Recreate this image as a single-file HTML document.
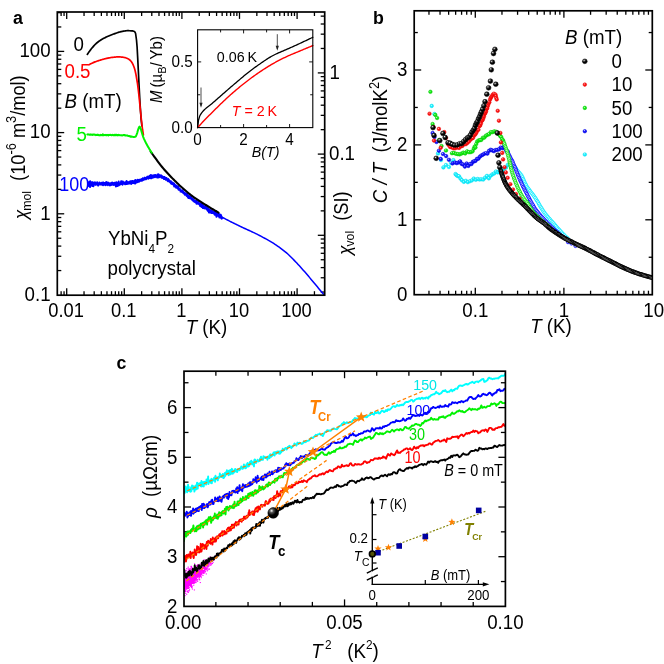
<!DOCTYPE html>
<html><head><meta charset="utf-8"><title>YbNi4P2 figure</title>
<style>html,body{margin:0;padding:0;background:#fff;}svg{display:block;font-family:"Liberation Sans",sans-serif;will-change:transform;}text{font-family:"Liberation Sans",sans-serif;}</style></head><body>
<svg width="664" height="664" viewBox="0 0 664 664">
<defs><radialGradient id="gk" cx="0.35" cy="0.3" r="0.7"><stop offset="0" stop-color="#fff"/><stop offset="0.25" stop-color="#555"/><stop offset="0.6" stop-color="#000"/></radialGradient><radialGradient id="gr" cx="0.38" cy="0.32" r="0.75"><stop offset="0" stop-color="#ffe0e0"/><stop offset="0.3" stop-color="#ff2020"/><stop offset="1" stop-color="#f00000"/></radialGradient><radialGradient id="gg" cx="0.38" cy="0.32" r="0.75"><stop offset="0" stop-color="#e0ffe0"/><stop offset="0.3" stop-color="#20f020"/><stop offset="1" stop-color="#00d800"/></radialGradient><radialGradient id="gb" cx="0.38" cy="0.32" r="0.75"><stop offset="0" stop-color="#d8d8ff"/><stop offset="0.3" stop-color="#2020ff"/><stop offset="1" stop-color="#0000e8"/></radialGradient><radialGradient id="gc" cx="0.38" cy="0.32" r="0.75"><stop offset="0" stop-color="#f0ffff"/><stop offset="0.3" stop-color="#30f4ff"/><stop offset="1" stop-color="#00e4f8"/></radialGradient><radialGradient id="gw" cx="0.5" cy="0.5" r="0.5"><stop offset="0" stop-color="#fff"/><stop offset="0.35" stop-color="#ddd"/><stop offset="0.75" stop-color="#111"/><stop offset="1" stop-color="#000"/></radialGradient></defs>
<rect x="0" y="0" width="664" height="664" fill="#fff"/>
<g id="panelA">
<line x1="61.12" y1="295.2" x2="61.12" y2="291.2" stroke="#000" stroke-width="1.3" />
<line x1="61.12" y1="12" x2="61.12" y2="16" stroke="#000" stroke-width="1.3" />
<line x1="64.06" y1="295.2" x2="64.06" y2="291.2" stroke="#000" stroke-width="1.3" />
<line x1="64.06" y1="12" x2="64.06" y2="16" stroke="#000" stroke-width="1.3" />
<line x1="66.7" y1="295.2" x2="66.7" y2="288.3" stroke="#000" stroke-width="1.3" />
<line x1="66.7" y1="12" x2="66.7" y2="18.9" stroke="#000" stroke-width="1.3" />
<line x1="84.04" y1="295.2" x2="84.04" y2="291.2" stroke="#000" stroke-width="1.3" />
<line x1="84.04" y1="12" x2="84.04" y2="16" stroke="#000" stroke-width="1.3" />
<line x1="94.18" y1="295.2" x2="94.18" y2="291.2" stroke="#000" stroke-width="1.3" />
<line x1="94.18" y1="12" x2="94.18" y2="16" stroke="#000" stroke-width="1.3" />
<line x1="101.38" y1="295.2" x2="101.38" y2="291.2" stroke="#000" stroke-width="1.3" />
<line x1="101.38" y1="12" x2="101.38" y2="16" stroke="#000" stroke-width="1.3" />
<line x1="106.96" y1="295.2" x2="106.96" y2="291.2" stroke="#000" stroke-width="1.3" />
<line x1="106.96" y1="12" x2="106.96" y2="16" stroke="#000" stroke-width="1.3" />
<line x1="111.52" y1="295.2" x2="111.52" y2="291.2" stroke="#000" stroke-width="1.3" />
<line x1="111.52" y1="12" x2="111.52" y2="16" stroke="#000" stroke-width="1.3" />
<line x1="115.38" y1="295.2" x2="115.38" y2="291.2" stroke="#000" stroke-width="1.3" />
<line x1="115.38" y1="12" x2="115.38" y2="16" stroke="#000" stroke-width="1.3" />
<line x1="118.72" y1="295.2" x2="118.72" y2="291.2" stroke="#000" stroke-width="1.3" />
<line x1="118.72" y1="12" x2="118.72" y2="16" stroke="#000" stroke-width="1.3" />
<line x1="121.66" y1="295.2" x2="121.66" y2="291.2" stroke="#000" stroke-width="1.3" />
<line x1="121.66" y1="12" x2="121.66" y2="16" stroke="#000" stroke-width="1.3" />
<line x1="124.3" y1="295.2" x2="124.3" y2="288.3" stroke="#000" stroke-width="1.3" />
<line x1="124.3" y1="12" x2="124.3" y2="18.9" stroke="#000" stroke-width="1.3" />
<line x1="141.64" y1="295.2" x2="141.64" y2="291.2" stroke="#000" stroke-width="1.3" />
<line x1="141.64" y1="12" x2="141.64" y2="16" stroke="#000" stroke-width="1.3" />
<line x1="151.78" y1="295.2" x2="151.78" y2="291.2" stroke="#000" stroke-width="1.3" />
<line x1="151.78" y1="12" x2="151.78" y2="16" stroke="#000" stroke-width="1.3" />
<line x1="158.98" y1="295.2" x2="158.98" y2="291.2" stroke="#000" stroke-width="1.3" />
<line x1="158.98" y1="12" x2="158.98" y2="16" stroke="#000" stroke-width="1.3" />
<line x1="164.56" y1="295.2" x2="164.56" y2="291.2" stroke="#000" stroke-width="1.3" />
<line x1="164.56" y1="12" x2="164.56" y2="16" stroke="#000" stroke-width="1.3" />
<line x1="169.12" y1="295.2" x2="169.12" y2="291.2" stroke="#000" stroke-width="1.3" />
<line x1="169.12" y1="12" x2="169.12" y2="16" stroke="#000" stroke-width="1.3" />
<line x1="172.98" y1="295.2" x2="172.98" y2="291.2" stroke="#000" stroke-width="1.3" />
<line x1="172.98" y1="12" x2="172.98" y2="16" stroke="#000" stroke-width="1.3" />
<line x1="176.32" y1="295.2" x2="176.32" y2="291.2" stroke="#000" stroke-width="1.3" />
<line x1="176.32" y1="12" x2="176.32" y2="16" stroke="#000" stroke-width="1.3" />
<line x1="179.26" y1="295.2" x2="179.26" y2="291.2" stroke="#000" stroke-width="1.3" />
<line x1="179.26" y1="12" x2="179.26" y2="16" stroke="#000" stroke-width="1.3" />
<line x1="181.9" y1="295.2" x2="181.9" y2="288.3" stroke="#000" stroke-width="1.3" />
<line x1="181.9" y1="12" x2="181.9" y2="18.9" stroke="#000" stroke-width="1.3" />
<line x1="199.24" y1="295.2" x2="199.24" y2="291.2" stroke="#000" stroke-width="1.3" />
<line x1="199.24" y1="12" x2="199.24" y2="16" stroke="#000" stroke-width="1.3" />
<line x1="209.38" y1="295.2" x2="209.38" y2="291.2" stroke="#000" stroke-width="1.3" />
<line x1="209.38" y1="12" x2="209.38" y2="16" stroke="#000" stroke-width="1.3" />
<line x1="216.58" y1="295.2" x2="216.58" y2="291.2" stroke="#000" stroke-width="1.3" />
<line x1="216.58" y1="12" x2="216.58" y2="16" stroke="#000" stroke-width="1.3" />
<line x1="222.16" y1="295.2" x2="222.16" y2="291.2" stroke="#000" stroke-width="1.3" />
<line x1="222.16" y1="12" x2="222.16" y2="16" stroke="#000" stroke-width="1.3" />
<line x1="226.72" y1="295.2" x2="226.72" y2="291.2" stroke="#000" stroke-width="1.3" />
<line x1="226.72" y1="12" x2="226.72" y2="16" stroke="#000" stroke-width="1.3" />
<line x1="230.58" y1="295.2" x2="230.58" y2="291.2" stroke="#000" stroke-width="1.3" />
<line x1="230.58" y1="12" x2="230.58" y2="16" stroke="#000" stroke-width="1.3" />
<line x1="233.92" y1="295.2" x2="233.92" y2="291.2" stroke="#000" stroke-width="1.3" />
<line x1="233.92" y1="12" x2="233.92" y2="16" stroke="#000" stroke-width="1.3" />
<line x1="236.86" y1="295.2" x2="236.86" y2="291.2" stroke="#000" stroke-width="1.3" />
<line x1="236.86" y1="12" x2="236.86" y2="16" stroke="#000" stroke-width="1.3" />
<line x1="239.5" y1="295.2" x2="239.5" y2="288.3" stroke="#000" stroke-width="1.3" />
<line x1="239.5" y1="12" x2="239.5" y2="18.9" stroke="#000" stroke-width="1.3" />
<line x1="256.84" y1="295.2" x2="256.84" y2="291.2" stroke="#000" stroke-width="1.3" />
<line x1="256.84" y1="12" x2="256.84" y2="16" stroke="#000" stroke-width="1.3" />
<line x1="266.98" y1="295.2" x2="266.98" y2="291.2" stroke="#000" stroke-width="1.3" />
<line x1="266.98" y1="12" x2="266.98" y2="16" stroke="#000" stroke-width="1.3" />
<line x1="274.18" y1="295.2" x2="274.18" y2="291.2" stroke="#000" stroke-width="1.3" />
<line x1="274.18" y1="12" x2="274.18" y2="16" stroke="#000" stroke-width="1.3" />
<line x1="279.76" y1="295.2" x2="279.76" y2="291.2" stroke="#000" stroke-width="1.3" />
<line x1="279.76" y1="12" x2="279.76" y2="16" stroke="#000" stroke-width="1.3" />
<line x1="284.32" y1="295.2" x2="284.32" y2="291.2" stroke="#000" stroke-width="1.3" />
<line x1="284.32" y1="12" x2="284.32" y2="16" stroke="#000" stroke-width="1.3" />
<line x1="288.18" y1="295.2" x2="288.18" y2="291.2" stroke="#000" stroke-width="1.3" />
<line x1="288.18" y1="12" x2="288.18" y2="16" stroke="#000" stroke-width="1.3" />
<line x1="291.52" y1="295.2" x2="291.52" y2="291.2" stroke="#000" stroke-width="1.3" />
<line x1="291.52" y1="12" x2="291.52" y2="16" stroke="#000" stroke-width="1.3" />
<line x1="294.46" y1="295.2" x2="294.46" y2="291.2" stroke="#000" stroke-width="1.3" />
<line x1="294.46" y1="12" x2="294.46" y2="16" stroke="#000" stroke-width="1.3" />
<line x1="297.1" y1="295.2" x2="297.1" y2="288.3" stroke="#000" stroke-width="1.3" />
<line x1="297.1" y1="12" x2="297.1" y2="18.9" stroke="#000" stroke-width="1.3" />
<line x1="314.44" y1="295.2" x2="314.44" y2="291.2" stroke="#000" stroke-width="1.3" />
<line x1="314.44" y1="12" x2="314.44" y2="16" stroke="#000" stroke-width="1.3" />
<line x1="57.3" y1="270.56" x2="61.3" y2="270.56" stroke="#000" stroke-width="1.3" />
<line x1="57.3" y1="256.26" x2="61.3" y2="256.26" stroke="#000" stroke-width="1.3" />
<line x1="57.3" y1="246.11" x2="61.3" y2="246.11" stroke="#000" stroke-width="1.3" />
<line x1="57.3" y1="238.24" x2="61.3" y2="238.24" stroke="#000" stroke-width="1.3" />
<line x1="57.3" y1="231.81" x2="61.3" y2="231.81" stroke="#000" stroke-width="1.3" />
<line x1="57.3" y1="226.38" x2="61.3" y2="226.38" stroke="#000" stroke-width="1.3" />
<line x1="57.3" y1="221.67" x2="61.3" y2="221.67" stroke="#000" stroke-width="1.3" />
<line x1="57.3" y1="217.52" x2="61.3" y2="217.52" stroke="#000" stroke-width="1.3" />
<line x1="57.3" y1="213.8" x2="64.2" y2="213.8" stroke="#000" stroke-width="1.3" />
<line x1="57.3" y1="189.36" x2="61.3" y2="189.36" stroke="#000" stroke-width="1.3" />
<line x1="57.3" y1="175.06" x2="61.3" y2="175.06" stroke="#000" stroke-width="1.3" />
<line x1="57.3" y1="164.91" x2="61.3" y2="164.91" stroke="#000" stroke-width="1.3" />
<line x1="57.3" y1="157.04" x2="61.3" y2="157.04" stroke="#000" stroke-width="1.3" />
<line x1="57.3" y1="150.61" x2="61.3" y2="150.61" stroke="#000" stroke-width="1.3" />
<line x1="57.3" y1="145.18" x2="61.3" y2="145.18" stroke="#000" stroke-width="1.3" />
<line x1="57.3" y1="140.47" x2="61.3" y2="140.47" stroke="#000" stroke-width="1.3" />
<line x1="57.3" y1="136.32" x2="61.3" y2="136.32" stroke="#000" stroke-width="1.3" />
<line x1="57.3" y1="132.6" x2="64.2" y2="132.6" stroke="#000" stroke-width="1.3" />
<line x1="57.3" y1="108.16" x2="61.3" y2="108.16" stroke="#000" stroke-width="1.3" />
<line x1="57.3" y1="93.86" x2="61.3" y2="93.86" stroke="#000" stroke-width="1.3" />
<line x1="57.3" y1="83.71" x2="61.3" y2="83.71" stroke="#000" stroke-width="1.3" />
<line x1="57.3" y1="75.84" x2="61.3" y2="75.84" stroke="#000" stroke-width="1.3" />
<line x1="57.3" y1="69.41" x2="61.3" y2="69.41" stroke="#000" stroke-width="1.3" />
<line x1="57.3" y1="63.98" x2="61.3" y2="63.98" stroke="#000" stroke-width="1.3" />
<line x1="57.3" y1="59.27" x2="61.3" y2="59.27" stroke="#000" stroke-width="1.3" />
<line x1="57.3" y1="55.12" x2="61.3" y2="55.12" stroke="#000" stroke-width="1.3" />
<line x1="57.3" y1="51.4" x2="64.2" y2="51.4" stroke="#000" stroke-width="1.3" />
<line x1="57.3" y1="26.96" x2="61.3" y2="26.96" stroke="#000" stroke-width="1.3" />
<line x1="57.3" y1="12.66" x2="61.3" y2="12.66" stroke="#000" stroke-width="1.3" />
<line x1="324.7" y1="292.06" x2="320.7" y2="292.06" stroke="#000" stroke-width="1.3" />
<line x1="324.7" y1="277.76" x2="320.7" y2="277.76" stroke="#000" stroke-width="1.3" />
<line x1="324.7" y1="267.61" x2="320.7" y2="267.61" stroke="#000" stroke-width="1.3" />
<line x1="324.7" y1="259.74" x2="320.7" y2="259.74" stroke="#000" stroke-width="1.3" />
<line x1="324.7" y1="253.31" x2="320.7" y2="253.31" stroke="#000" stroke-width="1.3" />
<line x1="324.7" y1="247.88" x2="320.7" y2="247.88" stroke="#000" stroke-width="1.3" />
<line x1="324.7" y1="243.17" x2="320.7" y2="243.17" stroke="#000" stroke-width="1.3" />
<line x1="324.7" y1="239.02" x2="320.7" y2="239.02" stroke="#000" stroke-width="1.3" />
<line x1="324.7" y1="235.3" x2="317.8" y2="235.3" stroke="#000" stroke-width="1.3" />
<line x1="324.7" y1="210.86" x2="320.7" y2="210.86" stroke="#000" stroke-width="1.3" />
<line x1="324.7" y1="196.56" x2="320.7" y2="196.56" stroke="#000" stroke-width="1.3" />
<line x1="324.7" y1="186.41" x2="320.7" y2="186.41" stroke="#000" stroke-width="1.3" />
<line x1="324.7" y1="178.54" x2="320.7" y2="178.54" stroke="#000" stroke-width="1.3" />
<line x1="324.7" y1="172.11" x2="320.7" y2="172.11" stroke="#000" stroke-width="1.3" />
<line x1="324.7" y1="166.68" x2="320.7" y2="166.68" stroke="#000" stroke-width="1.3" />
<line x1="324.7" y1="161.97" x2="320.7" y2="161.97" stroke="#000" stroke-width="1.3" />
<line x1="324.7" y1="157.82" x2="320.7" y2="157.82" stroke="#000" stroke-width="1.3" />
<line x1="324.7" y1="154.1" x2="317.8" y2="154.1" stroke="#000" stroke-width="1.3" />
<line x1="324.7" y1="129.66" x2="320.7" y2="129.66" stroke="#000" stroke-width="1.3" />
<line x1="324.7" y1="115.36" x2="320.7" y2="115.36" stroke="#000" stroke-width="1.3" />
<line x1="324.7" y1="105.21" x2="320.7" y2="105.21" stroke="#000" stroke-width="1.3" />
<line x1="324.7" y1="97.34" x2="320.7" y2="97.34" stroke="#000" stroke-width="1.3" />
<line x1="324.7" y1="90.91" x2="320.7" y2="90.91" stroke="#000" stroke-width="1.3" />
<line x1="324.7" y1="85.48" x2="320.7" y2="85.48" stroke="#000" stroke-width="1.3" />
<line x1="324.7" y1="80.77" x2="320.7" y2="80.77" stroke="#000" stroke-width="1.3" />
<line x1="324.7" y1="76.62" x2="320.7" y2="76.62" stroke="#000" stroke-width="1.3" />
<line x1="324.7" y1="72.9" x2="317.8" y2="72.9" stroke="#000" stroke-width="1.3" />
<line x1="324.7" y1="48.46" x2="320.7" y2="48.46" stroke="#000" stroke-width="1.3" />
<line x1="324.7" y1="34.16" x2="320.7" y2="34.16" stroke="#000" stroke-width="1.3" />
<line x1="324.7" y1="24.01" x2="320.7" y2="24.01" stroke="#000" stroke-width="1.3" />
<line x1="324.7" y1="16.14" x2="320.7" y2="16.14" stroke="#000" stroke-width="1.3" />
<path d="M87.3 54.4 L87.91 53.5 L88.52 52.62 L89.13 51.76 L89.75 50.92 L90.36 50.11 L90.97 49.34 L91.58 48.58 L92.19 47.83 L92.8 47.1 L93.41 46.38 L94.03 45.68 L94.64 45.01 L95.25 44.38 L95.86 43.79 L96.47 43.24 L97.08 42.72 L97.69 42.23 L98.31 41.76 L98.92 41.3 L99.53 40.87 L100.14 40.45 L100.75 40.05 L101.36 39.67 L101.97 39.3 L102.58 38.95 L103.2 38.61 L103.81 38.29 L104.42 37.97 L105.03 37.67 L105.64 37.38 L106.25 37.1 L106.86 36.82 L107.48 36.55 L108.09 36.28 L108.7 36.02 L109.31 35.76 L109.92 35.51 L110.53 35.25 L111.14 35 L111.76 34.76 L112.37 34.52 L112.98 34.28 L113.59 34.05 L114.2 33.83 L114.81 33.61 L115.42 33.4 L116.04 33.19 L116.65 32.98 L117.26 32.77 L117.87 32.56 L118.48 32.36 L119.09 32.16 L119.7 31.98 L120.32 31.82 L120.93 31.68 L121.54 31.55 L122.15 31.44 L122.76 31.32 L123.37 31.2 L123.98 31.09 L124.59 30.99 L125.21 30.9 L125.82 30.83 L126.43 30.77 L127.04 30.72 L127.65 30.7 L128.26 30.7 L128.87 30.71 L129.49 30.73 L130.1 30.76 L130.71 30.8 L131.32 30.84 L131.93 30.89 L132.54 30.96 L133.15 31.07 L133.77 31.24 L134.38 31.49 L134.99 32.1 L135.6 33.5 L136.5 40 L137.1 47 L137.7 58 L138.3 70 L138.8 80 L139.4 92 L140 103 L140.6 112 L141.2 120 L141.9 126" fill="none" stroke="#000" stroke-width="1.7" stroke-linejoin="round" stroke-linecap="round" />
<path d="M88.9 182.29 L89.02 186.11 L89.14 181.9 L89.26 184.92 L89.38 186.1 L89.51 181.42 L89.63 183.5 L89.75 181.93 L89.87 184.35 L89.99 186.28 L90.11 187.01 L90.23 181.32 L90.35 183.11 L90.47 184.97 L90.6 186.2 L90.72 184.54 L90.84 182.91 L90.96 184.35 L91.08 183.91 L91.2 183.66 L91.32 182.97 L91.44 184.43 L91.56 184.31 L91.69 183.8 L91.81 183.64 L91.93 182.36 L92.05 183.33 L92.17 185.31 L92.29 183.69 L92.41 182.29 L92.53 185.36 L92.65 184.46 L92.78 186.1 L92.9 183.95 L93.02 183.43 L93.14 182.48 L93.26 185.14 L93.38 186.25 L93.5 183.14 L93.62 183.31 L93.74 184.38 L93.87 183.18 L93.99 183.65 L94.11 183.58 L94.23 184.02 L94.35 184.73 L94.47 183.87 L94.59 184.59 L94.71 183.52 L94.83 184.11 L94.96 182.14 L95.08 182.69 L95.2 184.48 L95.32 183.37 L95.44 184.3 L95.56 184.27 L95.68 184.89 L95.8 184.48 L95.92 184.64 L96.05 183.74 L96.17 183.27 L96.29 183.24 L96.41 183.44 L96.53 182.93 L96.65 183.39 L96.77 183.75 L96.89 184.02 L97.01 183.55 L97.14 182.29 L97.26 183.76 L97.38 183.99 L97.5 184.67 L97.62 184.27 L97.74 183.3 L97.86 183.24 L97.98 185.4 L98.1 184.41 L98.23 185.26 L98.35 185.49 L98.47 183.16 L98.59 184.11 L98.71 184.17 L98.83 184.25 L98.95 184.23 L99.07 183.96 L99.19 183.94 L99.32 182.61 L99.44 183.67 L99.56 183.21 L99.68 183.9 L99.8 183.43 L99.92 184.29 L100.04 184.45 L100.16 184.04 L100.28 184.05 L100.41 183.87 L100.53 183.45 L100.65 183.67 L100.77 183.41 L100.89 184.11 L101.01 183.81 L101.13 184.26 L101.25 182.76 L101.37 184.5 L101.5 183.21 L101.62 183.23 L101.74 183.65 L101.86 183.36 L101.98 184.04 L102.1 183.36 L102.22 182.97 L102.34 183.15 L102.46 184.84 L102.59 183.85 L102.71 182.9 L102.83 183.82 L102.95 182.6 L103.07 185.22 L103.19 182.62 L103.31 184.19 L103.43 184.24 L103.55 182.69 L103.68 184.06 L103.8 184.6 L103.92 184.19 L104.04 184.03 L104.16 184.57 L104.28 183.95 L104.4 184.09 L104.52 183.73 L104.64 184.33 L104.77 183.1 L104.89 184.45 L105.01 183.44 L105.13 182.99 L105.25 184.12 L105.37 185.16 L105.49 184.59 L105.61 183.44 L105.73 184.39 L105.86 183.5 L105.98 183.75 L106.1 183.92 L106.22 182.05 L106.34 184 L106.46 183.06 L106.58 183.32 L106.7 182.72 L106.82 182.68 L106.95 183.13 L107.07 184.5 L107.19 185.16 L107.31 183.85 L107.43 184.71 L107.55 183.66 L107.67 182.39 L107.79 183.99 L107.91 184.22 L108.04 183.54 L108.16 184.11 L108.28 184.32 L108.4 183.21 L108.52 182.74 L108.64 183.71 L108.76 183.72 L108.88 183.61 L109 184.65 L109.13 185.22 L109.25 183.57 L109.37 184.43 L109.49 184.61 L109.61 184.44 L109.73 184.7 L109.85 183.59 L109.97 184.46 L110.09 185.45 L110.22 184.51 L110.34 183.42 L110.46 184.36 L110.58 184.87 L110.7 184.18 L110.82 183.46 L110.94 185.08 L111.06 182.94 L111.18 184.28 L111.31 183.89 L111.43 182.98 L111.55 184.83 L111.67 184.17 L111.79 183.01 L111.91 184.36 L112.03 183.57 L112.15 182.44 L112.27 183.37 L112.4 184.1 L112.52 184.38 L112.64 184.02 L112.76 183.93 L112.88 184.25 L113 183.73 L113.12 184.79 L113.24 184 L113.36 184.11 L113.49 184.29 L113.61 183.07 L113.73 183.33 L113.85 185.04 L113.97 184.12 L114.09 183.65 L114.21 184.12 L114.33 183.49 L114.45 184.06 L114.58 183.34 L114.7 184.05 L114.82 182.64 L114.94 184.84 L115.06 183.43 L115.18 182.62 L115.3 183.64 L115.42 183.52 L115.54 183.91 L115.67 182.92 L115.79 184.09 L115.91 186.52 L116.03 182.8 L116.15 184.02 L116.27 183.52 L116.39 183.89 L116.51 182.37 L116.63 182.86 L116.76 184.07 L116.88 183.69 L117 184.94 L117.12 183.17 L117.24 183.82 L117.36 185.88 L117.48 183.1 L117.6 182.98 L117.72 183.63 L117.85 183.61 L117.97 184.27 L118.09 183.73 L118.21 183.05 L118.33 183.77 L118.45 185.59 L118.57 184.55 L118.69 181.49 L118.81 183.46 L118.94 182.9 L119.06 184.02 L119.18 183.41 L119.3 184.98 L119.42 184.22 L119.54 184.18 L119.66 183.64 L119.78 183.46 L119.9 183.73 L120.03 184.44 L120.15 183.85 L120.27 183.18 L120.39 184.39 L120.51 183.56 L120.63 183.35 L120.75 182.81 L120.87 182.96 L120.99 182.9 L121.12 181.27 L121.24 184.11 L121.36 183.76 L121.48 183.17 L121.6 184.1 L121.72 183.63 L121.84 183.57 L121.96 181.44 L122.08 183.1 L122.21 183.66 L122.33 184.45 L122.45 184.61 L122.57 184.29 L122.69 182.35 L122.81 181.57 L122.93 183.62 L123.05 183.2 L123.17 183.89 L123.3 183.06 L123.42 183.31 L123.54 182.02 L123.66 183.46 L123.78 182.78 L123.9 183.36 L124.02 183.43 L124.14 182.99 L124.26 183.3 L124.39 183.05 L124.51 183.61 L124.63 183.41 L124.75 182.62 L124.87 182.58 L124.99 184.29 L125.11 182.91 L125.23 183.71 L125.35 183.26 L125.48 182.54 L125.6 182.39 L125.72 183.02 L125.84 183.11 L125.96 183.37 L126.08 181.97 L126.2 182.45 L126.32 182.81 L126.44 184.05 L126.57 181.11 L126.69 183.17 L126.81 182.44 L126.93 183.14 L127.05 182.45 L127.17 183.07 L127.29 183.94 L127.41 183.04 L127.53 183.09 L127.66 183.03 L127.78 182.19 L127.9 183.13 L128.02 182.57 L128.14 182.11 L128.26 182.67 L128.38 182.52 L128.5 183.22 L128.62 182.63 L128.75 182.26 L128.87 183.7 L128.99 183.35 L129.11 183.54 L129.23 183.04 L129.35 182.5 L129.47 182.26 L129.59 182.35 L129.71 183.24 L129.84 182.61 L129.96 181.43 L130.08 182.47 L130.2 181.45 L130.32 182.6 L130.44 181.58 L130.56 181.52 L130.68 182.52 L130.8 182.36 L130.93 181.19 L131.05 182.94 L131.17 183.96 L131.29 181.28 L131.41 183.68 L131.53 181.83 L131.65 181.95 L131.77 182.17 L131.89 181.23 L132.02 183.22 L132.14 182.61 L132.26 181.69 L132.38 182.02 L132.5 181.1 L132.62 181.93 L132.74 182.85 L132.86 180.9 L132.98 181.82 L133.11 182.23 L133.23 182.87 L133.35 183.07 L133.47 181.74 L133.59 181.51 L133.71 182.36 L133.83 181.75 L133.95 181.77 L134.07 182.76 L134.2 183.19 L134.32 182.13 L134.44 181.78 L134.56 182.32 L134.68 180.51 L134.8 181.85 L134.92 181.07 L135.04 183.55 L135.16 182.32 L135.29 181.88 L135.41 181.62 L135.53 179.92 L135.65 182.23 L135.77 182.88 L135.89 181.15 L136.01 182.15 L136.13 182.15 L136.25 180.49 L136.38 182.26 L136.5 182.54 L136.62 181.7 L136.74 181.47 L136.86 182.05 L136.98 180.34 L137.1 181.49 L137.22 182.16 L137.34 180.47 L137.47 182.05 L137.59 181 L137.71 179.77 L137.83 181.16 L137.95 180.5 L138.07 181.39 L138.19 180.28 L138.31 181.84 L138.43 180.52 L138.56 181.26 L138.68 180.54 L138.8 180.7 L138.92 181.74 L139.04 181 L139.16 180.52 L139.28 179.86 L139.4 181.55 L139.52 181.2 L139.65 180.39 L139.77 180.76 L139.89 179.8 L140.01 179.76 L140.13 179.85 L140.25 180.65 L140.37 180.57 L140.49 179.77 L140.61 180.79 L140.74 180.77 L140.86 180.29 L140.98 180.86 L141.1 179.86 L141.22 179.94 L141.34 180.31 L141.46 179.9 L141.58 180.44 L141.7 178.93 L141.83 180.8 L141.95 179.17 L142.07 179.57 L142.19 178.65 L142.31 180.01 L142.43 180.45 L142.55 180.25 L142.67 180.04 L142.79 178.29 L142.92 178.79 L143.04 178.97 L143.16 178.59 L143.28 180.01 L143.4 179.29 L143.52 179.1 L143.64 179.42 L143.76 178.35 L143.88 178.34 L144.01 178.31 L144.13 179.25 L144.25 179.1 L144.37 179.22 L144.49 179.53 L144.61 177.77 L144.73 178.29 L144.85 178.75 L144.97 177.65 L145.1 178.19 L145.22 179.25 L145.34 179.27 L145.46 179.21 L145.58 178.44 L145.7 178.22 L145.82 179.1 L145.94 178.03 L146.06 178.49 L146.19 179.15 L146.31 177.91 L146.43 177.7 L146.55 178.08 L146.67 178.47 L146.79 178.35 L146.91 178.08 L147.03 178.32 L147.15 176.76 L147.28 177.24 L147.4 177.93 L147.52 177.12 L147.64 176.79 L147.76 176.84 L147.88 177.01 L148 177.49 L148.12 176.86 L148.24 177.7 L148.37 178.69 L148.49 177.36 L148.61 178.32 L148.73 177.59 L148.85 176.57 L148.97 177.14 L149.09 176.59 L149.21 177.78 L149.33 176.4 L149.46 178.1 L149.58 177.55 L149.7 175.7 L149.82 177.63 L149.94 178.14 L150.06 176.46 L150.18 177.68 L150.3 175.7 L150.42 177.1 L150.55 175.74 L150.67 177.21 L150.79 175.6 L150.91 174.99 L151.03 177.07 L151.15 178.36 L151.27 176.33 L151.39 177.29 L151.51 176.77 L151.64 176.44 L151.76 177.07 L151.88 177.75 L152 175.73 L152.12 176.95 L152.24 176.77 L152.36 175.52 L152.48 177.6 L152.6 177.8 L152.73 175.77 L152.85 177.6 L152.97 176.42 L153.09 176.24 L153.21 177.36 L153.33 176.46 L153.45 176.5 L153.57 177.3 L153.69 177.12 L153.82 176.82 L153.94 175.23 L154.06 175.09 L154.18 176.91 L154.3 175.49 L154.42 176.21 L154.54 175.35 L154.66 175.94 L154.78 175.18 L154.91 177.14 L155.03 175.32 L155.15 175.92 L155.27 175.86 L155.39 176.79 L155.51 175 L155.63 175.93 L155.75 175.8 L155.87 176.29 L155.99 176.24 L156.12 175.6 L156.24 176.07 L156.36 175.65 L156.48 176.22 L156.6 175.83 L156.72 175.46 L156.84 175.88 L156.96 176.15 L157.08 177.43 L157.21 175.58 L157.33 176.12 L157.45 176.9 L157.57 174.54 L157.69 174.77 L157.81 175.15 L157.93 175.88 L158.05 177.59 L158.17 176.24 L158.3 176.79 L158.42 175.85 L158.54 174.37 L158.66 174.49 L158.78 176.72 L158.9 176.18 L159.02 175.21 L159.14 176.83 L159.26 175.09 L159.39 176.88 L159.51 177.11 L159.63 175.66 L159.75 175.45 L159.87 176.76 L159.99 175.5 L160.11 176.81 L160.23 175.48 L160.35 176.82 L160.48 176.37 L160.6 176.04 L160.72 175.76 L160.84 176.53 L160.96 175.15 L161.08 176.23 L161.2 176.18 L161.32 176.91 L161.44 175.68 L161.57 177.65 L161.69 176.36 L161.81 175.85 L161.93 177.54 L162.05 177.75 L162.17 176.59 L162.29 176.17 L162.41 176.8 L162.53 176.39 L162.66 176.68 L162.78 177.94 L162.9 177.23 L163.02 177.12 L163.14 177.3 L163.26 177.09 L163.38 177.73 L163.5 177.8 L163.62 177.05 L163.75 177.41 L163.87 178.95 L163.99 177.72 L164.11 177.38 L164.23 178.88 L164.35 177.63 L164.47 176.98 L164.59 178.18 L164.71 177.23 L164.84 177.56 L164.96 178.16 L165.08 177.94 L165.2 177.61 L165.32 177.82 L165.44 177.87 L165.56 179.07 L165.68 177.94 L165.8 178.12 L165.93 179.86 L166.05 178.29 L166.17 179.67 L166.29 179.64 L166.41 178.8 L166.53 178.08 L166.65 179.35 L166.77 179.57 L166.89 179.84 L167.02 179.36 L167.14 180.16 L167.26 180.36 L167.38 178.9 L167.5 180.56 L167.62 179.86 L167.74 179.48 L167.86 179.73 L167.98 181.2 L168.11 180.73 L168.23 179.09 L168.35 180.36 L168.47 180.31 L168.59 180.39 L168.71 180.27 L168.83 179.78 L168.95 181.32 L169.07 180.3 L169.2 180.75 L169.32 180.7 L169.44 180.72 L169.56 181.73 L169.68 181.61 L169.8 181.05 L169.92 180.97 L170.04 181.37 L170.16 182.35 L170.29 181.92 L170.41 182.08 L170.53 181.83 L170.65 181.97 L170.77 182.36 L170.89 181.18 L171.01 183.41 L171.13 182.02 L171.25 182.25 L171.38 183.52 L171.5 182.93 L171.62 182.91 L171.74 182.63 L171.86 182.12 L171.98 183.29 L172.1 184 L172.22 182.81 L172.34 184.29 L172.47 182.87 L172.59 183.2 L172.71 184.05 L172.83 183.84 L172.95 184.35 L173.07 183.58 L173.19 183.5 L173.31 183.09 L173.43 183.59 L173.56 183.76 L173.68 183.64 L173.8 184.79 L173.92 184.3 L174.04 183.59 L174.16 186.39 L174.28 184.48 L174.4 184.32 L174.52 185.92 L174.65 185.97 L174.77 184.68 L174.89 184.58 L175.01 184.96 L175.13 186.33 L175.25 185.56 L175.37 185.36 L175.49 185.93 L175.61 186.76 L175.74 185.3 L175.86 186 L175.98 185.5 L176.1 187.73 L176.22 187.62 L176.34 187.19 L176.46 186.63 L176.58 187.21 L176.7 185.64 L176.83 187.17 L176.95 186.29 L177.07 186.4 L177.19 186.87 L177.31 187.18 L177.43 187.83 L177.55 188.01 L177.67 187.84 L177.79 187.2 L177.92 188.28 L178.04 187.9 L178.16 188.78 L178.28 187.61 L178.4 186.58 L178.52 188.07 L178.64 189.76 L178.76 188.84 L178.88 188.53 L179.01 189.29 L179.13 189.15 L179.25 189.23 L179.37 188.73 L179.49 189.19 L179.61 189.36 L179.73 188.95 L179.85 188.76 L179.97 189.62 L180.1 190.22 L180.22 190.13 L180.34 190.13 L180.46 190.24 L180.58 191.61 L180.7 190.29 L180.82 190.86 L180.94 191.52 L181.06 190.45 L181.19 190.68 L181.31 191.26 L181.43 191.75 L181.55 191.01 L181.67 191.14 L181.79 191.07 L181.91 190.37 L182.03 191.9 L182.15 191.15 L182.28 190.35 L182.4 191.42 L182.52 190.54 L182.64 191.08 L182.76 191.81 L182.88 191.33 L183 192.66 L183.12 191.19 L183.24 192.36 L183.37 192.64 L183.49 193.29 L183.61 193.06 L183.73 192.73 L183.85 192.74 L183.97 192.75 L184.09 193.59 L184.21 192.57 L184.33 193.4 L184.46 193.11 L184.58 193.42 L184.7 193.2 L184.82 194.79 L184.94 193.15 L185.06 193.81 L185.18 193.92 L185.3 194.23 L185.42 194.22 L185.55 194.31 L185.67 194.75 L185.79 193.3 L185.91 194.34 L186.03 193.66 L186.15 194.67 L186.27 193.89 L186.39 194.12 L186.51 194.78 L186.64 195.78 L186.76 195.37 L186.88 195.29 L187 196.08 L187.12 194.71 L187.24 194.09 L187.36 195.23 L187.48 195.42 L187.6 196.46 L187.73 197.12 L187.85 195.05 L187.97 197.53 L188.09 197.05 L188.21 196.7 L188.33 196.5 L188.45 197.88 L188.57 196.51 L188.69 196.26 L188.82 196.74 L188.94 195.89 L189.06 197.14 L189.18 196.87 L189.3 197.24 L189.42 197.36 L189.54 196.56 L189.66 198.15 L189.78 196.77 L189.91 198.07 L190.03 196.6 L190.15 197.93 L190.27 197.27 L190.39 197.91 L190.51 197.56 L190.63 196.69 L190.75 197.46 L190.87 198.3 L191 198.74 L191.12 197.51 L191.24 197.19 L191.36 198.07 L191.48 198.58 L191.6 198.4 L191.72 198.38 L191.84 199.52 L191.96 199.69 L192.09 199.63 L192.21 198.66 L192.33 199.39 L192.45 199.31 L192.57 198.61 L192.69 200.16 L192.81 199.75 L192.93 199.47 L193.05 200.77 L193.18 200.44 L193.3 200.58 L193.42 200.89 L193.54 200.66 L193.66 199.49 L193.78 200.13 L193.9 201.1 L194.02 200.06 L194.14 200.65 L194.27 200.97 L194.39 201.72 L194.51 201.71 L194.63 201.54 L194.75 200.93 L194.87 201.71 L194.99 201.55 L195.11 201.19 L195.23 202.25 L195.36 201.77 L195.48 201.06 L195.6 202.43 L195.72 201.54 L195.84 202.16 L195.96 200.89 L196.08 201.93 L196.2 201.42 L196.32 201.48 L196.45 200.96 L196.57 203.64 L196.69 202.25 L196.81 202.58 L196.93 203.22 L197.05 202.51 L197.17 203 L197.29 201.87 L197.41 202.95 L197.54 202.64 L197.66 203.31 L197.78 203.18 L197.9 202.25 L198.02 202.02 L198.14 202.64 L198.26 203.85 L198.38 203.73 L198.5 203.8 L198.63 202.31 L198.75 201.95 L198.87 203.37 L198.99 203.63 L199.11 203.54 L199.23 204.24 L199.35 203.97 L199.47 203.39 L199.59 203.67 L199.72 204.41 L199.84 204.44 L199.96 204.43 L200.08 206.03 L200.2 204.46 L200.32 204.79 L200.44 204.13 L200.56 204.63 L200.68 205.29 L200.81 205.4 L200.93 205 L201.05 205.44 L201.17 205.29 L201.29 204.07 L201.41 203.2 L201.53 207.06 L201.65 206.13 L201.77 205.61 L201.9 204.53 L202.02 204.93 L202.14 206.81 L202.26 204.03 L202.38 205.81 L202.5 206.71 L202.62 206.29 L202.74 206.79 L202.86 206.25 L202.99 208.1 L203.11 205.77 L203.23 205.61 L203.35 206.84 L203.47 207.74 L203.59 206.76 L203.71 207.63 L203.83 206.57 L203.95 206.18 L204.08 208.12 L204.2 208.32 L204.32 208.37 L204.44 207.01 L204.56 206.56 L204.68 206.63 L204.8 207.4 L204.92 208.07 L205.04 208.09 L205.17 206.72 L205.29 208.01 L205.41 207.95 L205.53 208.08 L205.65 208.07 L205.77 208.01 L205.89 208.68 L206.01 208.41 L206.13 208.56 L206.26 207.93 L206.38 208.84 L206.5 208.52 L206.62 207.06 L206.74 209.13 L206.86 208.63 L206.98 209.62 L207.1 208.85 L207.22 208.98 L207.35 209.29 L207.47 209.19 L207.59 208.92 L207.71 207.93 L207.83 210.87 L207.95 208.24 L208.07 209.29 L208.19 210.16 L208.31 210.01 L208.44 210.24 L208.56 210.47 L208.68 210.94 L208.8 210.24 L208.92 212.42 L209.04 209.32 L209.16 210.4 L209.28 209.99 L209.4 209.91 L209.53 210.67 L209.65 211.7 L209.77 209.99 L209.89 210.06 L210.01 211.32 L210.13 211.24 L210.25 212.49 L210.37 211.79 L210.49 211.2 L210.62 210.8 L210.74 211.33 L210.86 211.07 L210.98 210.13 L211.1 211.36 L211.22 211.28 L211.34 211.3 L211.46 211.2 L211.58 213.09 L211.71 212.31 L211.83 212.58 L211.95 211.32 L212.07 211.03 L212.19 211.74 L212.31 212.27 L212.43 211.82 L212.55 212.03 L212.67 213.1 L212.8 212.59 L212.92 211.53 L213.04 212.09 L213.16 211.95 L213.28 212.76 L213.4 211.63 L213.52 212.58 L213.64 213.42 L213.76 212.9 L213.89 212.12 L214.01 212.45 L214.13 213.18 L214.25 213.58 L214.37 213.97 L214.49 213.13 L214.61 212.12 L214.73 214.72 L214.85 213.74 L214.98 213.91 L215.1 213.88 L215.22 212.67 L215.34 213.42 L215.46 214.03 L215.58 214.84 L215.7 213.97 L215.82 210.94 L215.94 213.8 L216.07 214.45 L216.19 215.44 L216.31 214.94 L216.43 216.78 L216.55 215.78 L216.67 215.78 L216.79 215.43 L216.91 213.14 L217.03 215.47 L217.16 215.28 L217.28 214.19 L217.4 215.4 L217.52 215.29 L217.64 214.43 L217.76 214.85 L217.88 214.76 L218 215.35 L218.12 214.71 L218.25 215.81 L218.37 213.23 L218.49 215.04 L218.61 213.58 L218.73 214.95 L218.85 216.1 L218.97 215.62 L219.09 215.54 L219.21 215.79 L219.34 217.46 L219.46 214.68 L219.58 216.83 L219.7 214.41 L219.82 215.56 L219.94 216.26 L220.06 215.31 L220.18 216.42 L220.3 216.99 L220.43 215.2 L220.55 216.33 L220.67 216.12 L220.79 214.74 L220.91 216.43 L221.03 215.94 L221.15 217.91 L221.27 216.02 L221.39 218.31 L221.52 216.46 L221.64 218.6 L221.76 217.49 L221.88 217.48 L222 217.82" fill="none" stroke="#0000ff" stroke-width="2.0" stroke-linejoin="round" stroke-linecap="round" />
<path d="M221.03 215.94 L221.15 217.91 L221.27 216.02 L221.39 218.31 L221.52 216.46 L221.64 218.6 L221.76 217.49 L221.88 217.48 L222 217.82 L222.3 217.33 L223.58 218.02 L224.87 218.71 L226.15 219.38 L227.44 220.04 L228.72 220.69 L230.01 221.34 L231.29 221.98 L232.58 222.61 L233.86 223.24 L235.15 223.87 L236.43 224.5 L237.72 225.12 L239 225.75 L240.29 226.36 L241.57 226.98 L242.86 227.59 L244.14 228.2 L245.43 228.8 L246.71 229.39 L248 229.97 L249.28 230.55 L250.57 231.13 L251.85 231.72 L253.14 232.31 L254.42 232.92 L255.71 233.55 L256.99 234.19 L258.27 234.84 L259.56 235.5 L260.84 236.17 L262.13 236.85 L263.41 237.54 L264.7 238.24 L265.98 238.93 L267.27 239.64 L268.55 240.35 L269.84 241.07 L271.12 241.82 L272.41 242.6 L273.69 243.42 L274.98 244.26 L276.26 245.13 L277.55 246.03 L278.83 246.95 L280.12 247.89 L281.4 248.84 L282.69 249.82 L283.97 250.83 L285.26 251.86 L286.54 252.93 L287.83 254.05 L289.11 255.21 L290.39 256.44 L291.68 257.72 L292.96 259.03 L294.25 260.37 L295.53 261.71 L296.82 263.06 L298.1 264.44 L299.39 265.84 L300.67 267.26 L301.96 268.69 L303.24 270.14 L304.53 271.6 L305.81 273.08 L307.1 274.58 L308.38 276.1 L309.67 277.62 L310.95 279.15 L312.24 280.68 L313.52 282.21 L314.81 283.76 L316.09 285.3 L317.38 286.85 L318.66 288.4 L319.95 289.94 L321.23 291.49 L322.52 293.05 L323.8 294.6" fill="none" stroke="#0000ff" stroke-width="1.5" stroke-linejoin="round" stroke-linecap="round" />
<path d="M150.6 151.5 L151.75 153.13 L152.9 154.75 L154.05 156.35 L155.2 157.92 L156.35 159.48 L157.51 161.03 L158.66 162.57 L159.81 164.09 L160.96 165.57 L162.11 167 L163.26 168.38 L164.41 169.72 L165.56 171.01 L166.71 172.28 L167.86 173.53 L169.01 174.75 L170.16 175.97 L171.32 177.18 L172.47 178.38 L173.62 179.56 L174.77 180.73 L175.92 181.87 L177.07 182.99 L178.22 184.1 L179.37 185.18 L180.52 186.24 L181.67 187.29 L182.82 188.31 L183.97 189.32 L185.13 190.31 L186.28 191.28 L187.43 192.24 L188.58 193.19 L189.73 194.11 L190.88 195.02 L192.03 195.9 L193.18 196.75 L194.33 197.58 L195.48 198.39 L196.63 199.18 L197.78 199.95 L198.94 200.71 L200.09 201.46 L201.24 202.19 L202.39 202.91 L203.54 203.61 L204.69 204.31 L205.84 205.01 L206.99 205.7 L208.14 206.41 L209.29 207.12 L210.44 207.84 L211.59 208.55 L212.75 209.25 L213.9 209.93 L215.05 210.61 L216.2 211.28 L217.35 211.95 L218.5 212.6" fill="none" stroke="#000" stroke-width="2.1" stroke-linejoin="round" stroke-linecap="round" />
<path d="M89 64.7 L89.6 64.38 L90.2 64.07 L90.8 63.77 L91.4 63.48 L92 63.19 L92.6 62.91 L93.2 62.64 L93.8 62.39 L94.4 62.14 L95 61.9 L95.6 61.67 L96.2 61.45 L96.8 61.24 L97.4 61.04 L98 60.84 L98.6 60.65 L99.2 60.46 L99.8 60.28 L100.4 60.1 L101 59.92 L101.6 59.74 L102.2 59.56 L102.8 59.39 L103.4 59.21 L104 59.04 L104.6 58.88 L105.2 58.72 L105.8 58.57 L106.4 58.43 L107 58.3 L107.6 58.18 L108.2 58.06 L108.8 57.94 L109.4 57.83 L110 57.73 L110.6 57.63 L111.2 57.53 L111.8 57.45 L112.4 57.37 L113 57.3 L113.6 57.23 L114.2 57.17 L114.8 57.1 L115.4 57.04 L116 56.99 L116.6 56.95 L117.2 56.92 L117.8 56.9 L118.4 56.9 L119 56.92 L119.6 56.94 L120.2 56.97 L120.8 57.01 L121.4 57.06 L122 57.11 L122.6 57.17 L123.2 57.24 L123.8 57.33 L124.4 57.46 L125 57.62 L125.6 57.8 L126.2 58 L126.8 58.21 L127.4 58.46 L128 58.76 L128.6 59.11 L129.2 59.51 L129.8 59.96 L130.4 60.52 L131 61.21 L131.6 62.01 L132.2 62.92 L132.8 64.07 L133.4 65.45 L134 67 L134.6 68.83 L135.2 71 L135.8 73.72 L136.4 77 L137.4 83 L138.3 90 L139.1 97 L139.8 104 L140.5 111 L141.2 118 L141.9 124.5 L142.6 130 L143.4 135" fill="none" stroke="#ff0000" stroke-width="1.7" stroke-linejoin="round" stroke-linecap="round" />
<path d="M87.3 134.54 L87.71 134.43 L88.11 134.33 L88.52 134.5 L88.92 134.48 L89.33 134.8 L89.73 134.79 L90.14 134.39 L90.55 134.77 L90.95 134.57 L91.36 134.77 L91.76 134.6 L92.17 134.41 L92.57 134.93 L92.98 134.83 L93.38 134.51 L93.79 134.39 L94.2 134.67 L94.6 134.55 L95.01 134.73 L95.41 134.94 L95.82 135.12 L96.22 134.76 L96.63 135.12 L97.04 135.09 L97.44 134.78 L97.85 134.55 L98.25 135.06 L98.66 135.02 L99.06 135.38 L99.47 135.21 L99.88 135.09 L100.28 135.28 L100.69 134.74 L101.09 135 L101.5 134.91 L101.9 135.32 L102.31 135.09 L102.72 134.37 L103.12 135.26 L103.53 134.81 L103.93 135.15 L104.34 134.9 L104.74 135.05 L105.15 135.13 L105.55 135.04 L105.96 134.81 L106.37 135.28 L106.77 135.08 L107.18 135 L107.58 135.14 L107.99 134.9 L108.39 135.38 L108.8 135.05 L109.21 135.08 L109.61 135.07 L110.02 134.82 L110.42 134.77 L110.83 135.05 L111.23 135.07 L111.64 135.27 L112.05 135.09 L112.45 134.79 L112.86 135.11 L113.26 135.17 L113.67 135.2 L114.07 135.07 L114.48 134.76 L114.88 135.24 L115.29 134.86 L115.7 135.12 L116.1 134.69 L116.51 135.17 L116.91 134.86 L117.32 135.24 L117.72 135.39 L118.13 135.28 L118.54 134.82 L118.94 134.88 L119.35 134.91 L119.75 135.23 L120.16 135.18 L120.56 135.16 L120.97 135.21 L121.38 135.28 L121.78 135.31 L122.19 135.54 L122.59 135.21 L123 135.29 L123.4 134.9 L123.81 135.03 L124.22 135.18 L124.62 135.11 L125.03 135.41 L125.43 135.61 L125.84 135.34 L126.24 135.38 L126.65 135.43 L127.05 135.62 L127.46 135.56 L127.87 135.84 L128.27 135.9 L128.68 135.99 L129.08 136.16 L129.49 136.1 L129.89 136.21 L130.3 136.62 L130.71 136.36 L131.11 136.65 L131.52 136.62 L131.92 136.63 L132.33 136.74 L132.73 136.75 L133.14 136.98 L133.55 136.94 L133.95 136.98 L134.36 136.93 L134.76 136.84 L135.17 136.72 L135.57 136.56 L135.98 136.05 L136.38 135.18 L136.79 134.14 L137.2 133.04 L137.6 131.6 L138.01 130.1 L138.41 128.89 L138.82 127.72 L139.22 126.82 L139.63 126.64 L140.04 127.17 L140.44 128.05 L140.85 129.05 L141.25 130.43 L141.66 131.92 L142.06 133.28 L142.47 134.66 L142.88 135.95 L143.28 137.08 L143.69 138.1 L144.09 139.05 L144.5 139.94 L144.9 140.8 L145.31 141.64 L145.72 142.44 L146.12 143.22 L146.53 143.97 L146.93 144.71 L147.34 145.45 L147.74 146.18 L148.15 146.9 L148.55 147.6 L148.96 148.3 L149.37 148.98 L149.77 149.65 L150.18 150.3 L150.58 150.94 L150.99 151.57 L151.39 152.19 L151.8 152.8" fill="none" stroke="#00f200" stroke-width="2.0" stroke-linejoin="round" stroke-linecap="round" />
<rect x="57.3" y="12.0" width="267.4" height="283.2" fill="none" stroke="#000" stroke-width="1.7"/>
<text transform="translate(13,24) scale(0.985,1.07)" font-size="18" text-anchor="start" fill="#000" font-weight="bold" font-style="normal" >a</text>
<text transform="translate(50.6,57.2) scale(0.985,1.07)" font-size="19" text-anchor="end" fill="#000" font-weight="normal" font-style="normal" >100</text>
<text transform="translate(50.6,138.4) scale(0.985,1.07)" font-size="19" text-anchor="end" fill="#000" font-weight="normal" font-style="normal" >10</text>
<text transform="translate(50.6,219.6) scale(0.985,1.07)" font-size="19" text-anchor="end" fill="#000" font-weight="normal" font-style="normal" >1</text>
<text transform="translate(50.6,300.8) scale(0.985,1.07)" font-size="19" text-anchor="end" fill="#000" font-weight="normal" font-style="normal" >0.1</text>
<text transform="translate(66.1,316.7) scale(0.985,1.07)" font-size="18.6" text-anchor="middle" fill="#000" font-weight="normal" font-style="normal" >0.01</text>
<text transform="translate(123.7,316.7) scale(0.985,1.07)" font-size="18.6" text-anchor="middle" fill="#000" font-weight="normal" font-style="normal" >0.1</text>
<text transform="translate(181.3,316.7) scale(0.985,1.07)" font-size="18.6" text-anchor="middle" fill="#000" font-weight="normal" font-style="normal" >1</text>
<text transform="translate(238.9,316.7) scale(0.985,1.07)" font-size="18.6" text-anchor="middle" fill="#000" font-weight="normal" font-style="normal" >10</text>
<text transform="translate(296.5,316.7) scale(0.985,1.07)" font-size="18.6" text-anchor="middle" fill="#000" font-weight="normal" font-style="normal" >100</text>
<text transform="translate(206.4,334) scale(0.985,1.07)" font-size="19" text-anchor="middle" fill="#000" font-weight="normal" font-style="normal" ><tspan font-style="italic">T</tspan> (K)</text>
<text transform="translate(24.6,147.3) rotate(-90) scale(0.985,1.07)" font-size="18.5" text-anchor="middle" fill="#000" ><tspan font-style="italic" font-size="17.5" dy="2.6" letter-spacing="-1">&#967;</tspan><tspan font-size="12.5" dy="3.4">mol</tspan><tspan dy="-6">&#160;&#160;(10</tspan><tspan font-size="13" dy="-8">-6</tspan><tspan dy="8"> m</tspan><tspan font-size="13" dy="-8">3</tspan><tspan dy="8">/mol)</tspan></text>
<text transform="translate(329.5,79.1) scale(0.985,1.07)" font-size="19" text-anchor="start" fill="#000" font-weight="normal" font-style="normal" >1</text>
<text transform="translate(329,160.3) scale(0.985,1.07)" font-size="19" text-anchor="start" fill="#000" font-weight="normal" font-style="normal" >0.1</text>
<text transform="translate(348,223.2) rotate(-90) scale(0.985,1.07)" font-size="18.5" text-anchor="middle" fill="#000" ><tspan font-style="italic" font-size="17.5" dy="2.6" letter-spacing="-1">&#967;</tspan><tspan font-size="12.5" dy="3.4">vol</tspan><tspan dy="-6">&#160;&#160;(SI)</tspan></text>
<text transform="translate(73.5,50.9) scale(0.985,1.07)" font-size="19" text-anchor="start" fill="#000" font-weight="normal" font-style="normal" >0</text>
<text transform="translate(64.5,78.4) scale(0.985,1.07)" font-size="19" text-anchor="start" fill="#ff0000" font-weight="normal" font-style="normal" >0.5</text>
<text transform="translate(64.5,107.9) scale(0.985,1.07)" font-size="19" text-anchor="start" fill="#000" font-weight="normal" font-style="normal" ><tspan font-style="italic">B</tspan> (mT)</text>
<text transform="translate(76.5,140.9) scale(0.985,1.07)" font-size="19" text-anchor="start" fill="#00f200" font-weight="normal" font-style="normal" >5</text>
<text transform="translate(59.3,191.4) scale(0.985,1.07)" font-size="18.2" text-anchor="start" fill="#0000ff" font-weight="normal" font-style="normal" >100</text>
<text transform="translate(108,245.1) scale(0.985,1.07)" font-size="19" text-anchor="start" fill="#000" font-weight="normal" font-style="normal" >YbNi<tspan font-size="12" dy="7.5">4</tspan><tspan dy="-7.5">P</tspan><tspan font-size="12" dy="7.5">2</tspan></text>
<text transform="translate(107.5,275.2) scale(0.985,1.07)" font-size="19" text-anchor="start" fill="#000" font-weight="normal" font-style="normal" >polycrystal</text>
<rect x="197.6" y="29.8" width="115.2" height="97.8" fill="#fff" stroke="none"/>
<line x1="220.6" y1="127.6" x2="220.6" y2="125" stroke="#000" stroke-width="0.9" />
<line x1="220.6" y1="29.8" x2="220.6" y2="32.4" stroke="#000" stroke-width="0.9" />
<line x1="243.6" y1="127.6" x2="243.6" y2="124" stroke="#000" stroke-width="0.9" />
<line x1="243.6" y1="29.8" x2="243.6" y2="33.4" stroke="#000" stroke-width="0.9" />
<line x1="266.6" y1="127.6" x2="266.6" y2="125" stroke="#000" stroke-width="0.9" />
<line x1="266.6" y1="29.8" x2="266.6" y2="32.4" stroke="#000" stroke-width="0.9" />
<line x1="289.6" y1="127.6" x2="289.6" y2="124" stroke="#000" stroke-width="0.9" />
<line x1="289.6" y1="29.8" x2="289.6" y2="33.4" stroke="#000" stroke-width="0.9" />
<line x1="197.6" y1="94.75" x2="200.2" y2="94.75" stroke="#000" stroke-width="0.9" />
<line x1="312.8" y1="94.75" x2="310.2" y2="94.75" stroke="#000" stroke-width="0.9" />
<line x1="197.6" y1="61.9" x2="201.2" y2="61.9" stroke="#000" stroke-width="0.9" />
<line x1="312.8" y1="61.9" x2="309.2" y2="61.9" stroke="#000" stroke-width="0.9" />
<path d="M197.6 127.6 L198.57 120.04 L199.54 116.57 L200.5 114.59 L201.47 113.11 L202.44 111.87 L203.41 110.78 L204.38 109.8 L205.34 108.88 L206.31 108.02 L207.28 107.24 L208.25 106.49 L209.22 105.76 L210.18 105.02 L211.15 104.24 L212.12 103.43 L213.09 102.6 L214.06 101.76 L215.03 100.92 L215.99 100.07 L216.96 99.22 L217.93 98.36 L218.9 97.5 L219.87 96.64 L220.83 95.78 L221.8 94.92 L222.77 94.07 L223.74 93.23 L224.71 92.39 L225.67 91.55 L226.64 90.71 L227.61 89.87 L228.58 89.03 L229.55 88.2 L230.51 87.36 L231.48 86.53 L232.45 85.7 L233.42 84.87 L234.39 84.05 L235.35 83.22 L236.32 82.4 L237.29 81.59 L238.26 80.77 L239.23 79.94 L240.19 79.12 L241.16 78.3 L242.13 77.48 L243.1 76.67 L244.07 75.86 L245.04 75.05 L246 74.26 L246.97 73.47 L247.94 72.7 L248.91 71.94 L249.88 71.19 L250.84 70.45 L251.81 69.72 L252.78 69 L253.75 68.29 L254.72 67.59 L255.68 66.89 L256.65 66.2 L257.62 65.51 L258.59 64.83 L259.56 64.16 L260.52 63.49 L261.49 62.82 L262.46 62.16 L263.43 61.49 L264.4 60.83 L265.36 60.17 L266.33 59.52 L267.3 58.88 L268.27 58.26 L269.24 57.66 L270.21 57.08 L271.17 56.52 L272.14 55.98 L273.11 55.46 L274.08 54.96 L275.05 54.48 L276.01 54.01 L276.98 53.56 L277.95 53.13 L278.92 52.71 L279.89 52.29 L280.85 51.86 L281.82 51.44 L282.79 51.03 L283.76 50.62 L284.73 50.2 L285.69 49.79 L286.66 49.38 L287.63 48.96 L288.6 48.54 L289.57 48.11 L290.53 47.68 L291.5 47.25 L292.47 46.81 L293.44 46.37 L294.41 45.94 L295.37 45.5 L296.34 45.05 L297.31 44.61 L298.28 44.17 L299.25 43.72 L300.22 43.27 L301.18 42.82 L302.15 42.37 L303.12 41.92 L304.09 41.46 L305.06 41.01 L306.02 40.55 L306.99 40.09 L307.96 39.63 L308.93 39.17 L309.9 38.7 L310.86 38.24 L311.83 37.77 L312.8 37.3" fill="none" stroke="#000" stroke-width="1.3" stroke-linejoin="round" stroke-linecap="round" />
<path d="M197.6 127.6 L198.57 126.56 L199.54 125.51 L200.5 124.45 L201.47 123.37 L202.44 122.29 L203.41 121.23 L204.38 120.21 L205.34 119.21 L206.31 118.23 L207.28 117.26 L208.25 116.31 L209.22 115.36 L210.18 114.4 L211.15 113.45 L212.12 112.48 L213.09 111.52 L214.06 110.55 L215.03 109.58 L215.99 108.61 L216.96 107.64 L217.93 106.68 L218.9 105.72 L219.87 104.77 L220.83 103.82 L221.8 102.89 L222.77 101.96 L223.74 101.05 L224.71 100.14 L225.67 99.24 L226.64 98.35 L227.61 97.47 L228.58 96.59 L229.55 95.71 L230.51 94.85 L231.48 93.99 L232.45 93.14 L233.42 92.29 L234.39 91.45 L235.35 90.62 L236.32 89.8 L237.29 88.99 L238.26 88.18 L239.23 87.38 L240.19 86.58 L241.16 85.79 L242.13 85.01 L243.1 84.23 L244.07 83.46 L245.04 82.7 L246 81.94 L246.97 81.19 L247.94 80.45 L248.91 79.72 L249.88 78.99 L250.84 78.28 L251.81 77.56 L252.78 76.86 L253.75 76.15 L254.72 75.46 L255.68 74.77 L256.65 74.09 L257.62 73.42 L258.59 72.75 L259.56 72.09 L260.52 71.44 L261.49 70.8 L262.46 70.16 L263.43 69.53 L264.4 68.91 L265.36 68.29 L266.33 67.67 L267.3 67.06 L268.27 66.46 L269.24 65.87 L270.21 65.28 L271.17 64.7 L272.14 64.13 L273.11 63.57 L274.08 63.02 L275.05 62.49 L276.01 61.96 L276.98 61.44 L277.95 60.92 L278.92 60.42 L279.89 59.92 L280.85 59.43 L281.82 58.94 L282.79 58.47 L283.76 57.99 L284.73 57.53 L285.69 57.07 L286.66 56.62 L287.63 56.17 L288.6 55.73 L289.57 55.3 L290.53 54.87 L291.5 54.45 L292.47 54.04 L293.44 53.64 L294.41 53.24 L295.37 52.84 L296.34 52.44 L297.31 52.04 L298.28 51.64 L299.25 51.25 L300.22 50.84 L301.18 50.44 L302.15 50.03 L303.12 49.63 L304.09 49.22 L305.06 48.82 L306.02 48.42 L306.99 48.01 L307.96 47.61 L308.93 47.21 L309.9 46.8 L310.86 46.4 L311.83 46 L312.8 45.6" fill="none" stroke="#ff0000" stroke-width="1.4" stroke-linejoin="round" stroke-linecap="round" />
<rect x="197.6" y="29.8" width="115.2" height="97.8" fill="none" stroke="#000" stroke-width="1.1"/>
<line x1="201" y1="87.5" x2="201" y2="105.7" stroke="#222" stroke-width="0.8" />
<path d="M199.4 102.7 L201 107.7 L202.6 102.7Z" fill="#222"/>
<line x1="277.3" y1="34.2" x2="277.3" y2="48.8" stroke="#222" stroke-width="0.8" />
<path d="M275.7 45.8 L277.3 50.8 L278.9 45.8Z" fill="#222"/>
<text transform="translate(216.8,61.5) scale(0.985,1.07)" font-size="14.5" text-anchor="start" fill="#000" font-weight="normal" font-style="normal" >0.06&#8201;K</text>
<text transform="translate(231.7,116) scale(0.985,1.07)" font-size="14.5" text-anchor="start" fill="#ff0000" font-weight="normal" font-style="normal" ><tspan font-style="italic">T</tspan> = 2&#8201;K</text>
<text transform="translate(192.8,67.3) scale(0.985,1.07)" font-size="15.5" text-anchor="end" fill="#000" font-weight="normal" font-style="normal" >0.5</text>
<text transform="translate(192.8,132.9) scale(0.985,1.07)" font-size="15.5" text-anchor="end" fill="#000" font-weight="normal" font-style="normal" >0.0</text>
<text transform="translate(197.6,145) scale(0.985,1.07)" font-size="15.5" text-anchor="middle" fill="#000" font-weight="normal" font-style="normal" >0</text>
<text transform="translate(243.6,145) scale(0.985,1.07)" font-size="15.5" text-anchor="middle" fill="#000" font-weight="normal" font-style="normal" >2</text>
<text transform="translate(289.6,145) scale(0.985,1.07)" font-size="15.5" text-anchor="middle" fill="#000" font-weight="normal" font-style="normal" >4</text>
<text transform="translate(265.5,157) scale(0.985,1.07)" font-size="14.5" text-anchor="middle" fill="#000" font-weight="normal" font-style="italic" >B(T)</text>
<text transform="translate(161.6,69.5) rotate(-90) scale(0.985,1.07)" font-size="15.2" text-anchor="middle" fill="#000" ><tspan font-style="italic">M</tspan>&#8201;(&#181;<tspan font-size="11" dy="4.5">B</tspan><tspan dy="-4.5">/&#8201;Yb)</tspan></text>
</g>
<g id="panelB">
<line x1="428.97" y1="294.7" x2="428.97" y2="290.7" stroke="#000" stroke-width="1.3" />
<line x1="428.97" y1="10.8" x2="428.97" y2="14.8" stroke="#000" stroke-width="1.3" />
<line x1="440.04" y1="294.7" x2="440.04" y2="290.7" stroke="#000" stroke-width="1.3" />
<line x1="440.04" y1="10.8" x2="440.04" y2="14.8" stroke="#000" stroke-width="1.3" />
<line x1="448.63" y1="294.7" x2="448.63" y2="290.7" stroke="#000" stroke-width="1.3" />
<line x1="448.63" y1="10.8" x2="448.63" y2="14.8" stroke="#000" stroke-width="1.3" />
<line x1="455.64" y1="294.7" x2="455.64" y2="290.7" stroke="#000" stroke-width="1.3" />
<line x1="455.64" y1="10.8" x2="455.64" y2="14.8" stroke="#000" stroke-width="1.3" />
<line x1="461.58" y1="294.7" x2="461.58" y2="290.7" stroke="#000" stroke-width="1.3" />
<line x1="461.58" y1="10.8" x2="461.58" y2="14.8" stroke="#000" stroke-width="1.3" />
<line x1="466.71" y1="294.7" x2="466.71" y2="290.7" stroke="#000" stroke-width="1.3" />
<line x1="466.71" y1="10.8" x2="466.71" y2="14.8" stroke="#000" stroke-width="1.3" />
<line x1="471.25" y1="294.7" x2="471.25" y2="290.7" stroke="#000" stroke-width="1.3" />
<line x1="471.25" y1="10.8" x2="471.25" y2="14.8" stroke="#000" stroke-width="1.3" />
<line x1="475.3" y1="294.7" x2="475.3" y2="287.8" stroke="#000" stroke-width="1.3" />
<line x1="475.3" y1="10.8" x2="475.3" y2="17.7" stroke="#000" stroke-width="1.3" />
<line x1="501.97" y1="294.7" x2="501.97" y2="290.7" stroke="#000" stroke-width="1.3" />
<line x1="501.97" y1="10.8" x2="501.97" y2="14.8" stroke="#000" stroke-width="1.3" />
<line x1="517.57" y1="294.7" x2="517.57" y2="290.7" stroke="#000" stroke-width="1.3" />
<line x1="517.57" y1="10.8" x2="517.57" y2="14.8" stroke="#000" stroke-width="1.3" />
<line x1="528.64" y1="294.7" x2="528.64" y2="290.7" stroke="#000" stroke-width="1.3" />
<line x1="528.64" y1="10.8" x2="528.64" y2="14.8" stroke="#000" stroke-width="1.3" />
<line x1="537.23" y1="294.7" x2="537.23" y2="290.7" stroke="#000" stroke-width="1.3" />
<line x1="537.23" y1="10.8" x2="537.23" y2="14.8" stroke="#000" stroke-width="1.3" />
<line x1="544.24" y1="294.7" x2="544.24" y2="290.7" stroke="#000" stroke-width="1.3" />
<line x1="544.24" y1="10.8" x2="544.24" y2="14.8" stroke="#000" stroke-width="1.3" />
<line x1="550.18" y1="294.7" x2="550.18" y2="290.7" stroke="#000" stroke-width="1.3" />
<line x1="550.18" y1="10.8" x2="550.18" y2="14.8" stroke="#000" stroke-width="1.3" />
<line x1="555.31" y1="294.7" x2="555.31" y2="290.7" stroke="#000" stroke-width="1.3" />
<line x1="555.31" y1="10.8" x2="555.31" y2="14.8" stroke="#000" stroke-width="1.3" />
<line x1="559.85" y1="294.7" x2="559.85" y2="290.7" stroke="#000" stroke-width="1.3" />
<line x1="559.85" y1="10.8" x2="559.85" y2="14.8" stroke="#000" stroke-width="1.3" />
<line x1="563.9" y1="294.7" x2="563.9" y2="287.8" stroke="#000" stroke-width="1.3" />
<line x1="563.9" y1="10.8" x2="563.9" y2="17.7" stroke="#000" stroke-width="1.3" />
<line x1="590.57" y1="294.7" x2="590.57" y2="290.7" stroke="#000" stroke-width="1.3" />
<line x1="590.57" y1="10.8" x2="590.57" y2="14.8" stroke="#000" stroke-width="1.3" />
<line x1="606.17" y1="294.7" x2="606.17" y2="290.7" stroke="#000" stroke-width="1.3" />
<line x1="606.17" y1="10.8" x2="606.17" y2="14.8" stroke="#000" stroke-width="1.3" />
<line x1="617.24" y1="294.7" x2="617.24" y2="290.7" stroke="#000" stroke-width="1.3" />
<line x1="617.24" y1="10.8" x2="617.24" y2="14.8" stroke="#000" stroke-width="1.3" />
<line x1="625.83" y1="294.7" x2="625.83" y2="290.7" stroke="#000" stroke-width="1.3" />
<line x1="625.83" y1="10.8" x2="625.83" y2="14.8" stroke="#000" stroke-width="1.3" />
<line x1="632.84" y1="294.7" x2="632.84" y2="290.7" stroke="#000" stroke-width="1.3" />
<line x1="632.84" y1="10.8" x2="632.84" y2="14.8" stroke="#000" stroke-width="1.3" />
<line x1="638.78" y1="294.7" x2="638.78" y2="290.7" stroke="#000" stroke-width="1.3" />
<line x1="638.78" y1="10.8" x2="638.78" y2="14.8" stroke="#000" stroke-width="1.3" />
<line x1="643.91" y1="294.7" x2="643.91" y2="290.7" stroke="#000" stroke-width="1.3" />
<line x1="643.91" y1="10.8" x2="643.91" y2="14.8" stroke="#000" stroke-width="1.3" />
<line x1="648.45" y1="294.7" x2="648.45" y2="290.7" stroke="#000" stroke-width="1.3" />
<line x1="648.45" y1="10.8" x2="648.45" y2="14.8" stroke="#000" stroke-width="1.3" />
<line x1="414.2" y1="257.25" x2="417.8" y2="257.25" stroke="#000" stroke-width="1.3" />
<line x1="652.3" y1="257.25" x2="648.7" y2="257.25" stroke="#000" stroke-width="1.3" />
<line x1="414.2" y1="219.8" x2="421.2" y2="219.8" stroke="#000" stroke-width="1.3" />
<line x1="652.3" y1="219.8" x2="645.3" y2="219.8" stroke="#000" stroke-width="1.3" />
<line x1="414.2" y1="182.35" x2="417.8" y2="182.35" stroke="#000" stroke-width="1.3" />
<line x1="652.3" y1="182.35" x2="648.7" y2="182.35" stroke="#000" stroke-width="1.3" />
<line x1="414.2" y1="144.9" x2="421.2" y2="144.9" stroke="#000" stroke-width="1.3" />
<line x1="652.3" y1="144.9" x2="645.3" y2="144.9" stroke="#000" stroke-width="1.3" />
<line x1="414.2" y1="107.45" x2="417.8" y2="107.45" stroke="#000" stroke-width="1.3" />
<line x1="652.3" y1="107.45" x2="648.7" y2="107.45" stroke="#000" stroke-width="1.3" />
<line x1="414.2" y1="70" x2="421.2" y2="70" stroke="#000" stroke-width="1.3" />
<line x1="652.3" y1="70" x2="645.3" y2="70" stroke="#000" stroke-width="1.3" />
<line x1="414.2" y1="32.55" x2="417.8" y2="32.55" stroke="#000" stroke-width="1.3" />
<line x1="652.3" y1="32.55" x2="648.7" y2="32.55" stroke="#000" stroke-width="1.3" />
<clipPath id="clipB"><rect x="414.2" y="10.8" width="238.1" height="283.9"/></clipPath>
<g clip-path="url(#clipB)">
<circle cx="431.7" cy="105.9" r="1.8" fill="url(#gc)" stroke="#00dcf0" stroke-width="0.5"/>
<circle cx="434.4" cy="114" r="1.8" fill="url(#gc)" stroke="#00dcf0" stroke-width="0.5"/>
<circle cx="438" cy="153.4" r="1.8" fill="url(#gc)" stroke="#00dcf0" stroke-width="0.5"/>
<circle cx="441" cy="160" r="1.8" fill="url(#gc)" stroke="#00dcf0" stroke-width="0.5"/>
<circle cx="443.4" cy="167.4" r="1.8" fill="url(#gc)" stroke="#00dcf0" stroke-width="0.5"/>
<circle cx="446" cy="165" r="1.8" fill="url(#gc)" stroke="#00dcf0" stroke-width="0.5"/>
<circle cx="448.9" cy="167" r="1.8" fill="url(#gc)" stroke="#00dcf0" stroke-width="0.5"/>
<circle cx="451" cy="163" r="1.8" fill="url(#gc)" stroke="#00dcf0" stroke-width="0.5"/>
<circle cx="453.4" cy="160.1" r="1.8" fill="url(#gc)" stroke="#00dcf0" stroke-width="0.5"/>
<circle cx="455.5" cy="174.05" r="1.8" fill="url(#gc)" stroke="#00dcf0" stroke-width="0.5"/>
<circle cx="456.51" cy="175.16" r="1.8" fill="url(#gc)" stroke="#00dcf0" stroke-width="0.5"/>
<circle cx="457.69" cy="176.04" r="1.8" fill="url(#gc)" stroke="#00dcf0" stroke-width="0.5"/>
<circle cx="459.05" cy="176.25" r="1.8" fill="url(#gc)" stroke="#00dcf0" stroke-width="0.5"/>
<circle cx="460.47" cy="178.54" r="1.8" fill="url(#gc)" stroke="#00dcf0" stroke-width="0.5"/>
<circle cx="462" cy="180.32" r="1.8" fill="url(#gc)" stroke="#00dcf0" stroke-width="0.5"/>
<circle cx="463.82" cy="181.87" r="1.8" fill="url(#gc)" stroke="#00dcf0" stroke-width="0.5"/>
<circle cx="465.8" cy="180.79" r="1.8" fill="url(#gc)" stroke="#00dcf0" stroke-width="0.5"/>
<circle cx="467.79" cy="182.12" r="1.8" fill="url(#gc)" stroke="#00dcf0" stroke-width="0.5"/>
<circle cx="469.78" cy="181.25" r="1.8" fill="url(#gc)" stroke="#00dcf0" stroke-width="0.5"/>
<circle cx="471.76" cy="180.45" r="1.8" fill="url(#gc)" stroke="#00dcf0" stroke-width="0.5"/>
<circle cx="473.75" cy="178.6" r="1.8" fill="url(#gc)" stroke="#00dcf0" stroke-width="0.5"/>
<circle cx="475.71" cy="179.78" r="1.8" fill="url(#gc)" stroke="#00dcf0" stroke-width="0.5"/>
<circle cx="477.62" cy="178.96" r="1.8" fill="url(#gc)" stroke="#00dcf0" stroke-width="0.5"/>
<circle cx="479.49" cy="179.5" r="1.8" fill="url(#gc)" stroke="#00dcf0" stroke-width="0.5"/>
<circle cx="481.36" cy="179.25" r="1.8" fill="url(#gc)" stroke="#00dcf0" stroke-width="0.5"/>
<circle cx="483.24" cy="179.57" r="1.8" fill="url(#gc)" stroke="#00dcf0" stroke-width="0.5"/>
<circle cx="485.12" cy="177.65" r="1.8" fill="url(#gc)" stroke="#00dcf0" stroke-width="0.5"/>
<circle cx="486.98" cy="175.92" r="1.8" fill="url(#gc)" stroke="#00dcf0" stroke-width="0.5"/>
<circle cx="488.82" cy="178.34" r="1.8" fill="url(#gc)" stroke="#00dcf0" stroke-width="0.5"/>
<circle cx="490.64" cy="175.71" r="1.8" fill="url(#gc)" stroke="#00dcf0" stroke-width="0.5"/>
<circle cx="492.43" cy="174.33" r="1.8" fill="url(#gc)" stroke="#00dcf0" stroke-width="0.5"/>
<circle cx="494.2" cy="173.43" r="1.8" fill="url(#gc)" stroke="#00dcf0" stroke-width="0.5"/>
<circle cx="495.95" cy="171.52" r="1.8" fill="url(#gc)" stroke="#00dcf0" stroke-width="0.5"/>
<circle cx="497.7" cy="172.36" r="1.8" fill="url(#gc)" stroke="#00dcf0" stroke-width="0.5"/>
<circle cx="499.43" cy="171.15" r="1.8" fill="url(#gc)" stroke="#00dcf0" stroke-width="0.5"/>
<circle cx="501.14" cy="171.23" r="1.8" fill="url(#gc)" stroke="#00dcf0" stroke-width="0.5"/>
<circle cx="502.81" cy="169.72" r="1.8" fill="url(#gc)" stroke="#00dcf0" stroke-width="0.5"/>
<circle cx="504.4" cy="168.33" r="1.8" fill="url(#gc)" stroke="#00dcf0" stroke-width="0.5"/>
<circle cx="506.04" cy="167.55" r="1.8" fill="url(#gc)" stroke="#00dcf0" stroke-width="0.5"/>
<circle cx="507.66" cy="165.01" r="1.8" fill="url(#gc)" stroke="#00dcf0" stroke-width="0.5"/>
<circle cx="509.48" cy="164.14" r="1.8" fill="url(#gc)" stroke="#00dcf0" stroke-width="0.5"/>
<circle cx="511.38" cy="165" r="1.8" fill="url(#gc)" stroke="#00dcf0" stroke-width="0.5"/>
<circle cx="513.11" cy="164.89" r="1.8" fill="url(#gc)" stroke="#00dcf0" stroke-width="0.5"/>
<circle cx="514.67" cy="167.12" r="1.8" fill="url(#gc)" stroke="#00dcf0" stroke-width="0.5"/>
<circle cx="515.96" cy="168.45" r="1.8" fill="url(#gc)" stroke="#00dcf0" stroke-width="0.5"/>
<circle cx="517" cy="171.04" r="1.8" fill="url(#gc)" stroke="#00dcf0" stroke-width="0.5"/>
<circle cx="517" cy="170.49" r="1.6" fill="#d8ffff" stroke="#00e8ff" stroke-width="0.8"/>
<circle cx="518.31" cy="171.46" r="1.6" fill="#d8ffff" stroke="#00e8ff" stroke-width="0.8"/>
<circle cx="519.54" cy="172.89" r="1.6" fill="#d8ffff" stroke="#00e8ff" stroke-width="0.8"/>
<circle cx="520.65" cy="174.37" r="1.6" fill="#d8ffff" stroke="#00e8ff" stroke-width="0.8"/>
<circle cx="521.6" cy="175.52" r="1.6" fill="#d8ffff" stroke="#00e8ff" stroke-width="0.8"/>
<circle cx="522.41" cy="177.17" r="1.6" fill="#d8ffff" stroke="#00e8ff" stroke-width="0.8"/>
<circle cx="523.14" cy="178.83" r="1.6" fill="#d8ffff" stroke="#00e8ff" stroke-width="0.8"/>
<circle cx="523.83" cy="180.3" r="1.6" fill="#d8ffff" stroke="#00e8ff" stroke-width="0.8"/>
<circle cx="524.52" cy="181.98" r="1.6" fill="#d8ffff" stroke="#00e8ff" stroke-width="0.8"/>
<circle cx="525.26" cy="183.63" r="1.6" fill="#d8ffff" stroke="#00e8ff" stroke-width="0.8"/>
<circle cx="526.08" cy="185.03" r="1.6" fill="#d8ffff" stroke="#00e8ff" stroke-width="0.8"/>
<circle cx="527" cy="186.67" r="1.6" fill="#d8ffff" stroke="#00e8ff" stroke-width="0.8"/>
<circle cx="527.98" cy="188.13" r="1.6" fill="#d8ffff" stroke="#00e8ff" stroke-width="0.8"/>
<circle cx="529" cy="189.38" r="1.6" fill="#d8ffff" stroke="#00e8ff" stroke-width="0.8"/>
<circle cx="530.05" cy="190.9" r="1.6" fill="#d8ffff" stroke="#00e8ff" stroke-width="0.8"/>
<circle cx="531.12" cy="192.39" r="1.6" fill="#d8ffff" stroke="#00e8ff" stroke-width="0.8"/>
<circle cx="532.19" cy="193.65" r="1.6" fill="#d8ffff" stroke="#00e8ff" stroke-width="0.8"/>
<circle cx="533.25" cy="195.1" r="1.6" fill="#d8ffff" stroke="#00e8ff" stroke-width="0.8"/>
<circle cx="534.28" cy="196.53" r="1.6" fill="#d8ffff" stroke="#00e8ff" stroke-width="0.8"/>
<circle cx="535.27" cy="197.88" r="1.6" fill="#d8ffff" stroke="#00e8ff" stroke-width="0.8"/>
<circle cx="536.22" cy="199.46" r="1.6" fill="#d8ffff" stroke="#00e8ff" stroke-width="0.8"/>
<circle cx="537.14" cy="200.89" r="1.6" fill="#d8ffff" stroke="#00e8ff" stroke-width="0.8"/>
<circle cx="538.03" cy="202.25" r="1.6" fill="#d8ffff" stroke="#00e8ff" stroke-width="0.8"/>
<circle cx="538.92" cy="203.91" r="1.6" fill="#d8ffff" stroke="#00e8ff" stroke-width="0.8"/>
<circle cx="539.8" cy="205.45" r="1.6" fill="#d8ffff" stroke="#00e8ff" stroke-width="0.8"/>
<circle cx="540.69" cy="206.95" r="1.6" fill="#d8ffff" stroke="#00e8ff" stroke-width="0.8"/>
<circle cx="541.59" cy="208.3" r="1.6" fill="#d8ffff" stroke="#00e8ff" stroke-width="0.8"/>
<circle cx="542.52" cy="209.88" r="1.6" fill="#d8ffff" stroke="#00e8ff" stroke-width="0.8"/>
<circle cx="543.49" cy="211.43" r="1.6" fill="#d8ffff" stroke="#00e8ff" stroke-width="0.8"/>
<circle cx="544.5" cy="212.74" r="1.6" fill="#d8ffff" stroke="#00e8ff" stroke-width="0.8"/>
<circle cx="545.56" cy="214.22" r="1.6" fill="#d8ffff" stroke="#00e8ff" stroke-width="0.8"/>
<circle cx="546.65" cy="215.59" r="1.6" fill="#d8ffff" stroke="#00e8ff" stroke-width="0.8"/>
<circle cx="547.77" cy="216.8" r="1.6" fill="#d8ffff" stroke="#00e8ff" stroke-width="0.8"/>
<circle cx="548.91" cy="218.19" r="1.6" fill="#d8ffff" stroke="#00e8ff" stroke-width="0.8"/>
<circle cx="550.07" cy="219.41" r="1.6" fill="#d8ffff" stroke="#00e8ff" stroke-width="0.8"/>
<circle cx="551.23" cy="220.85" r="1.6" fill="#d8ffff" stroke="#00e8ff" stroke-width="0.8"/>
<circle cx="552.38" cy="222.04" r="1.6" fill="#d8ffff" stroke="#00e8ff" stroke-width="0.8"/>
<circle cx="553.53" cy="223.31" r="1.6" fill="#d8ffff" stroke="#00e8ff" stroke-width="0.8"/>
<circle cx="554.68" cy="224.68" r="1.6" fill="#d8ffff" stroke="#00e8ff" stroke-width="0.8"/>
<circle cx="555.82" cy="225.99" r="1.6" fill="#d8ffff" stroke="#00e8ff" stroke-width="0.8"/>
<circle cx="556.98" cy="227.35" r="1.6" fill="#d8ffff" stroke="#00e8ff" stroke-width="0.8"/>
<circle cx="558.13" cy="228.67" r="1.6" fill="#d8ffff" stroke="#00e8ff" stroke-width="0.8"/>
<circle cx="559.3" cy="229.8" r="1.6" fill="#d8ffff" stroke="#00e8ff" stroke-width="0.8"/>
<circle cx="560.49" cy="231.14" r="1.6" fill="#d8ffff" stroke="#00e8ff" stroke-width="0.8"/>
<circle cx="561.69" cy="232.5" r="1.6" fill="#d8ffff" stroke="#00e8ff" stroke-width="0.8"/>
<circle cx="562.91" cy="233.76" r="1.6" fill="#d8ffff" stroke="#00e8ff" stroke-width="0.8"/>
<circle cx="564.16" cy="234.95" r="1.6" fill="#d8ffff" stroke="#00e8ff" stroke-width="0.8"/>
<circle cx="565.42" cy="236.41" r="1.6" fill="#d8ffff" stroke="#00e8ff" stroke-width="0.8"/>
<circle cx="566.7" cy="237.44" r="1.6" fill="#d8ffff" stroke="#00e8ff" stroke-width="0.8"/>
<circle cx="568" cy="238.49" r="1.6" fill="#d8ffff" stroke="#00e8ff" stroke-width="0.8"/>
<circle cx="432.6" cy="133" r="1.8" fill="url(#gb)" stroke="#0000e0" stroke-width="0.5"/>
<circle cx="434.5" cy="137" r="1.8" fill="url(#gb)" stroke="#0000e0" stroke-width="0.5"/>
<circle cx="436.5" cy="142" r="1.8" fill="url(#gb)" stroke="#0000e0" stroke-width="0.5"/>
<circle cx="438.9" cy="150.7" r="1.8" fill="url(#gb)" stroke="#0000e0" stroke-width="0.5"/>
<circle cx="440.7" cy="158.9" r="1.8" fill="url(#gb)" stroke="#0000e0" stroke-width="0.5"/>
<circle cx="443" cy="154" r="1.8" fill="url(#gb)" stroke="#0000e0" stroke-width="0.5"/>
<circle cx="446.1" cy="156.1" r="1.8" fill="url(#gb)" stroke="#0000e0" stroke-width="0.5"/>
<circle cx="448.9" cy="159.8" r="1.8" fill="url(#gb)" stroke="#0000e0" stroke-width="0.5"/>
<circle cx="452.5" cy="163.4" r="1.8" fill="url(#gb)" stroke="#0000e0" stroke-width="0.5"/>
<circle cx="455" cy="162.57" r="1.8" fill="url(#gb)" stroke="#0000e0" stroke-width="0.5"/>
<circle cx="456.75" cy="163.1" r="1.8" fill="url(#gb)" stroke="#0000e0" stroke-width="0.5"/>
<circle cx="458.5" cy="162.45" r="1.8" fill="url(#gb)" stroke="#0000e0" stroke-width="0.5"/>
<circle cx="460.11" cy="161.37" r="1.8" fill="url(#gb)" stroke="#0000e0" stroke-width="0.5"/>
<circle cx="461.54" cy="163.86" r="1.8" fill="url(#gb)" stroke="#0000e0" stroke-width="0.5"/>
<circle cx="463.17" cy="164.45" r="1.8" fill="url(#gb)" stroke="#0000e0" stroke-width="0.5"/>
<circle cx="464.86" cy="166.58" r="1.8" fill="url(#gb)" stroke="#0000e0" stroke-width="0.5"/>
<circle cx="466.61" cy="163.5" r="1.8" fill="url(#gb)" stroke="#0000e0" stroke-width="0.5"/>
<circle cx="468.33" cy="165.9" r="1.8" fill="url(#gb)" stroke="#0000e0" stroke-width="0.5"/>
<circle cx="470" cy="164.02" r="1.8" fill="url(#gb)" stroke="#0000e0" stroke-width="0.5"/>
<circle cx="471.48" cy="163.95" r="1.8" fill="url(#gb)" stroke="#0000e0" stroke-width="0.5"/>
<circle cx="472.84" cy="161.88" r="1.8" fill="url(#gb)" stroke="#0000e0" stroke-width="0.5"/>
<circle cx="474.23" cy="161.19" r="1.8" fill="url(#gb)" stroke="#0000e0" stroke-width="0.5"/>
<circle cx="475.58" cy="160.84" r="1.8" fill="url(#gb)" stroke="#0000e0" stroke-width="0.5"/>
<circle cx="476.96" cy="158.92" r="1.8" fill="url(#gb)" stroke="#0000e0" stroke-width="0.5"/>
<circle cx="478.38" cy="158.66" r="1.8" fill="url(#gb)" stroke="#0000e0" stroke-width="0.5"/>
<circle cx="479.8" cy="156.74" r="1.8" fill="url(#gb)" stroke="#0000e0" stroke-width="0.5"/>
<circle cx="481.26" cy="155.51" r="1.8" fill="url(#gb)" stroke="#0000e0" stroke-width="0.5"/>
<circle cx="482.77" cy="154.76" r="1.8" fill="url(#gb)" stroke="#0000e0" stroke-width="0.5"/>
<circle cx="484.3" cy="153.69" r="1.8" fill="url(#gb)" stroke="#0000e0" stroke-width="0.5"/>
<circle cx="485.86" cy="153.19" r="1.8" fill="url(#gb)" stroke="#0000e0" stroke-width="0.5"/>
<circle cx="487.44" cy="153.62" r="1.8" fill="url(#gb)" stroke="#0000e0" stroke-width="0.5"/>
<circle cx="489.03" cy="150.87" r="1.8" fill="url(#gb)" stroke="#0000e0" stroke-width="0.5"/>
<circle cx="490.64" cy="149.78" r="1.8" fill="url(#gb)" stroke="#0000e0" stroke-width="0.5"/>
<circle cx="492.25" cy="150.41" r="1.8" fill="url(#gb)" stroke="#0000e0" stroke-width="0.5"/>
<circle cx="493.88" cy="151.12" r="1.8" fill="url(#gb)" stroke="#0000e0" stroke-width="0.5"/>
<circle cx="495.54" cy="150.05" r="1.8" fill="url(#gb)" stroke="#0000e0" stroke-width="0.5"/>
<circle cx="497.23" cy="149.85" r="1.8" fill="url(#gb)" stroke="#0000e0" stroke-width="0.5"/>
<circle cx="498.95" cy="149.41" r="1.8" fill="url(#gb)" stroke="#0000e0" stroke-width="0.5"/>
<circle cx="500.67" cy="147.54" r="1.8" fill="url(#gb)" stroke="#0000e0" stroke-width="0.5"/>
<circle cx="502.42" cy="148.12" r="1.8" fill="url(#gb)" stroke="#0000e0" stroke-width="0.5"/>
<circle cx="504" cy="146.62" r="1.8" fill="url(#gb)" stroke="#0000e0" stroke-width="0.5"/>
<circle cx="505.38" cy="149.34" r="1.8" fill="url(#gb)" stroke="#0000e0" stroke-width="0.5"/>
<circle cx="506.6" cy="151.56" r="1.8" fill="url(#gb)" stroke="#0000e0" stroke-width="0.5"/>
<circle cx="507.6" cy="151.27" r="1.8" fill="url(#gb)" stroke="#0000e0" stroke-width="0.5"/>
<circle cx="507.6" cy="152.3" r="1.6" fill="#c8c8ff" stroke="#0000ff" stroke-width="0.8"/>
<circle cx="508.45" cy="153.77" r="1.6" fill="#c8c8ff" stroke="#0000ff" stroke-width="0.8"/>
<circle cx="509.27" cy="155.33" r="1.6" fill="#c8c8ff" stroke="#0000ff" stroke-width="0.8"/>
<circle cx="510.07" cy="156.86" r="1.6" fill="#c8c8ff" stroke="#0000ff" stroke-width="0.8"/>
<circle cx="510.84" cy="158.44" r="1.6" fill="#c8c8ff" stroke="#0000ff" stroke-width="0.8"/>
<circle cx="511.57" cy="159.79" r="1.6" fill="#c8c8ff" stroke="#0000ff" stroke-width="0.8"/>
<circle cx="512.26" cy="160.98" r="1.6" fill="#c8c8ff" stroke="#0000ff" stroke-width="0.8"/>
<circle cx="512.93" cy="162.39" r="1.6" fill="#c8c8ff" stroke="#0000ff" stroke-width="0.8"/>
<circle cx="513.58" cy="164.14" r="1.6" fill="#c8c8ff" stroke="#0000ff" stroke-width="0.8"/>
<circle cx="514.22" cy="165.73" r="1.6" fill="#c8c8ff" stroke="#0000ff" stroke-width="0.8"/>
<circle cx="514.86" cy="166.97" r="1.6" fill="#c8c8ff" stroke="#0000ff" stroke-width="0.8"/>
<circle cx="515.48" cy="168.6" r="1.6" fill="#c8c8ff" stroke="#0000ff" stroke-width="0.8"/>
<circle cx="516.08" cy="170.12" r="1.6" fill="#c8c8ff" stroke="#0000ff" stroke-width="0.8"/>
<circle cx="516.68" cy="171.7" r="1.6" fill="#c8c8ff" stroke="#0000ff" stroke-width="0.8"/>
<circle cx="517.27" cy="173.2" r="1.6" fill="#c8c8ff" stroke="#0000ff" stroke-width="0.8"/>
<circle cx="517.88" cy="174.79" r="1.6" fill="#c8c8ff" stroke="#0000ff" stroke-width="0.8"/>
<circle cx="518.5" cy="176.35" r="1.6" fill="#c8c8ff" stroke="#0000ff" stroke-width="0.8"/>
<circle cx="519.14" cy="177.76" r="1.6" fill="#c8c8ff" stroke="#0000ff" stroke-width="0.8"/>
<circle cx="519.78" cy="179.33" r="1.6" fill="#c8c8ff" stroke="#0000ff" stroke-width="0.8"/>
<circle cx="520.44" cy="180.96" r="1.6" fill="#c8c8ff" stroke="#0000ff" stroke-width="0.8"/>
<circle cx="521.1" cy="182.15" r="1.6" fill="#c8c8ff" stroke="#0000ff" stroke-width="0.8"/>
<circle cx="521.78" cy="183.63" r="1.6" fill="#c8c8ff" stroke="#0000ff" stroke-width="0.8"/>
<circle cx="522.48" cy="185.27" r="1.6" fill="#c8c8ff" stroke="#0000ff" stroke-width="0.8"/>
<circle cx="523.19" cy="186.88" r="1.6" fill="#c8c8ff" stroke="#0000ff" stroke-width="0.8"/>
<circle cx="523.92" cy="188.17" r="1.6" fill="#c8c8ff" stroke="#0000ff" stroke-width="0.8"/>
<circle cx="524.65" cy="189.72" r="1.6" fill="#c8c8ff" stroke="#0000ff" stroke-width="0.8"/>
<circle cx="525.4" cy="191.04" r="1.6" fill="#c8c8ff" stroke="#0000ff" stroke-width="0.8"/>
<circle cx="526.16" cy="192.61" r="1.6" fill="#c8c8ff" stroke="#0000ff" stroke-width="0.8"/>
<circle cx="526.91" cy="193.91" r="1.6" fill="#c8c8ff" stroke="#0000ff" stroke-width="0.8"/>
<circle cx="527.66" cy="195.49" r="1.6" fill="#c8c8ff" stroke="#0000ff" stroke-width="0.8"/>
<circle cx="528.41" cy="196.92" r="1.6" fill="#c8c8ff" stroke="#0000ff" stroke-width="0.8"/>
<circle cx="529.17" cy="198.37" r="1.6" fill="#c8c8ff" stroke="#0000ff" stroke-width="0.8"/>
<circle cx="529.93" cy="199.91" r="1.6" fill="#c8c8ff" stroke="#0000ff" stroke-width="0.8"/>
<circle cx="530.7" cy="201.32" r="1.6" fill="#c8c8ff" stroke="#0000ff" stroke-width="0.8"/>
<circle cx="531.49" cy="202.59" r="1.6" fill="#c8c8ff" stroke="#0000ff" stroke-width="0.8"/>
<circle cx="532.3" cy="204.16" r="1.6" fill="#c8c8ff" stroke="#0000ff" stroke-width="0.8"/>
<circle cx="533.13" cy="205.31" r="1.6" fill="#c8c8ff" stroke="#0000ff" stroke-width="0.8"/>
<circle cx="533.99" cy="206.97" r="1.6" fill="#c8c8ff" stroke="#0000ff" stroke-width="0.8"/>
<circle cx="534.88" cy="208.52" r="1.6" fill="#c8c8ff" stroke="#0000ff" stroke-width="0.8"/>
<circle cx="535.81" cy="209.64" r="1.6" fill="#c8c8ff" stroke="#0000ff" stroke-width="0.8"/>
<circle cx="536.79" cy="210.95" r="1.6" fill="#c8c8ff" stroke="#0000ff" stroke-width="0.8"/>
<circle cx="537.79" cy="212.2" r="1.6" fill="#c8c8ff" stroke="#0000ff" stroke-width="0.8"/>
<circle cx="538.83" cy="213.54" r="1.6" fill="#c8c8ff" stroke="#0000ff" stroke-width="0.8"/>
<circle cx="539.89" cy="214.66" r="1.6" fill="#c8c8ff" stroke="#0000ff" stroke-width="0.8"/>
<circle cx="540.97" cy="216" r="1.6" fill="#c8c8ff" stroke="#0000ff" stroke-width="0.8"/>
<circle cx="542.06" cy="217.13" r="1.6" fill="#c8c8ff" stroke="#0000ff" stroke-width="0.8"/>
<circle cx="543.15" cy="218.32" r="1.6" fill="#c8c8ff" stroke="#0000ff" stroke-width="0.8"/>
<circle cx="544.26" cy="219.59" r="1.6" fill="#c8c8ff" stroke="#0000ff" stroke-width="0.8"/>
<circle cx="545.37" cy="220.77" r="1.6" fill="#c8c8ff" stroke="#0000ff" stroke-width="0.8"/>
<circle cx="546.49" cy="221.79" r="1.6" fill="#c8c8ff" stroke="#0000ff" stroke-width="0.8"/>
<circle cx="547.63" cy="223.34" r="1.6" fill="#c8c8ff" stroke="#0000ff" stroke-width="0.8"/>
<circle cx="548.79" cy="224.31" r="1.6" fill="#c8c8ff" stroke="#0000ff" stroke-width="0.8"/>
<circle cx="549.95" cy="225.27" r="1.6" fill="#c8c8ff" stroke="#0000ff" stroke-width="0.8"/>
<circle cx="551.13" cy="226.68" r="1.6" fill="#c8c8ff" stroke="#0000ff" stroke-width="0.8"/>
<circle cx="552.32" cy="227.7" r="1.6" fill="#c8c8ff" stroke="#0000ff" stroke-width="0.8"/>
<circle cx="553.52" cy="228.83" r="1.6" fill="#c8c8ff" stroke="#0000ff" stroke-width="0.8"/>
<circle cx="554.72" cy="229.99" r="1.6" fill="#c8c8ff" stroke="#0000ff" stroke-width="0.8"/>
<circle cx="555.93" cy="230.93" r="1.6" fill="#c8c8ff" stroke="#0000ff" stroke-width="0.8"/>
<circle cx="557.14" cy="231.82" r="1.6" fill="#c8c8ff" stroke="#0000ff" stroke-width="0.8"/>
<circle cx="558.38" cy="233.18" r="1.6" fill="#c8c8ff" stroke="#0000ff" stroke-width="0.8"/>
<circle cx="559.64" cy="234.25" r="1.6" fill="#c8c8ff" stroke="#0000ff" stroke-width="0.8"/>
<circle cx="560.93" cy="235.33" r="1.6" fill="#c8c8ff" stroke="#0000ff" stroke-width="0.8"/>
<circle cx="562.26" cy="236.12" r="1.6" fill="#c8c8ff" stroke="#0000ff" stroke-width="0.8"/>
<circle cx="563.61" cy="237.09" r="1.6" fill="#c8c8ff" stroke="#0000ff" stroke-width="0.8"/>
<circle cx="564.97" cy="238.06" r="1.6" fill="#c8c8ff" stroke="#0000ff" stroke-width="0.8"/>
<circle cx="566.35" cy="238.86" r="1.6" fill="#c8c8ff" stroke="#0000ff" stroke-width="0.8"/>
<circle cx="567.75" cy="239.71" r="1.6" fill="#c8c8ff" stroke="#0000ff" stroke-width="0.8"/>
<circle cx="569.17" cy="240.58" r="1.6" fill="#c8c8ff" stroke="#0000ff" stroke-width="0.8"/>
<circle cx="570.6" cy="241.25" r="1.6" fill="#c8c8ff" stroke="#0000ff" stroke-width="0.8"/>
<circle cx="572.05" cy="242.26" r="1.6" fill="#c8c8ff" stroke="#0000ff" stroke-width="0.8"/>
<circle cx="573.52" cy="242.73" r="1.6" fill="#c8c8ff" stroke="#0000ff" stroke-width="0.8"/>
<circle cx="575" cy="243.52" r="1.6" fill="#c8c8ff" stroke="#0000ff" stroke-width="0.8"/>
<circle cx="430.4" cy="91.8" r="1.8" fill="url(#gg)" stroke="#00c800" stroke-width="0.5"/>
<circle cx="432.6" cy="124" r="1.8" fill="url(#gg)" stroke="#00c800" stroke-width="0.5"/>
<circle cx="435.3" cy="114.9" r="1.8" fill="url(#gg)" stroke="#00c800" stroke-width="0.5"/>
<circle cx="437.1" cy="118" r="1.8" fill="url(#gg)" stroke="#00c800" stroke-width="0.5"/>
<circle cx="439" cy="140" r="1.8" fill="url(#gg)" stroke="#00c800" stroke-width="0.5"/>
<circle cx="441.5" cy="146" r="1.8" fill="url(#gg)" stroke="#00c800" stroke-width="0.5"/>
<circle cx="446" cy="150.5" r="1.8" fill="url(#gg)" stroke="#00c800" stroke-width="0.5"/>
<circle cx="452" cy="153.24" r="1.8" fill="url(#gg)" stroke="#00c800" stroke-width="0.5"/>
<circle cx="453.89" cy="152.86" r="1.8" fill="url(#gg)" stroke="#00c800" stroke-width="0.5"/>
<circle cx="455.78" cy="153.78" r="1.8" fill="url(#gg)" stroke="#00c800" stroke-width="0.5"/>
<circle cx="457.68" cy="154.08" r="1.8" fill="url(#gg)" stroke="#00c800" stroke-width="0.5"/>
<circle cx="459.57" cy="154.37" r="1.8" fill="url(#gg)" stroke="#00c800" stroke-width="0.5"/>
<circle cx="461.46" cy="153.59" r="1.8" fill="url(#gg)" stroke="#00c800" stroke-width="0.5"/>
<circle cx="463.35" cy="152.64" r="1.8" fill="url(#gg)" stroke="#00c800" stroke-width="0.5"/>
<circle cx="465.24" cy="153.5" r="1.8" fill="url(#gg)" stroke="#00c800" stroke-width="0.5"/>
<circle cx="467.11" cy="151.39" r="1.8" fill="url(#gg)" stroke="#00c800" stroke-width="0.5"/>
<circle cx="468.97" cy="152.24" r="1.8" fill="url(#gg)" stroke="#00c800" stroke-width="0.5"/>
<circle cx="470.79" cy="152.1" r="1.8" fill="url(#gg)" stroke="#00c800" stroke-width="0.5"/>
<circle cx="472.52" cy="151.37" r="1.8" fill="url(#gg)" stroke="#00c800" stroke-width="0.5"/>
<circle cx="473.81" cy="148.64" r="1.8" fill="url(#gg)" stroke="#00c800" stroke-width="0.5"/>
<circle cx="474.63" cy="146.66" r="1.8" fill="url(#gg)" stroke="#00c800" stroke-width="0.5"/>
<circle cx="475.46" cy="147.48" r="1.8" fill="url(#gg)" stroke="#00c800" stroke-width="0.5"/>
<circle cx="476.24" cy="144.02" r="1.8" fill="url(#gg)" stroke="#00c800" stroke-width="0.5"/>
<circle cx="477.21" cy="141.49" r="1.8" fill="url(#gg)" stroke="#00c800" stroke-width="0.5"/>
<circle cx="478.5" cy="140.43" r="1.8" fill="url(#gg)" stroke="#00c800" stroke-width="0.5"/>
<circle cx="479.92" cy="140.17" r="1.8" fill="url(#gg)" stroke="#00c800" stroke-width="0.5"/>
<circle cx="481.36" cy="139.87" r="1.8" fill="url(#gg)" stroke="#00c800" stroke-width="0.5"/>
<circle cx="482.85" cy="137.75" r="1.8" fill="url(#gg)" stroke="#00c800" stroke-width="0.5"/>
<circle cx="484.36" cy="137.58" r="1.8" fill="url(#gg)" stroke="#00c800" stroke-width="0.5"/>
<circle cx="485.89" cy="135.68" r="1.8" fill="url(#gg)" stroke="#00c800" stroke-width="0.5"/>
<circle cx="487.45" cy="134.81" r="1.8" fill="url(#gg)" stroke="#00c800" stroke-width="0.5"/>
<circle cx="489.05" cy="134.19" r="1.8" fill="url(#gg)" stroke="#00c800" stroke-width="0.5"/>
<circle cx="490.7" cy="132.19" r="1.8" fill="url(#gg)" stroke="#00c800" stroke-width="0.5"/>
<circle cx="492.5" cy="132.14" r="1.8" fill="url(#gg)" stroke="#00c800" stroke-width="0.5"/>
<circle cx="494.37" cy="131.39" r="1.8" fill="url(#gg)" stroke="#00c800" stroke-width="0.5"/>
<circle cx="496.17" cy="131.75" r="1.8" fill="url(#gg)" stroke="#00c800" stroke-width="0.5"/>
<circle cx="497.8" cy="133.75" r="1.8" fill="url(#gg)" stroke="#00c800" stroke-width="0.5"/>
<circle cx="499.1" cy="133.94" r="1.8" fill="url(#gg)" stroke="#00c800" stroke-width="0.5"/>
<circle cx="500.26" cy="136.15" r="1.8" fill="url(#gg)" stroke="#00c800" stroke-width="0.5"/>
<circle cx="501.27" cy="137.06" r="1.8" fill="url(#gg)" stroke="#00c800" stroke-width="0.5"/>
<circle cx="502.24" cy="139.25" r="1.8" fill="url(#gg)" stroke="#00c800" stroke-width="0.5"/>
<circle cx="503.15" cy="140.55" r="1.8" fill="url(#gg)" stroke="#00c800" stroke-width="0.5"/>
<circle cx="504" cy="143.54" r="1.8" fill="url(#gg)" stroke="#00c800" stroke-width="0.5"/>
<circle cx="504" cy="142.62" r="1.6" fill="#d0ffd0" stroke="#00dd00" stroke-width="0.8"/>
<circle cx="504.55" cy="144.27" r="1.6" fill="#d0ffd0" stroke="#00dd00" stroke-width="0.8"/>
<circle cx="505.11" cy="146.09" r="1.6" fill="#d0ffd0" stroke="#00dd00" stroke-width="0.8"/>
<circle cx="505.66" cy="147.3" r="1.6" fill="#d0ffd0" stroke="#00dd00" stroke-width="0.8"/>
<circle cx="506.22" cy="149.13" r="1.6" fill="#d0ffd0" stroke="#00dd00" stroke-width="0.8"/>
<circle cx="506.8" cy="150.62" r="1.6" fill="#d0ffd0" stroke="#00dd00" stroke-width="0.8"/>
<circle cx="507.34" cy="152.55" r="1.6" fill="#d0ffd0" stroke="#00dd00" stroke-width="0.8"/>
<circle cx="507.83" cy="154.28" r="1.6" fill="#d0ffd0" stroke="#00dd00" stroke-width="0.8"/>
<circle cx="508.27" cy="155.99" r="1.6" fill="#d0ffd0" stroke="#00dd00" stroke-width="0.8"/>
<circle cx="508.68" cy="157.65" r="1.6" fill="#d0ffd0" stroke="#00dd00" stroke-width="0.8"/>
<circle cx="509.08" cy="159.24" r="1.6" fill="#d0ffd0" stroke="#00dd00" stroke-width="0.8"/>
<circle cx="509.48" cy="161.21" r="1.6" fill="#d0ffd0" stroke="#00dd00" stroke-width="0.8"/>
<circle cx="509.85" cy="162.77" r="1.6" fill="#d0ffd0" stroke="#00dd00" stroke-width="0.8"/>
<circle cx="510.21" cy="164.42" r="1.6" fill="#d0ffd0" stroke="#00dd00" stroke-width="0.8"/>
<circle cx="510.58" cy="166.05" r="1.6" fill="#d0ffd0" stroke="#00dd00" stroke-width="0.8"/>
<circle cx="510.97" cy="167.91" r="1.6" fill="#d0ffd0" stroke="#00dd00" stroke-width="0.8"/>
<circle cx="511.4" cy="169.51" r="1.6" fill="#d0ffd0" stroke="#00dd00" stroke-width="0.8"/>
<circle cx="511.85" cy="171.2" r="1.6" fill="#d0ffd0" stroke="#00dd00" stroke-width="0.8"/>
<circle cx="512.34" cy="172.95" r="1.6" fill="#d0ffd0" stroke="#00dd00" stroke-width="0.8"/>
<circle cx="512.85" cy="174.62" r="1.6" fill="#d0ffd0" stroke="#00dd00" stroke-width="0.8"/>
<circle cx="513.38" cy="176.18" r="1.6" fill="#d0ffd0" stroke="#00dd00" stroke-width="0.8"/>
<circle cx="513.94" cy="178.05" r="1.6" fill="#d0ffd0" stroke="#00dd00" stroke-width="0.8"/>
<circle cx="514.52" cy="179.47" r="1.6" fill="#d0ffd0" stroke="#00dd00" stroke-width="0.8"/>
<circle cx="515.14" cy="181.1" r="1.6" fill="#d0ffd0" stroke="#00dd00" stroke-width="0.8"/>
<circle cx="515.78" cy="182.87" r="1.6" fill="#d0ffd0" stroke="#00dd00" stroke-width="0.8"/>
<circle cx="516.44" cy="184.47" r="1.6" fill="#d0ffd0" stroke="#00dd00" stroke-width="0.8"/>
<circle cx="517.13" cy="186.07" r="1.6" fill="#d0ffd0" stroke="#00dd00" stroke-width="0.8"/>
<circle cx="517.84" cy="187.62" r="1.6" fill="#d0ffd0" stroke="#00dd00" stroke-width="0.8"/>
<circle cx="518.56" cy="189.26" r="1.6" fill="#d0ffd0" stroke="#00dd00" stroke-width="0.8"/>
<circle cx="519.29" cy="190.79" r="1.6" fill="#d0ffd0" stroke="#00dd00" stroke-width="0.8"/>
<circle cx="520.06" cy="192.25" r="1.6" fill="#d0ffd0" stroke="#00dd00" stroke-width="0.8"/>
<circle cx="520.88" cy="194.03" r="1.6" fill="#d0ffd0" stroke="#00dd00" stroke-width="0.8"/>
<circle cx="521.74" cy="195.38" r="1.6" fill="#d0ffd0" stroke="#00dd00" stroke-width="0.8"/>
<circle cx="522.69" cy="196.93" r="1.6" fill="#d0ffd0" stroke="#00dd00" stroke-width="0.8"/>
<circle cx="523.74" cy="198.42" r="1.6" fill="#d0ffd0" stroke="#00dd00" stroke-width="0.8"/>
<circle cx="524.84" cy="199.71" r="1.6" fill="#d0ffd0" stroke="#00dd00" stroke-width="0.8"/>
<circle cx="525.94" cy="201.34" r="1.6" fill="#d0ffd0" stroke="#00dd00" stroke-width="0.8"/>
<circle cx="527.02" cy="202.3" r="1.6" fill="#d0ffd0" stroke="#00dd00" stroke-width="0.8"/>
<circle cx="528.02" cy="203.8" r="1.6" fill="#d0ffd0" stroke="#00dd00" stroke-width="0.8"/>
<circle cx="528.96" cy="205.36" r="1.6" fill="#d0ffd0" stroke="#00dd00" stroke-width="0.8"/>
<circle cx="529.86" cy="206.99" r="1.6" fill="#d0ffd0" stroke="#00dd00" stroke-width="0.8"/>
<circle cx="530.75" cy="208.33" r="1.6" fill="#d0ffd0" stroke="#00dd00" stroke-width="0.8"/>
<circle cx="531.67" cy="209.7" r="1.6" fill="#d0ffd0" stroke="#00dd00" stroke-width="0.8"/>
<circle cx="532.64" cy="211.41" r="1.6" fill="#d0ffd0" stroke="#00dd00" stroke-width="0.8"/>
<circle cx="533.71" cy="212.59" r="1.6" fill="#d0ffd0" stroke="#00dd00" stroke-width="0.8"/>
<circle cx="534.85" cy="213.98" r="1.6" fill="#d0ffd0" stroke="#00dd00" stroke-width="0.8"/>
<circle cx="536.06" cy="215.36" r="1.6" fill="#d0ffd0" stroke="#00dd00" stroke-width="0.8"/>
<circle cx="537.3" cy="216.43" r="1.6" fill="#d0ffd0" stroke="#00dd00" stroke-width="0.8"/>
<circle cx="538.58" cy="217.65" r="1.6" fill="#d0ffd0" stroke="#00dd00" stroke-width="0.8"/>
<circle cx="539.87" cy="218.93" r="1.6" fill="#d0ffd0" stroke="#00dd00" stroke-width="0.8"/>
<circle cx="541.17" cy="220.03" r="1.6" fill="#d0ffd0" stroke="#00dd00" stroke-width="0.8"/>
<circle cx="542.49" cy="221.22" r="1.6" fill="#d0ffd0" stroke="#00dd00" stroke-width="0.8"/>
<circle cx="543.84" cy="222.21" r="1.6" fill="#d0ffd0" stroke="#00dd00" stroke-width="0.8"/>
<circle cx="545.2" cy="223.39" r="1.6" fill="#d0ffd0" stroke="#00dd00" stroke-width="0.8"/>
<circle cx="546.59" cy="224.35" r="1.6" fill="#d0ffd0" stroke="#00dd00" stroke-width="0.8"/>
<circle cx="548" cy="225.35" r="1.6" fill="#d0ffd0" stroke="#00dd00" stroke-width="0.8"/>
<circle cx="429.5" cy="113.7" r="1.8" fill="url(#gr)" stroke="#e80000" stroke-width="0.5"/>
<circle cx="433.5" cy="127" r="1.8" fill="url(#gr)" stroke="#e80000" stroke-width="0.5"/>
<circle cx="434" cy="140.6" r="1.8" fill="url(#gr)" stroke="#e80000" stroke-width="0.5"/>
<circle cx="438.9" cy="128.9" r="1.8" fill="url(#gr)" stroke="#e80000" stroke-width="0.5"/>
<circle cx="440.7" cy="147.8" r="1.8" fill="url(#gr)" stroke="#e80000" stroke-width="0.5"/>
<circle cx="444.3" cy="132.1" r="1.8" fill="url(#gr)" stroke="#e80000" stroke-width="0.5"/>
<circle cx="446" cy="138" r="1.8" fill="url(#gr)" stroke="#e80000" stroke-width="0.5"/>
<circle cx="448" cy="143.88" r="1.8" fill="url(#gr)" stroke="#e80000" stroke-width="0.5"/>
<circle cx="448.77" cy="145.04" r="1.8" fill="url(#gr)" stroke="#e80000" stroke-width="0.5"/>
<circle cx="449.91" cy="146.86" r="1.8" fill="url(#gr)" stroke="#e80000" stroke-width="0.5"/>
<circle cx="451.37" cy="147.23" r="1.8" fill="url(#gr)" stroke="#e80000" stroke-width="0.5"/>
<circle cx="453.22" cy="148.28" r="1.8" fill="url(#gr)" stroke="#e80000" stroke-width="0.5"/>
<circle cx="455.18" cy="148.3" r="1.8" fill="url(#gr)" stroke="#e80000" stroke-width="0.5"/>
<circle cx="457.14" cy="147.47" r="1.8" fill="url(#gr)" stroke="#e80000" stroke-width="0.5"/>
<circle cx="459.04" cy="147.97" r="1.8" fill="url(#gr)" stroke="#e80000" stroke-width="0.5"/>
<circle cx="460.83" cy="146.52" r="1.8" fill="url(#gr)" stroke="#e80000" stroke-width="0.5"/>
<circle cx="462.55" cy="145.84" r="1.8" fill="url(#gr)" stroke="#e80000" stroke-width="0.5"/>
<circle cx="464.2" cy="144.11" r="1.8" fill="url(#gr)" stroke="#e80000" stroke-width="0.5"/>
<circle cx="465.8" cy="144.21" r="1.8" fill="url(#gr)" stroke="#e80000" stroke-width="0.5"/>
<circle cx="467.37" cy="142.91" r="1.8" fill="url(#gr)" stroke="#e80000" stroke-width="0.5"/>
<circle cx="468.95" cy="141.56" r="1.8" fill="url(#gr)" stroke="#e80000" stroke-width="0.5"/>
<circle cx="470.49" cy="139.69" r="1.8" fill="url(#gr)" stroke="#e80000" stroke-width="0.5"/>
<circle cx="471.9" cy="138.5" r="1.8" fill="url(#gr)" stroke="#e80000" stroke-width="0.5"/>
<circle cx="473.11" cy="137.83" r="1.8" fill="url(#gr)" stroke="#e80000" stroke-width="0.5"/>
<circle cx="474.27" cy="135.49" r="1.8" fill="url(#gr)" stroke="#e80000" stroke-width="0.5"/>
<circle cx="475.42" cy="134.17" r="1.8" fill="url(#gr)" stroke="#e80000" stroke-width="0.5"/>
<circle cx="476.51" cy="132.46" r="1.8" fill="url(#gr)" stroke="#e80000" stroke-width="0.5"/>
<circle cx="477.51" cy="130.15" r="1.8" fill="url(#gr)" stroke="#e80000" stroke-width="0.5"/>
<circle cx="478.46" cy="129.74" r="1.8" fill="url(#gr)" stroke="#e80000" stroke-width="0.5"/>
<circle cx="479.33" cy="126.22" r="1.8" fill="url(#gr)" stroke="#e80000" stroke-width="0.5"/>
<circle cx="480.14" cy="125.53" r="1.8" fill="url(#gr)" stroke="#e80000" stroke-width="0.5"/>
<circle cx="480.93" cy="123.58" r="1.8" fill="url(#gr)" stroke="#e80000" stroke-width="0.5"/>
<circle cx="481.71" cy="121.01" r="1.8" fill="url(#gr)" stroke="#e80000" stroke-width="0.5"/>
<circle cx="482.47" cy="120.17" r="1.8" fill="url(#gr)" stroke="#e80000" stroke-width="0.5"/>
<circle cx="483.22" cy="118.44" r="1.8" fill="url(#gr)" stroke="#e80000" stroke-width="0.5"/>
<circle cx="483.96" cy="116.39" r="1.8" fill="url(#gr)" stroke="#e80000" stroke-width="0.5"/>
<circle cx="484.68" cy="114.12" r="1.8" fill="url(#gr)" stroke="#e80000" stroke-width="0.5"/>
<circle cx="485.39" cy="112.92" r="1.8" fill="url(#gr)" stroke="#e80000" stroke-width="0.5"/>
<circle cx="486.06" cy="111.4" r="1.8" fill="url(#gr)" stroke="#e80000" stroke-width="0.5"/>
<circle cx="486.68" cy="109.09" r="1.8" fill="url(#gr)" stroke="#e80000" stroke-width="0.5"/>
<circle cx="487.3" cy="107.97" r="1.8" fill="url(#gr)" stroke="#e80000" stroke-width="0.5"/>
<circle cx="487.9" cy="105.67" r="1.8" fill="url(#gr)" stroke="#e80000" stroke-width="0.5"/>
<circle cx="488.53" cy="103.76" r="1.8" fill="url(#gr)" stroke="#e80000" stroke-width="0.5"/>
<circle cx="489.3" cy="102.26" r="1.8" fill="url(#gr)" stroke="#e80000" stroke-width="0.5"/>
<circle cx="490.1" cy="99.44" r="1.8" fill="url(#gr)" stroke="#e80000" stroke-width="0.5"/>
<circle cx="490.84" cy="97.68" r="1.8" fill="url(#gr)" stroke="#e80000" stroke-width="0.5"/>
<circle cx="491.67" cy="96.42" r="1.8" fill="url(#gr)" stroke="#e80000" stroke-width="0.5"/>
<circle cx="492.68" cy="94.74" r="1.8" fill="url(#gr)" stroke="#e80000" stroke-width="0.5"/>
<circle cx="493.84" cy="93.68" r="1.8" fill="url(#gr)" stroke="#e80000" stroke-width="0.5"/>
<circle cx="495.34" cy="94.43" r="1.8" fill="url(#gr)" stroke="#e80000" stroke-width="0.5"/>
<circle cx="495.75" cy="95.87" r="1.8" fill="url(#gr)" stroke="#e80000" stroke-width="0.5"/>
<circle cx="496.24" cy="97.8" r="1.8" fill="url(#gr)" stroke="#e80000" stroke-width="0.5"/>
<circle cx="496.7" cy="99.47" r="1.8" fill="url(#gr)" stroke="#e80000" stroke-width="0.5"/>
<circle cx="497.7" cy="110.8" r="1.8" fill="url(#gr)" stroke="#e80000" stroke-width="0.5"/>
<circle cx="498.9" cy="120.7" r="1.8" fill="url(#gr)" stroke="#e80000" stroke-width="0.5"/>
<circle cx="500.4" cy="133" r="1.8" fill="url(#gr)" stroke="#e80000" stroke-width="0.5"/>
<circle cx="500.9" cy="142.4" r="1.8" fill="url(#gr)" stroke="#e80000" stroke-width="0.5"/>
<circle cx="502.2" cy="152.9" r="1.8" fill="url(#gr)" stroke="#e80000" stroke-width="0.5"/>
<circle cx="503.1" cy="159.4" r="1.8" fill="url(#gr)" stroke="#e80000" stroke-width="0.5"/>
<circle cx="504.5" cy="167.3" r="1.8" fill="url(#gr)" stroke="#e80000" stroke-width="0.5"/>
<circle cx="505.8" cy="172.4" r="1.8" fill="url(#gr)" stroke="#e80000" stroke-width="0.5"/>
<circle cx="507.6" cy="177.8" r="1.8" fill="url(#gr)" stroke="#e80000" stroke-width="0.5"/>
<circle cx="510.3" cy="184.2" r="1.8" fill="url(#gr)" stroke="#e80000" stroke-width="0.5"/>
<circle cx="513" cy="189.5" r="1.8" fill="url(#gr)" stroke="#e80000" stroke-width="0.5"/>
<circle cx="516" cy="194" r="1.8" fill="url(#gr)" stroke="#e80000" stroke-width="0.5"/>
<circle cx="519.5" cy="198.6" r="1.8" fill="url(#gr)" stroke="#e80000" stroke-width="0.5"/>
<circle cx="568" cy="242.2" r="1.6" fill="#c8c8ff" stroke="#0000ff" stroke-width="0.8"/>
<circle cx="575.5" cy="246" r="1.6" fill="#c8c8ff" stroke="#0000ff" stroke-width="0.8"/>
<circle cx="571.5" cy="243.6" r="1.6" fill="#c8c8ff" stroke="#0000ff" stroke-width="0.8"/>
<circle cx="500.8" cy="170.7" r="1.85" fill="#e0e0e0" stroke="#000" stroke-width="1.05"/>
<circle cx="501.13" cy="171.87" r="1.85" fill="#e0e0e0" stroke="#000" stroke-width="1.05"/>
<circle cx="501.48" cy="173.03" r="1.85" fill="#e0e0e0" stroke="#000" stroke-width="1.05"/>
<circle cx="501.85" cy="174.18" r="1.85" fill="#e0e0e0" stroke="#000" stroke-width="1.05"/>
<circle cx="502.23" cy="175.34" r="1.85" fill="#e0e0e0" stroke="#000" stroke-width="1.05"/>
<circle cx="502.62" cy="176.48" r="1.85" fill="#e0e0e0" stroke="#000" stroke-width="1.05"/>
<circle cx="503.03" cy="177.62" r="1.85" fill="#e0e0e0" stroke="#000" stroke-width="1.05"/>
<circle cx="503.46" cy="178.76" r="1.85" fill="#e0e0e0" stroke="#000" stroke-width="1.05"/>
<circle cx="503.89" cy="179.89" r="1.85" fill="#e0e0e0" stroke="#000" stroke-width="1.05"/>
<circle cx="504.34" cy="181.02" r="1.85" fill="#e0e0e0" stroke="#000" stroke-width="1.05"/>
<circle cx="504.82" cy="182.13" r="1.85" fill="#e0e0e0" stroke="#000" stroke-width="1.05"/>
<circle cx="505.32" cy="183.24" r="1.85" fill="#e0e0e0" stroke="#000" stroke-width="1.05"/>
<circle cx="505.86" cy="184.32" r="1.85" fill="#e0e0e0" stroke="#000" stroke-width="1.05"/>
<circle cx="506.45" cy="185.38" r="1.85" fill="#e0e0e0" stroke="#000" stroke-width="1.05"/>
<circle cx="507.08" cy="186.42" r="1.85" fill="#e0e0e0" stroke="#000" stroke-width="1.05"/>
<circle cx="507.74" cy="187.44" r="1.85" fill="#e0e0e0" stroke="#000" stroke-width="1.05"/>
<circle cx="508.42" cy="188.44" r="1.85" fill="#e0e0e0" stroke="#000" stroke-width="1.05"/>
<circle cx="509.13" cy="189.42" r="1.85" fill="#e0e0e0" stroke="#000" stroke-width="1.05"/>
<circle cx="509.85" cy="190.4" r="1.85" fill="#e0e0e0" stroke="#000" stroke-width="1.05"/>
<circle cx="510.59" cy="191.36" r="1.85" fill="#e0e0e0" stroke="#000" stroke-width="1.05"/>
<circle cx="511.36" cy="192.3" r="1.85" fill="#e0e0e0" stroke="#000" stroke-width="1.05"/>
<circle cx="512.14" cy="193.22" r="1.85" fill="#e0e0e0" stroke="#000" stroke-width="1.05"/>
<circle cx="512.94" cy="194.13" r="1.85" fill="#e0e0e0" stroke="#000" stroke-width="1.05"/>
<circle cx="513.75" cy="195.04" r="1.85" fill="#e0e0e0" stroke="#000" stroke-width="1.05"/>
<circle cx="514.57" cy="195.93" r="1.85" fill="#e0e0e0" stroke="#000" stroke-width="1.05"/>
<circle cx="515.41" cy="196.81" r="1.85" fill="#e0e0e0" stroke="#000" stroke-width="1.05"/>
<circle cx="516.26" cy="197.67" r="1.85" fill="#e0e0e0" stroke="#000" stroke-width="1.05"/>
<circle cx="517.12" cy="198.53" r="1.85" fill="#e0e0e0" stroke="#000" stroke-width="1.05"/>
<circle cx="517.98" cy="199.38" r="1.85" fill="#e0e0e0" stroke="#000" stroke-width="1.05"/>
<circle cx="518.84" cy="200.23" r="1.85" fill="#e0e0e0" stroke="#000" stroke-width="1.05"/>
<circle cx="519.72" cy="201.08" r="1.85" fill="#e0e0e0" stroke="#000" stroke-width="1.05"/>
<circle cx="520.6" cy="201.91" r="1.85" fill="#e0e0e0" stroke="#000" stroke-width="1.05"/>
<circle cx="521.48" cy="202.74" r="1.85" fill="#e0e0e0" stroke="#000" stroke-width="1.05"/>
<circle cx="522.37" cy="203.57" r="1.85" fill="#e0e0e0" stroke="#000" stroke-width="1.05"/>
<circle cx="523.25" cy="204.4" r="1.85" fill="#e0e0e0" stroke="#000" stroke-width="1.05"/>
<circle cx="524.12" cy="205.24" r="1.85" fill="#e0e0e0" stroke="#000" stroke-width="1.05"/>
<circle cx="524.99" cy="206.09" r="1.85" fill="#e0e0e0" stroke="#000" stroke-width="1.05"/>
<circle cx="525.84" cy="206.95" r="1.85" fill="#e0e0e0" stroke="#000" stroke-width="1.05"/>
<circle cx="526.68" cy="207.83" r="1.85" fill="#e0e0e0" stroke="#000" stroke-width="1.05"/>
<circle cx="527.51" cy="208.71" r="1.85" fill="#e0e0e0" stroke="#000" stroke-width="1.05"/>
<circle cx="528.35" cy="209.59" r="1.85" fill="#e0e0e0" stroke="#000" stroke-width="1.05"/>
<circle cx="529.18" cy="210.47" r="1.85" fill="#e0e0e0" stroke="#000" stroke-width="1.05"/>
<circle cx="530.03" cy="211.33" r="1.85" fill="#e0e0e0" stroke="#000" stroke-width="1.05"/>
<circle cx="530.88" cy="212.2" r="1.85" fill="#e0e0e0" stroke="#000" stroke-width="1.05"/>
<circle cx="531.73" cy="213.06" r="1.85" fill="#e0e0e0" stroke="#000" stroke-width="1.05"/>
<circle cx="532.58" cy="213.93" r="1.85" fill="#e0e0e0" stroke="#000" stroke-width="1.05"/>
<circle cx="533.43" cy="214.8" r="1.85" fill="#e0e0e0" stroke="#000" stroke-width="1.05"/>
<circle cx="534.29" cy="215.65" r="1.85" fill="#e0e0e0" stroke="#000" stroke-width="1.05"/>
<circle cx="535.16" cy="216.49" r="1.85" fill="#e0e0e0" stroke="#000" stroke-width="1.05"/>
<circle cx="536.05" cy="217.32" r="1.85" fill="#e0e0e0" stroke="#000" stroke-width="1.05"/>
<circle cx="536.96" cy="218.12" r="1.85" fill="#e0e0e0" stroke="#000" stroke-width="1.05"/>
<circle cx="537.9" cy="218.88" r="1.85" fill="#e0e0e0" stroke="#000" stroke-width="1.05"/>
<circle cx="538.87" cy="219.61" r="1.85" fill="#e0e0e0" stroke="#000" stroke-width="1.05"/>
<circle cx="539.86" cy="220.31" r="1.85" fill="#e0e0e0" stroke="#000" stroke-width="1.05"/>
<circle cx="540.86" cy="221" r="1.85" fill="#e0e0e0" stroke="#000" stroke-width="1.05"/>
<circle cx="541.86" cy="221.68" r="1.85" fill="#e0e0e0" stroke="#000" stroke-width="1.05"/>
<circle cx="542.85" cy="222.38" r="1.85" fill="#e0e0e0" stroke="#000" stroke-width="1.05"/>
<circle cx="543.83" cy="223.11" r="1.85" fill="#e0e0e0" stroke="#000" stroke-width="1.05"/>
<circle cx="544.77" cy="223.87" r="1.85" fill="#e0e0e0" stroke="#000" stroke-width="1.05"/>
<circle cx="545.68" cy="224.67" r="1.85" fill="#e0e0e0" stroke="#000" stroke-width="1.05"/>
<circle cx="546.57" cy="225.5" r="1.85" fill="#e0e0e0" stroke="#000" stroke-width="1.05"/>
<circle cx="547.45" cy="226.33" r="1.85" fill="#e0e0e0" stroke="#000" stroke-width="1.05"/>
<circle cx="548.34" cy="227.15" r="1.85" fill="#e0e0e0" stroke="#000" stroke-width="1.05"/>
<circle cx="549.26" cy="227.94" r="1.85" fill="#e0e0e0" stroke="#000" stroke-width="1.05"/>
<circle cx="550.21" cy="228.7" r="1.85" fill="#e0e0e0" stroke="#000" stroke-width="1.05"/>
<circle cx="551.17" cy="229.43" r="1.85" fill="#e0e0e0" stroke="#000" stroke-width="1.05"/>
<circle cx="552.15" cy="230.15" r="1.85" fill="#e0e0e0" stroke="#000" stroke-width="1.05"/>
<circle cx="553.14" cy="230.85" r="1.85" fill="#e0e0e0" stroke="#000" stroke-width="1.05"/>
<circle cx="554.14" cy="231.54" r="1.85" fill="#e0e0e0" stroke="#000" stroke-width="1.05"/>
<circle cx="555.14" cy="232.22" r="1.85" fill="#e0e0e0" stroke="#000" stroke-width="1.05"/>
<circle cx="556.15" cy="232.9" r="1.85" fill="#e0e0e0" stroke="#000" stroke-width="1.05"/>
<circle cx="557.15" cy="233.57" r="1.85" fill="#e0e0e0" stroke="#000" stroke-width="1.05"/>
<circle cx="558.17" cy="234.24" r="1.85" fill="#e0e0e0" stroke="#000" stroke-width="1.05"/>
<circle cx="559.18" cy="234.91" r="1.85" fill="#e0e0e0" stroke="#000" stroke-width="1.05"/>
<circle cx="560.2" cy="235.56" r="1.85" fill="#e0e0e0" stroke="#000" stroke-width="1.05"/>
<circle cx="561.23" cy="236.21" r="1.85" fill="#e0e0e0" stroke="#000" stroke-width="1.05"/>
<circle cx="562.26" cy="236.84" r="1.85" fill="#e0e0e0" stroke="#000" stroke-width="1.05"/>
<circle cx="563.31" cy="237.46" r="1.85" fill="#e0e0e0" stroke="#000" stroke-width="1.05"/>
<circle cx="564.36" cy="238.06" r="1.85" fill="#e0e0e0" stroke="#000" stroke-width="1.05"/>
<circle cx="565.42" cy="238.65" r="1.85" fill="#e0e0e0" stroke="#000" stroke-width="1.05"/>
<circle cx="566.49" cy="239.22" r="1.85" fill="#e0e0e0" stroke="#000" stroke-width="1.05"/>
<circle cx="567.56" cy="239.79" r="1.85" fill="#e0e0e0" stroke="#000" stroke-width="1.05"/>
<circle cx="568.64" cy="240.34" r="1.85" fill="#e0e0e0" stroke="#000" stroke-width="1.05"/>
<circle cx="569.72" cy="240.89" r="1.85" fill="#e0e0e0" stroke="#000" stroke-width="1.05"/>
<circle cx="570.81" cy="241.43" r="1.85" fill="#e0e0e0" stroke="#000" stroke-width="1.05"/>
<circle cx="571.89" cy="241.97" r="1.85" fill="#e0e0e0" stroke="#000" stroke-width="1.05"/>
<circle cx="572.98" cy="242.5" r="1.85" fill="#e0e0e0" stroke="#000" stroke-width="1.05"/>
<circle cx="574.07" cy="243.04" r="1.85" fill="#e0e0e0" stroke="#000" stroke-width="1.05"/>
<circle cx="575.16" cy="243.57" r="1.85" fill="#e0e0e0" stroke="#000" stroke-width="1.05"/>
<circle cx="576.25" cy="244.1" r="1.85" fill="#e0e0e0" stroke="#000" stroke-width="1.05"/>
<circle cx="577.34" cy="244.63" r="1.85" fill="#e0e0e0" stroke="#000" stroke-width="1.05"/>
<circle cx="578.44" cy="245.14" r="1.85" fill="#e0e0e0" stroke="#000" stroke-width="1.05"/>
<circle cx="579.54" cy="245.66" r="1.85" fill="#e0e0e0" stroke="#000" stroke-width="1.05"/>
<circle cx="580.64" cy="246.17" r="1.85" fill="#e0e0e0" stroke="#000" stroke-width="1.05"/>
<circle cx="581.74" cy="246.68" r="1.85" fill="#e0e0e0" stroke="#000" stroke-width="1.05"/>
<circle cx="582.84" cy="247.19" r="1.85" fill="#e0e0e0" stroke="#000" stroke-width="1.05"/>
<circle cx="583.93" cy="247.71" r="1.85" fill="#e0e0e0" stroke="#000" stroke-width="1.05"/>
<circle cx="585.03" cy="248.23" r="1.85" fill="#e0e0e0" stroke="#000" stroke-width="1.05"/>
<circle cx="586.12" cy="248.76" r="1.85" fill="#e0e0e0" stroke="#000" stroke-width="1.05"/>
<circle cx="587.2" cy="249.3" r="1.85" fill="#e0e0e0" stroke="#000" stroke-width="1.05"/>
<circle cx="588.29" cy="249.85" r="1.85" fill="#e0e0e0" stroke="#000" stroke-width="1.05"/>
<circle cx="589.36" cy="250.4" r="1.85" fill="#e0e0e0" stroke="#000" stroke-width="1.05"/>
<circle cx="590.44" cy="250.97" r="1.85" fill="#e0e0e0" stroke="#000" stroke-width="1.05"/>
<circle cx="591.51" cy="251.53" r="1.85" fill="#e0e0e0" stroke="#000" stroke-width="1.05"/>
<circle cx="592.58" cy="252.1" r="1.85" fill="#e0e0e0" stroke="#000" stroke-width="1.05"/>
<circle cx="593.65" cy="252.67" r="1.85" fill="#e0e0e0" stroke="#000" stroke-width="1.05"/>
<circle cx="594.72" cy="253.24" r="1.85" fill="#e0e0e0" stroke="#000" stroke-width="1.05"/>
<circle cx="595.79" cy="253.81" r="1.85" fill="#e0e0e0" stroke="#000" stroke-width="1.05"/>
<circle cx="596.86" cy="254.38" r="1.85" fill="#e0e0e0" stroke="#000" stroke-width="1.05"/>
<circle cx="597.94" cy="254.94" r="1.85" fill="#e0e0e0" stroke="#000" stroke-width="1.05"/>
<circle cx="599.01" cy="255.5" r="1.85" fill="#e0e0e0" stroke="#000" stroke-width="1.05"/>
<circle cx="600.09" cy="256.05" r="1.85" fill="#e0e0e0" stroke="#000" stroke-width="1.05"/>
<circle cx="601.18" cy="256.6" r="1.85" fill="#e0e0e0" stroke="#000" stroke-width="1.05"/>
<circle cx="602.26" cy="257.15" r="1.85" fill="#e0e0e0" stroke="#000" stroke-width="1.05"/>
<circle cx="603.34" cy="257.69" r="1.85" fill="#e0e0e0" stroke="#000" stroke-width="1.05"/>
<circle cx="604.43" cy="258.24" r="1.85" fill="#e0e0e0" stroke="#000" stroke-width="1.05"/>
<circle cx="605.51" cy="258.78" r="1.85" fill="#e0e0e0" stroke="#000" stroke-width="1.05"/>
<circle cx="606.6" cy="259.32" r="1.85" fill="#e0e0e0" stroke="#000" stroke-width="1.05"/>
<circle cx="607.68" cy="259.86" r="1.85" fill="#e0e0e0" stroke="#000" stroke-width="1.05"/>
<circle cx="608.77" cy="260.4" r="1.85" fill="#e0e0e0" stroke="#000" stroke-width="1.05"/>
<circle cx="609.86" cy="260.93" r="1.85" fill="#e0e0e0" stroke="#000" stroke-width="1.05"/>
<circle cx="610.94" cy="261.47" r="1.85" fill="#e0e0e0" stroke="#000" stroke-width="1.05"/>
<circle cx="612.03" cy="262.01" r="1.85" fill="#e0e0e0" stroke="#000" stroke-width="1.05"/>
<circle cx="613.11" cy="262.56" r="1.85" fill="#e0e0e0" stroke="#000" stroke-width="1.05"/>
<circle cx="614.19" cy="263.11" r="1.85" fill="#e0e0e0" stroke="#000" stroke-width="1.05"/>
<circle cx="615.27" cy="263.66" r="1.85" fill="#e0e0e0" stroke="#000" stroke-width="1.05"/>
<circle cx="616.35" cy="264.22" r="1.85" fill="#e0e0e0" stroke="#000" stroke-width="1.05"/>
<circle cx="617.43" cy="264.77" r="1.85" fill="#e0e0e0" stroke="#000" stroke-width="1.05"/>
<circle cx="618.51" cy="265.32" r="1.85" fill="#e0e0e0" stroke="#000" stroke-width="1.05"/>
<circle cx="619.59" cy="265.86" r="1.85" fill="#e0e0e0" stroke="#000" stroke-width="1.05"/>
<circle cx="620.68" cy="266.4" r="1.85" fill="#e0e0e0" stroke="#000" stroke-width="1.05"/>
<circle cx="621.77" cy="266.93" r="1.85" fill="#e0e0e0" stroke="#000" stroke-width="1.05"/>
<circle cx="622.87" cy="267.45" r="1.85" fill="#e0e0e0" stroke="#000" stroke-width="1.05"/>
<circle cx="623.97" cy="267.95" r="1.85" fill="#e0e0e0" stroke="#000" stroke-width="1.05"/>
<circle cx="625.08" cy="268.45" r="1.85" fill="#e0e0e0" stroke="#000" stroke-width="1.05"/>
<circle cx="626.19" cy="268.93" r="1.85" fill="#e0e0e0" stroke="#000" stroke-width="1.05"/>
<circle cx="627.3" cy="269.41" r="1.85" fill="#e0e0e0" stroke="#000" stroke-width="1.05"/>
<circle cx="628.42" cy="269.89" r="1.85" fill="#e0e0e0" stroke="#000" stroke-width="1.05"/>
<circle cx="629.54" cy="270.35" r="1.85" fill="#e0e0e0" stroke="#000" stroke-width="1.05"/>
<circle cx="630.66" cy="270.81" r="1.85" fill="#e0e0e0" stroke="#000" stroke-width="1.05"/>
<circle cx="631.79" cy="271.26" r="1.85" fill="#e0e0e0" stroke="#000" stroke-width="1.05"/>
<circle cx="632.92" cy="271.71" r="1.85" fill="#e0e0e0" stroke="#000" stroke-width="1.05"/>
<circle cx="634.05" cy="272.14" r="1.85" fill="#e0e0e0" stroke="#000" stroke-width="1.05"/>
<circle cx="635.19" cy="272.56" r="1.85" fill="#e0e0e0" stroke="#000" stroke-width="1.05"/>
<circle cx="636.33" cy="272.97" r="1.85" fill="#e0e0e0" stroke="#000" stroke-width="1.05"/>
<circle cx="637.47" cy="273.37" r="1.85" fill="#e0e0e0" stroke="#000" stroke-width="1.05"/>
<circle cx="638.62" cy="273.75" r="1.85" fill="#e0e0e0" stroke="#000" stroke-width="1.05"/>
<circle cx="639.78" cy="274.12" r="1.85" fill="#e0e0e0" stroke="#000" stroke-width="1.05"/>
<circle cx="640.94" cy="274.48" r="1.85" fill="#e0e0e0" stroke="#000" stroke-width="1.05"/>
<circle cx="642.1" cy="274.84" r="1.85" fill="#e0e0e0" stroke="#000" stroke-width="1.05"/>
<circle cx="643.26" cy="275.19" r="1.85" fill="#e0e0e0" stroke="#000" stroke-width="1.05"/>
<circle cx="644.42" cy="275.53" r="1.85" fill="#e0e0e0" stroke="#000" stroke-width="1.05"/>
<circle cx="645.58" cy="275.87" r="1.85" fill="#e0e0e0" stroke="#000" stroke-width="1.05"/>
<circle cx="646.75" cy="276.21" r="1.85" fill="#e0e0e0" stroke="#000" stroke-width="1.05"/>
<circle cx="647.92" cy="276.54" r="1.85" fill="#e0e0e0" stroke="#000" stroke-width="1.05"/>
<circle cx="649.09" cy="276.86" r="1.85" fill="#e0e0e0" stroke="#000" stroke-width="1.05"/>
<circle cx="650.26" cy="277.18" r="1.85" fill="#e0e0e0" stroke="#000" stroke-width="1.05"/>
<circle cx="651.43" cy="277.49" r="1.85" fill="#e0e0e0" stroke="#000" stroke-width="1.05"/>
<circle cx="652.6" cy="277.8" r="1.85" fill="#e0e0e0" stroke="#000" stroke-width="1.05"/>
<circle cx="434" cy="135.4" r="2.4" fill="url(#gk)" stroke="#000" stroke-width="0.5"/>
<circle cx="433" cy="127.6" r="2.4" fill="url(#gk)" stroke="#000" stroke-width="0.5"/>
<circle cx="436.2" cy="158.3" r="2.4" fill="url(#gk)" stroke="#000" stroke-width="0.5"/>
<circle cx="439.8" cy="140.6" r="2.4" fill="url(#gk)" stroke="#000" stroke-width="0.5"/>
<circle cx="442.9" cy="133.4" r="2.4" fill="url(#gk)" stroke="#000" stroke-width="0.5"/>
<circle cx="445.2" cy="137.5" r="2.4" fill="url(#gk)" stroke="#000" stroke-width="0.5"/>
<circle cx="448" cy="142.77" r="2.4" fill="url(#gk)" stroke="#000" stroke-width="0.5"/>
<circle cx="450.12" cy="143.24" r="2.4" fill="url(#gk)" stroke="#000" stroke-width="0.5"/>
<circle cx="452.35" cy="144.42" r="2.4" fill="url(#gk)" stroke="#000" stroke-width="0.5"/>
<circle cx="454.73" cy="145.13" r="2.4" fill="url(#gk)" stroke="#000" stroke-width="0.5"/>
<circle cx="457.18" cy="144.93" r="2.4" fill="url(#gk)" stroke="#000" stroke-width="0.5"/>
<circle cx="459.52" cy="143.79" r="2.4" fill="url(#gk)" stroke="#000" stroke-width="0.5"/>
<circle cx="461.65" cy="143.6" r="2.4" fill="url(#gk)" stroke="#000" stroke-width="0.5"/>
<circle cx="463.64" cy="141.64" r="2.4" fill="url(#gk)" stroke="#000" stroke-width="0.5"/>
<circle cx="465.51" cy="139.73" r="2.4" fill="url(#gk)" stroke="#000" stroke-width="0.5"/>
<circle cx="467.3" cy="137.97" r="2.4" fill="url(#gk)" stroke="#000" stroke-width="0.5"/>
<circle cx="468.97" cy="137" r="2.4" fill="url(#gk)" stroke="#000" stroke-width="0.5"/>
<circle cx="470.47" cy="135.01" r="2.4" fill="url(#gk)" stroke="#000" stroke-width="0.5"/>
<circle cx="471.88" cy="132.15" r="2.4" fill="url(#gk)" stroke="#000" stroke-width="0.5"/>
<circle cx="473.23" cy="130.33" r="2.4" fill="url(#gk)" stroke="#000" stroke-width="0.5"/>
<circle cx="474.43" cy="128.44" r="2.4" fill="url(#gk)" stroke="#000" stroke-width="0.5"/>
<circle cx="475.42" cy="125.43" r="2.4" fill="url(#gk)" stroke="#000" stroke-width="0.5"/>
<circle cx="476.34" cy="123.32" r="2.4" fill="url(#gk)" stroke="#000" stroke-width="0.5"/>
<circle cx="477.36" cy="121.65" r="2.4" fill="url(#gk)" stroke="#000" stroke-width="0.5"/>
<circle cx="478.48" cy="118.82" r="2.4" fill="url(#gk)" stroke="#000" stroke-width="0.5"/>
<circle cx="479.56" cy="116.67" r="2.4" fill="url(#gk)" stroke="#000" stroke-width="0.5"/>
<circle cx="480.52" cy="114.12" r="2.4" fill="url(#gk)" stroke="#000" stroke-width="0.5"/>
<circle cx="481.4" cy="111.98" r="2.4" fill="url(#gk)" stroke="#000" stroke-width="0.5"/>
<circle cx="482.6" cy="109.2" r="2.4" fill="url(#gk)" stroke="#000" stroke-width="0.5"/>
<circle cx="483.8" cy="105.8" r="2.4" fill="url(#gk)" stroke="#000" stroke-width="0.5"/>
<circle cx="485" cy="101.7" r="2.4" fill="url(#gk)" stroke="#000" stroke-width="0.5"/>
<circle cx="486.8" cy="94.2" r="2.4" fill="url(#gk)" stroke="#000" stroke-width="0.5"/>
<circle cx="488.6" cy="87.8" r="2.4" fill="url(#gk)" stroke="#000" stroke-width="0.5"/>
<circle cx="490.4" cy="81.1" r="2.4" fill="url(#gk)" stroke="#000" stroke-width="0.5"/>
<circle cx="491.3" cy="69.8" r="2.4" fill="url(#gk)" stroke="#000" stroke-width="0.5"/>
<circle cx="492.4" cy="62.2" r="2.4" fill="url(#gk)" stroke="#000" stroke-width="0.5"/>
<circle cx="493.5" cy="53.5" r="2.4" fill="url(#gk)" stroke="#000" stroke-width="0.5"/>
<circle cx="494.9" cy="49.3" r="2.4" fill="url(#gk)" stroke="#000" stroke-width="0.5"/>
<circle cx="495.8" cy="84.2" r="2.4" fill="url(#gk)" stroke="#000" stroke-width="0.5"/>
<circle cx="497.3" cy="133" r="2.4" fill="url(#gk)" stroke="#000" stroke-width="0.5"/>
<circle cx="498" cy="155.2" r="2.4" fill="url(#gk)" stroke="#000" stroke-width="0.5"/>
<circle cx="498.9" cy="162.8" r="2.4" fill="url(#gk)" stroke="#000" stroke-width="0.5"/>
<circle cx="499.8" cy="167.4" r="2.4" fill="url(#gk)" stroke="#000" stroke-width="0.5"/>
</g>
<rect x="414.2" y="10.8" width="238.1" height="283.9" fill="none" stroke="#000" stroke-width="1.7"/>
<text transform="translate(373,24) scale(0.985,1.07)" font-size="18" text-anchor="start" fill="#000" font-weight="bold" font-style="normal" >b</text>
<text transform="translate(407.5,300.7) scale(0.985,1.07)" font-size="19" text-anchor="end" fill="#000" font-weight="normal" font-style="normal" >0</text>
<text transform="translate(407.5,225.8) scale(0.985,1.07)" font-size="19" text-anchor="end" fill="#000" font-weight="normal" font-style="normal" >1</text>
<text transform="translate(407.5,150.9) scale(0.985,1.07)" font-size="19" text-anchor="end" fill="#000" font-weight="normal" font-style="normal" >2</text>
<text transform="translate(407.5,76) scale(0.985,1.07)" font-size="19" text-anchor="end" fill="#000" font-weight="normal" font-style="normal" >3</text>
<text transform="translate(475.3,316.9) scale(0.985,1.07)" font-size="19" text-anchor="middle" fill="#000" font-weight="normal" font-style="normal" >0.1</text>
<text transform="translate(563.9,316.9) scale(0.985,1.07)" font-size="19" text-anchor="middle" fill="#000" font-weight="normal" font-style="normal" >1</text>
<text transform="translate(653.7,316.9) scale(0.985,1.07)" font-size="19" text-anchor="middle" fill="#000" font-weight="normal" font-style="normal" >10</text>
<text transform="translate(551,332.9) scale(0.985,1.07)" font-size="19" text-anchor="middle" fill="#000" font-weight="normal" font-style="normal" ><tspan font-style="italic">T</tspan> (K)</text>
<text transform="translate(387.4,139.5) rotate(-90) scale(0.985,1.07)" font-size="19" text-anchor="middle" fill="#000" ><tspan font-style="italic">C / T</tspan>&#160;&#160;(J/molK<tspan font-size="13" dy="-8">2</tspan><tspan dy="8">)</tspan></text>
<text transform="translate(565,44.2) scale(0.985,1.07)" font-size="19" text-anchor="start" fill="#000" font-weight="normal" font-style="normal" ><tspan font-style="italic">B</tspan> (mT)</text>
<circle cx="584.8" cy="61.3" r="2.4" fill="url(#gk)" stroke="#000" stroke-width="0.5"/>
<text transform="translate(611.5,67.9) scale(0.985,1.07)" font-size="19" text-anchor="start" fill="#000" font-weight="normal" font-style="normal" >0</text>
<circle cx="584.8" cy="84.6" r="1.8" fill="url(#gr)" stroke="#e80000" stroke-width="0.5"/>
<text transform="translate(611.5,91.2) scale(0.985,1.07)" font-size="19" text-anchor="start" fill="#000" font-weight="normal" font-style="normal" >10</text>
<circle cx="584.8" cy="107.9" r="1.8" fill="url(#gg)" stroke="#00c800" stroke-width="0.5"/>
<text transform="translate(611.5,114.5) scale(0.985,1.07)" font-size="19" text-anchor="start" fill="#000" font-weight="normal" font-style="normal" >50</text>
<circle cx="584.8" cy="131.2" r="1.8" fill="url(#gb)" stroke="#0000e0" stroke-width="0.5"/>
<text transform="translate(611.5,137.8) scale(0.985,1.07)" font-size="19" text-anchor="start" fill="#000" font-weight="normal" font-style="normal" >100</text>
<circle cx="584.8" cy="154.5" r="1.8" fill="url(#gc)" stroke="#00dcf0" stroke-width="0.5"/>
<text transform="translate(611.5,161.1) scale(0.985,1.07)" font-size="19" text-anchor="start" fill="#000" font-weight="normal" font-style="normal" >200</text>
</g>
<g id="panelC">
<line x1="215.87" y1="606.4" x2="215.87" y2="601.9" stroke="#000" stroke-width="1.3" />
<line x1="215.87" y1="371.2" x2="215.87" y2="375.7" stroke="#000" stroke-width="1.3" />
<line x1="248.04" y1="606.4" x2="248.04" y2="601.9" stroke="#000" stroke-width="1.3" />
<line x1="248.04" y1="371.2" x2="248.04" y2="375.7" stroke="#000" stroke-width="1.3" />
<line x1="280.21" y1="606.4" x2="280.21" y2="601.9" stroke="#000" stroke-width="1.3" />
<line x1="280.21" y1="371.2" x2="280.21" y2="375.7" stroke="#000" stroke-width="1.3" />
<line x1="312.38" y1="606.4" x2="312.38" y2="601.9" stroke="#000" stroke-width="1.3" />
<line x1="312.38" y1="371.2" x2="312.38" y2="375.7" stroke="#000" stroke-width="1.3" />
<line x1="344.55" y1="606.4" x2="344.55" y2="599.4" stroke="#000" stroke-width="1.3" />
<line x1="344.55" y1="371.2" x2="344.55" y2="378.2" stroke="#000" stroke-width="1.3" />
<line x1="376.72" y1="606.4" x2="376.72" y2="601.9" stroke="#000" stroke-width="1.3" />
<line x1="376.72" y1="371.2" x2="376.72" y2="375.7" stroke="#000" stroke-width="1.3" />
<line x1="408.89" y1="606.4" x2="408.89" y2="601.9" stroke="#000" stroke-width="1.3" />
<line x1="408.89" y1="371.2" x2="408.89" y2="375.7" stroke="#000" stroke-width="1.3" />
<line x1="441.06" y1="606.4" x2="441.06" y2="601.9" stroke="#000" stroke-width="1.3" />
<line x1="441.06" y1="371.2" x2="441.06" y2="375.7" stroke="#000" stroke-width="1.3" />
<line x1="473.23" y1="606.4" x2="473.23" y2="601.9" stroke="#000" stroke-width="1.3" />
<line x1="473.23" y1="371.2" x2="473.23" y2="375.7" stroke="#000" stroke-width="1.3" />
<line x1="184" y1="581.55" x2="188.5" y2="581.55" stroke="#000" stroke-width="1.3" />
<line x1="505.4" y1="581.55" x2="500.9" y2="581.55" stroke="#000" stroke-width="1.3" />
<line x1="184" y1="556.7" x2="191" y2="556.7" stroke="#000" stroke-width="1.3" />
<line x1="505.4" y1="556.7" x2="498.4" y2="556.7" stroke="#000" stroke-width="1.3" />
<line x1="184" y1="531.85" x2="188.5" y2="531.85" stroke="#000" stroke-width="1.3" />
<line x1="505.4" y1="531.85" x2="500.9" y2="531.85" stroke="#000" stroke-width="1.3" />
<line x1="184" y1="507" x2="191" y2="507" stroke="#000" stroke-width="1.3" />
<line x1="505.4" y1="507" x2="498.4" y2="507" stroke="#000" stroke-width="1.3" />
<line x1="184" y1="482.15" x2="188.5" y2="482.15" stroke="#000" stroke-width="1.3" />
<line x1="505.4" y1="482.15" x2="500.9" y2="482.15" stroke="#000" stroke-width="1.3" />
<line x1="184" y1="457.3" x2="191" y2="457.3" stroke="#000" stroke-width="1.3" />
<line x1="505.4" y1="457.3" x2="498.4" y2="457.3" stroke="#000" stroke-width="1.3" />
<line x1="184" y1="432.45" x2="188.5" y2="432.45" stroke="#000" stroke-width="1.3" />
<line x1="505.4" y1="432.45" x2="500.9" y2="432.45" stroke="#000" stroke-width="1.3" />
<line x1="184" y1="407.6" x2="191" y2="407.6" stroke="#000" stroke-width="1.3" />
<line x1="505.4" y1="407.6" x2="498.4" y2="407.6" stroke="#000" stroke-width="1.3" />
<line x1="184" y1="382.75" x2="188.5" y2="382.75" stroke="#000" stroke-width="1.3" />
<line x1="505.4" y1="382.75" x2="500.9" y2="382.75" stroke="#000" stroke-width="1.3" />
<clipPath id="clipC"><rect x="184.0" y="371.2" width="321.4" height="235.2"/></clipPath>
<g clip-path="url(#clipC)">
<rect x="192.13" y="573.08" width="1.1" height="1.1" fill="#ff00ff"/>
<rect x="198.69" y="569" width="1.1" height="1.1" fill="#ff00ff"/>
<rect x="204.63" y="567.08" width="1.1" height="1.1" fill="#ff00ff"/>
<rect x="190.14" y="578.56" width="1.1" height="1.1" fill="#ff00ff"/>
<rect x="189.24" y="579.14" width="1.1" height="1.1" fill="#ff00ff"/>
<rect x="204.59" y="567.48" width="1.1" height="1.1" fill="#ff00ff"/>
<rect x="186.19" y="584.77" width="1.1" height="1.1" fill="#ff00ff"/>
<rect x="199.39" y="574.25" width="1.1" height="1.1" fill="#ff00ff"/>
<rect x="189.5" y="571.2" width="1.1" height="1.1" fill="#ff00ff"/>
<rect x="199.4" y="568.81" width="1.1" height="1.1" fill="#ff00ff"/>
<rect x="188.31" y="578.61" width="1.1" height="1.1" fill="#ff00ff"/>
<rect x="196.62" y="576.83" width="1.1" height="1.1" fill="#ff00ff"/>
<rect x="196.87" y="575.19" width="1.1" height="1.1" fill="#ff00ff"/>
<rect x="202.56" y="562.61" width="1.1" height="1.1" fill="#ff00ff"/>
<rect x="186.24" y="576.65" width="1.1" height="1.1" fill="#ff00ff"/>
<rect x="189.31" y="579.2" width="1.1" height="1.1" fill="#ff00ff"/>
<rect x="200.28" y="566.34" width="1.1" height="1.1" fill="#ff00ff"/>
<rect x="197.05" y="569.17" width="1.1" height="1.1" fill="#ff00ff"/>
<rect x="186.31" y="583.88" width="1.1" height="1.1" fill="#ff00ff"/>
<rect x="199.41" y="567.19" width="1.1" height="1.1" fill="#ff00ff"/>
<rect x="190.46" y="584.04" width="1.1" height="1.1" fill="#ff00ff"/>
<rect x="194.25" y="575.51" width="1.1" height="1.1" fill="#ff00ff"/>
<rect x="211.16" y="558.58" width="1.1" height="1.1" fill="#ff00ff"/>
<rect x="185.71" y="578.65" width="1.1" height="1.1" fill="#ff00ff"/>
<rect x="206.97" y="564.89" width="1.1" height="1.1" fill="#ff00ff"/>
<rect x="187.15" y="575.33" width="1.1" height="1.1" fill="#ff00ff"/>
<rect x="196.05" y="570.7" width="1.1" height="1.1" fill="#ff00ff"/>
<rect x="191.21" y="576.03" width="1.1" height="1.1" fill="#ff00ff"/>
<rect x="188.2" y="580.38" width="1.1" height="1.1" fill="#ff00ff"/>
<rect x="195.49" y="568.52" width="1.1" height="1.1" fill="#ff00ff"/>
<rect x="186.3" y="581.91" width="1.1" height="1.1" fill="#ff00ff"/>
<rect x="202.3" y="567.56" width="1.1" height="1.1" fill="#ff00ff"/>
<rect x="187.64" y="576.22" width="1.1" height="1.1" fill="#ff00ff"/>
<rect x="188.77" y="580.6" width="1.1" height="1.1" fill="#ff00ff"/>
<rect x="191.24" y="575.16" width="1.1" height="1.1" fill="#ff00ff"/>
<rect x="184.32" y="585.08" width="1.1" height="1.1" fill="#ff00ff"/>
<rect x="197.3" y="575.42" width="1.1" height="1.1" fill="#ff00ff"/>
<rect x="187.8" y="587.94" width="1.1" height="1.1" fill="#ff00ff"/>
<rect x="200.83" y="568.06" width="1.1" height="1.1" fill="#ff00ff"/>
<rect x="191.22" y="587.06" width="1.1" height="1.1" fill="#ff00ff"/>
<rect x="191.18" y="579.34" width="1.1" height="1.1" fill="#ff00ff"/>
<rect x="188.86" y="578.28" width="1.1" height="1.1" fill="#ff00ff"/>
<rect x="193.23" y="577.84" width="1.1" height="1.1" fill="#ff00ff"/>
<rect x="193.55" y="580.03" width="1.1" height="1.1" fill="#ff00ff"/>
<rect x="187.45" y="575.77" width="1.1" height="1.1" fill="#ff00ff"/>
<rect x="195.44" y="573.01" width="1.1" height="1.1" fill="#ff00ff"/>
<rect x="192.98" y="573.41" width="1.1" height="1.1" fill="#ff00ff"/>
<rect x="188.08" y="572.4" width="1.1" height="1.1" fill="#ff00ff"/>
<rect x="188.21" y="572.77" width="1.1" height="1.1" fill="#ff00ff"/>
<rect x="185.78" y="569.82" width="1.1" height="1.1" fill="#ff00ff"/>
<rect x="184.67" y="585.45" width="1.1" height="1.1" fill="#ff00ff"/>
<rect x="189.51" y="583.39" width="1.1" height="1.1" fill="#ff00ff"/>
<rect x="196.39" y="578.74" width="1.1" height="1.1" fill="#ff00ff"/>
<rect x="202.52" y="564.18" width="1.1" height="1.1" fill="#ff00ff"/>
<rect x="193.16" y="573.2" width="1.1" height="1.1" fill="#ff00ff"/>
<rect x="184.2" y="583.36" width="1.1" height="1.1" fill="#ff00ff"/>
<rect x="212.58" y="561.77" width="1.1" height="1.1" fill="#ff00ff"/>
<rect x="186.89" y="575.87" width="1.1" height="1.1" fill="#ff00ff"/>
<rect x="194.89" y="572.78" width="1.1" height="1.1" fill="#ff00ff"/>
<rect x="197.05" y="574.35" width="1.1" height="1.1" fill="#ff00ff"/>
<rect x="187.66" y="584.89" width="1.1" height="1.1" fill="#ff00ff"/>
<rect x="193.21" y="573.42" width="1.1" height="1.1" fill="#ff00ff"/>
<rect x="202.65" y="566.21" width="1.1" height="1.1" fill="#ff00ff"/>
<rect x="191" y="576.16" width="1.1" height="1.1" fill="#ff00ff"/>
<rect x="204.31" y="567.52" width="1.1" height="1.1" fill="#ff00ff"/>
<rect x="186.1" y="582.8" width="1.1" height="1.1" fill="#ff00ff"/>
<rect x="194.2" y="574.16" width="1.1" height="1.1" fill="#ff00ff"/>
<rect x="191.63" y="567.11" width="1.1" height="1.1" fill="#ff00ff"/>
<rect x="204.58" y="568.8" width="1.1" height="1.1" fill="#ff00ff"/>
<rect x="189.11" y="578.11" width="1.1" height="1.1" fill="#ff00ff"/>
<rect x="201.1" y="567.24" width="1.1" height="1.1" fill="#ff00ff"/>
<rect x="192.92" y="576.02" width="1.1" height="1.1" fill="#ff00ff"/>
<rect x="189.98" y="584.35" width="1.1" height="1.1" fill="#ff00ff"/>
<rect x="184.66" y="580.51" width="1.1" height="1.1" fill="#ff00ff"/>
<rect x="197.11" y="566.02" width="1.1" height="1.1" fill="#ff00ff"/>
<rect x="190.23" y="573.11" width="1.1" height="1.1" fill="#ff00ff"/>
<rect x="193.1" y="572.79" width="1.1" height="1.1" fill="#ff00ff"/>
<rect x="185.33" y="582.08" width="1.1" height="1.1" fill="#ff00ff"/>
<rect x="187.35" y="580.92" width="1.1" height="1.1" fill="#ff00ff"/>
<rect x="200.09" y="575.79" width="1.1" height="1.1" fill="#ff00ff"/>
<rect x="192.06" y="579.36" width="1.1" height="1.1" fill="#ff00ff"/>
<rect x="188.31" y="574.51" width="1.1" height="1.1" fill="#ff00ff"/>
<rect x="190.69" y="577.53" width="1.1" height="1.1" fill="#ff00ff"/>
<rect x="193.78" y="567.85" width="1.1" height="1.1" fill="#ff00ff"/>
<rect x="214.89" y="555.23" width="1.1" height="1.1" fill="#ff00ff"/>
<rect x="184.26" y="587.02" width="1.1" height="1.1" fill="#ff00ff"/>
<rect x="199.98" y="568.2" width="1.1" height="1.1" fill="#ff00ff"/>
<rect x="207.35" y="560.07" width="1.1" height="1.1" fill="#ff00ff"/>
<rect x="206.4" y="565.38" width="1.1" height="1.1" fill="#ff00ff"/>
<rect x="187.27" y="578.69" width="1.1" height="1.1" fill="#ff00ff"/>
<rect x="198.51" y="576.17" width="1.1" height="1.1" fill="#ff00ff"/>
<rect x="184.01" y="581.62" width="1.1" height="1.1" fill="#ff00ff"/>
<rect x="187.1" y="578.23" width="1.1" height="1.1" fill="#ff00ff"/>
<rect x="199.02" y="571.7" width="1.1" height="1.1" fill="#ff00ff"/>
<rect x="187.76" y="578.72" width="1.1" height="1.1" fill="#ff00ff"/>
<rect x="190.21" y="576.12" width="1.1" height="1.1" fill="#ff00ff"/>
<rect x="187.54" y="579.73" width="1.1" height="1.1" fill="#ff00ff"/>
<rect x="199.59" y="574.42" width="1.1" height="1.1" fill="#ff00ff"/>
<rect x="200.31" y="569.31" width="1.1" height="1.1" fill="#ff00ff"/>
<rect x="192.15" y="574.46" width="1.1" height="1.1" fill="#ff00ff"/>
<rect x="193.3" y="576.68" width="1.1" height="1.1" fill="#ff00ff"/>
<rect x="190.78" y="577.08" width="1.1" height="1.1" fill="#ff00ff"/>
<rect x="187.44" y="582.26" width="1.1" height="1.1" fill="#ff00ff"/>
<rect x="200.91" y="566.31" width="1.1" height="1.1" fill="#ff00ff"/>
<rect x="195.67" y="579.82" width="1.1" height="1.1" fill="#ff00ff"/>
<rect x="187.43" y="581.61" width="1.1" height="1.1" fill="#ff00ff"/>
<rect x="185.94" y="578.83" width="1.1" height="1.1" fill="#ff00ff"/>
<rect x="192.49" y="579.39" width="1.1" height="1.1" fill="#ff00ff"/>
<rect x="188.19" y="586.21" width="1.1" height="1.1" fill="#ff00ff"/>
<rect x="186.21" y="581.36" width="1.1" height="1.1" fill="#ff00ff"/>
<rect x="186.39" y="580.48" width="1.1" height="1.1" fill="#ff00ff"/>
<rect x="184.35" y="589.42" width="1.1" height="1.1" fill="#ff00ff"/>
<rect x="210.97" y="558.34" width="1.1" height="1.1" fill="#ff00ff"/>
<rect x="186.92" y="583.52" width="1.1" height="1.1" fill="#ff00ff"/>
<rect x="194.27" y="572.18" width="1.1" height="1.1" fill="#ff00ff"/>
<rect x="189.12" y="568.47" width="1.1" height="1.1" fill="#ff00ff"/>
<rect x="191.49" y="576.62" width="1.1" height="1.1" fill="#ff00ff"/>
<rect x="184.89" y="582.37" width="1.1" height="1.1" fill="#ff00ff"/>
<rect x="186.87" y="590.64" width="1.1" height="1.1" fill="#ff00ff"/>
<rect x="186.09" y="584.79" width="1.1" height="1.1" fill="#ff00ff"/>
<rect x="189.8" y="579.62" width="1.1" height="1.1" fill="#ff00ff"/>
<rect x="187.42" y="579.37" width="1.1" height="1.1" fill="#ff00ff"/>
<rect x="194.22" y="571.54" width="1.1" height="1.1" fill="#ff00ff"/>
<rect x="189.29" y="581.71" width="1.1" height="1.1" fill="#ff00ff"/>
<rect x="189.35" y="575.68" width="1.1" height="1.1" fill="#ff00ff"/>
<rect x="187.69" y="568.82" width="1.1" height="1.1" fill="#ff00ff"/>
<rect x="194.93" y="573.98" width="1.1" height="1.1" fill="#ff00ff"/>
<rect x="187.18" y="585.32" width="1.1" height="1.1" fill="#ff00ff"/>
<rect x="188.59" y="583.22" width="1.1" height="1.1" fill="#ff00ff"/>
<rect x="188.78" y="581.3" width="1.1" height="1.1" fill="#ff00ff"/>
<rect x="188.39" y="580.59" width="1.1" height="1.1" fill="#ff00ff"/>
<rect x="200.86" y="567.3" width="1.1" height="1.1" fill="#ff00ff"/>
<rect x="190.71" y="576.14" width="1.1" height="1.1" fill="#ff00ff"/>
<rect x="187.62" y="591.85" width="1.1" height="1.1" fill="#ff00ff"/>
<rect x="190.3" y="569.36" width="1.1" height="1.1" fill="#ff00ff"/>
<rect x="191.16" y="570.69" width="1.1" height="1.1" fill="#ff00ff"/>
<rect x="190.05" y="578.09" width="1.1" height="1.1" fill="#ff00ff"/>
<rect x="194.64" y="571.81" width="1.1" height="1.1" fill="#ff00ff"/>
<rect x="205.13" y="566.72" width="1.1" height="1.1" fill="#ff00ff"/>
<rect x="192.2" y="580.68" width="1.1" height="1.1" fill="#ff00ff"/>
<rect x="196.36" y="569.86" width="1.1" height="1.1" fill="#ff00ff"/>
<rect x="187.81" y="580.04" width="1.1" height="1.1" fill="#ff00ff"/>
<rect x="193.01" y="569.13" width="1.1" height="1.1" fill="#ff00ff"/>
<rect x="184.34" y="591.1" width="1.1" height="1.1" fill="#ff00ff"/>
<rect x="184.52" y="583.43" width="1.1" height="1.1" fill="#ff00ff"/>
<rect x="184.33" y="577.11" width="1.1" height="1.1" fill="#ff00ff"/>
<rect x="195.29" y="574.95" width="1.1" height="1.1" fill="#ff00ff"/>
<rect x="186.23" y="584.32" width="1.1" height="1.1" fill="#ff00ff"/>
<rect x="193.44" y="568.01" width="1.1" height="1.1" fill="#ff00ff"/>
<rect x="189.93" y="575.75" width="1.1" height="1.1" fill="#ff00ff"/>
<rect x="186.23" y="577.93" width="1.1" height="1.1" fill="#ff00ff"/>
<rect x="193.38" y="579.19" width="1.1" height="1.1" fill="#ff00ff"/>
<rect x="184.33" y="581.32" width="1.1" height="1.1" fill="#ff00ff"/>
<rect x="186.67" y="581.13" width="1.1" height="1.1" fill="#ff00ff"/>
<rect x="184.28" y="571.81" width="1.1" height="1.1" fill="#ff00ff"/>
<rect x="193.36" y="574.6" width="1.1" height="1.1" fill="#ff00ff"/>
<rect x="193.12" y="581.06" width="1.1" height="1.1" fill="#ff00ff"/>
<rect x="194.01" y="582.5" width="1.1" height="1.1" fill="#ff00ff"/>
<rect x="185.69" y="583.81" width="1.1" height="1.1" fill="#ff00ff"/>
<rect x="189.31" y="576.22" width="1.1" height="1.1" fill="#ff00ff"/>
<rect x="201.24" y="568.63" width="1.1" height="1.1" fill="#ff00ff"/>
<rect x="184.26" y="588.11" width="1.1" height="1.1" fill="#ff00ff"/>
<rect x="204.61" y="562.03" width="1.1" height="1.1" fill="#ff00ff"/>
<rect x="185.19" y="582.04" width="1.1" height="1.1" fill="#ff00ff"/>
<rect x="205.73" y="573.36" width="1.1" height="1.1" fill="#ff00ff"/>
<rect x="184.27" y="584.55" width="1.1" height="1.1" fill="#ff00ff"/>
<rect x="194.87" y="578.83" width="1.1" height="1.1" fill="#ff00ff"/>
<rect x="186.55" y="584.85" width="1.1" height="1.1" fill="#ff00ff"/>
<rect x="190.9" y="566.68" width="1.1" height="1.1" fill="#ff00ff"/>
<rect x="198.71" y="572.2" width="1.1" height="1.1" fill="#ff00ff"/>
<rect x="194.05" y="566.44" width="1.1" height="1.1" fill="#ff00ff"/>
<rect x="203.55" y="567.53" width="1.1" height="1.1" fill="#ff00ff"/>
<rect x="191.56" y="581.34" width="1.1" height="1.1" fill="#ff00ff"/>
<rect x="194.05" y="574.47" width="1.1" height="1.1" fill="#ff00ff"/>
<rect x="201.59" y="570.17" width="1.1" height="1.1" fill="#ff00ff"/>
<rect x="185.26" y="582.77" width="1.1" height="1.1" fill="#ff00ff"/>
<rect x="196.17" y="574.28" width="1.1" height="1.1" fill="#ff00ff"/>
<rect x="185.84" y="575.34" width="1.1" height="1.1" fill="#ff00ff"/>
<rect x="190.98" y="577.85" width="1.1" height="1.1" fill="#ff00ff"/>
<rect x="206.65" y="565.24" width="1.1" height="1.1" fill="#ff00ff"/>
<rect x="184.47" y="580.06" width="1.1" height="1.1" fill="#ff00ff"/>
<rect x="193.84" y="574.69" width="1.1" height="1.1" fill="#ff00ff"/>
<rect x="190.41" y="584.83" width="1.1" height="1.1" fill="#ff00ff"/>
<rect x="206.07" y="564.39" width="1.1" height="1.1" fill="#ff00ff"/>
<rect x="194.06" y="579.67" width="1.1" height="1.1" fill="#ff00ff"/>
<rect x="191.86" y="588.43" width="1.1" height="1.1" fill="#ff00ff"/>
<rect x="184.02" y="587.77" width="1.1" height="1.1" fill="#ff00ff"/>
<rect x="197.17" y="572.73" width="1.1" height="1.1" fill="#ff00ff"/>
<rect x="198.23" y="573.57" width="1.1" height="1.1" fill="#ff00ff"/>
<rect x="188.38" y="590.39" width="1.1" height="1.1" fill="#ff00ff"/>
<rect x="194.17" y="574.38" width="1.1" height="1.1" fill="#ff00ff"/>
<rect x="189.13" y="578.13" width="1.1" height="1.1" fill="#ff00ff"/>
<rect x="201.25" y="567.04" width="1.1" height="1.1" fill="#ff00ff"/>
<rect x="186.03" y="578.08" width="1.1" height="1.1" fill="#ff00ff"/>
<rect x="200.15" y="569.94" width="1.1" height="1.1" fill="#ff00ff"/>
<rect x="195.63" y="576.23" width="1.1" height="1.1" fill="#ff00ff"/>
<rect x="188.84" y="582.5" width="1.1" height="1.1" fill="#ff00ff"/>
<rect x="196.53" y="569.17" width="1.1" height="1.1" fill="#ff00ff"/>
<rect x="193.8" y="589.38" width="1.1" height="1.1" fill="#ff00ff"/>
<rect x="185.55" y="585.02" width="1.1" height="1.1" fill="#ff00ff"/>
<rect x="197.55" y="574.23" width="1.1" height="1.1" fill="#ff00ff"/>
<rect x="188.92" y="582.72" width="1.1" height="1.1" fill="#ff00ff"/>
<rect x="185.1" y="577.15" width="1.1" height="1.1" fill="#ff00ff"/>
<rect x="198.42" y="571.12" width="1.1" height="1.1" fill="#ff00ff"/>
<rect x="193.87" y="575.77" width="1.1" height="1.1" fill="#ff00ff"/>
<rect x="193.3" y="577.52" width="1.1" height="1.1" fill="#ff00ff"/>
<rect x="184.96" y="580.93" width="1.1" height="1.1" fill="#ff00ff"/>
<rect x="193.42" y="570.86" width="1.1" height="1.1" fill="#ff00ff"/>
<rect x="196.96" y="565.72" width="1.1" height="1.1" fill="#ff00ff"/>
<rect x="204.33" y="567.76" width="1.1" height="1.1" fill="#ff00ff"/>
<rect x="185.17" y="579.1" width="1.1" height="1.1" fill="#ff00ff"/>
<rect x="192.05" y="576.32" width="1.1" height="1.1" fill="#ff00ff"/>
<rect x="184.17" y="588.03" width="1.1" height="1.1" fill="#ff00ff"/>
<rect x="187.14" y="579.84" width="1.1" height="1.1" fill="#ff00ff"/>
<rect x="190.68" y="582.49" width="1.1" height="1.1" fill="#ff00ff"/>
<rect x="183.95" y="584.16" width="1.1" height="1.1" fill="#ff00ff"/>
<rect x="186.23" y="584.93" width="1.1" height="1.1" fill="#ff00ff"/>
<rect x="203.01" y="565.2" width="1.1" height="1.1" fill="#ff00ff"/>
<rect x="184.15" y="583.05" width="1.1" height="1.1" fill="#ff00ff"/>
<rect x="192.55" y="582.57" width="1.1" height="1.1" fill="#ff00ff"/>
<rect x="185.5" y="583.15" width="1.1" height="1.1" fill="#ff00ff"/>
<rect x="198.85" y="567.15" width="1.1" height="1.1" fill="#ff00ff"/>
<rect x="191.06" y="575.89" width="1.1" height="1.1" fill="#ff00ff"/>
<rect x="185.6" y="583.14" width="1.1" height="1.1" fill="#ff00ff"/>
<rect x="188.16" y="587.67" width="1.1" height="1.1" fill="#ff00ff"/>
<rect x="190.35" y="577.46" width="1.1" height="1.1" fill="#ff00ff"/>
<rect x="198.31" y="574.72" width="1.1" height="1.1" fill="#ff00ff"/>
<rect x="185.49" y="583.89" width="1.1" height="1.1" fill="#ff00ff"/>
<rect x="195.17" y="574.41" width="1.1" height="1.1" fill="#ff00ff"/>
<rect x="193.19" y="572.4" width="1.1" height="1.1" fill="#ff00ff"/>
<rect x="186.44" y="574.05" width="1.1" height="1.1" fill="#ff00ff"/>
<rect x="192.62" y="571.89" width="1.1" height="1.1" fill="#ff00ff"/>
<rect x="200.13" y="568.89" width="1.1" height="1.1" fill="#ff00ff"/>
<rect x="189.01" y="575.36" width="1.1" height="1.1" fill="#ff00ff"/>
<rect x="184.66" y="581.49" width="1.1" height="1.1" fill="#ff00ff"/>
<rect x="192.3" y="580.15" width="1.1" height="1.1" fill="#ff00ff"/>
<rect x="201.74" y="571.26" width="1.1" height="1.1" fill="#ff00ff"/>
<rect x="191.97" y="577.04" width="1.1" height="1.1" fill="#ff00ff"/>
<rect x="200.64" y="569.92" width="1.1" height="1.1" fill="#ff00ff"/>
<rect x="202.77" y="570.36" width="1.1" height="1.1" fill="#ff00ff"/>
<rect x="188.33" y="571.72" width="1.1" height="1.1" fill="#ff00ff"/>
<rect x="197.77" y="566.47" width="1.1" height="1.1" fill="#ff00ff"/>
<rect x="186.05" y="585.35" width="1.1" height="1.1" fill="#ff00ff"/>
<rect x="187.44" y="575.16" width="1.1" height="1.1" fill="#ff00ff"/>
<rect x="192.65" y="576.68" width="1.1" height="1.1" fill="#ff00ff"/>
<rect x="211.45" y="562.92" width="1.1" height="1.1" fill="#ff00ff"/>
<rect x="189.51" y="568.17" width="1.1" height="1.1" fill="#ff00ff"/>
<rect x="198.54" y="565.63" width="1.1" height="1.1" fill="#ff00ff"/>
<rect x="185.71" y="586.95" width="1.1" height="1.1" fill="#ff00ff"/>
<rect x="202.44" y="562.24" width="1.1" height="1.1" fill="#ff00ff"/>
<rect x="196.44" y="569.02" width="1.1" height="1.1" fill="#ff00ff"/>
<rect x="184.99" y="579.67" width="1.1" height="1.1" fill="#ff00ff"/>
<rect x="189.23" y="576.66" width="1.1" height="1.1" fill="#ff00ff"/>
<rect x="185.57" y="577.7" width="1.1" height="1.1" fill="#ff00ff"/>
<rect x="188.2" y="579.52" width="1.1" height="1.1" fill="#ff00ff"/>
<rect x="195.39" y="580.84" width="1.1" height="1.1" fill="#ff00ff"/>
<rect x="198.37" y="574.16" width="1.1" height="1.1" fill="#ff00ff"/>
<rect x="192.18" y="577.87" width="1.1" height="1.1" fill="#ff00ff"/>
<rect x="190.53" y="581.33" width="1.1" height="1.1" fill="#ff00ff"/>
<rect x="201.12" y="566.51" width="1.1" height="1.1" fill="#ff00ff"/>
<rect x="189.27" y="575.27" width="1.1" height="1.1" fill="#ff00ff"/>
<rect x="199.18" y="579.23" width="1.1" height="1.1" fill="#ff00ff"/>
<rect x="203.93" y="567.15" width="1.1" height="1.1" fill="#ff00ff"/>
<rect x="193.61" y="580.6" width="1.1" height="1.1" fill="#ff00ff"/>
<rect x="185.87" y="579.59" width="1.1" height="1.1" fill="#ff00ff"/>
<rect x="184.33" y="586.67" width="1.1" height="1.1" fill="#ff00ff"/>
<rect x="185.01" y="576.52" width="1.1" height="1.1" fill="#ff00ff"/>
<rect x="193.64" y="568.54" width="1.1" height="1.1" fill="#ff00ff"/>
<rect x="191.84" y="581.89" width="1.1" height="1.1" fill="#ff00ff"/>
<rect x="187.58" y="581.22" width="1.1" height="1.1" fill="#ff00ff"/>
<rect x="186.04" y="586.1" width="1.1" height="1.1" fill="#ff00ff"/>
<rect x="184.19" y="573.73" width="1.1" height="1.1" fill="#ff00ff"/>
<rect x="187.66" y="566.56" width="1.1" height="1.1" fill="#ff00ff"/>
<rect x="207.14" y="569.49" width="1.1" height="1.1" fill="#ff00ff"/>
<rect x="196.98" y="571.02" width="1.1" height="1.1" fill="#ff00ff"/>
<rect x="183.93" y="583.46" width="1.1" height="1.1" fill="#ff00ff"/>
<rect x="196.53" y="570.2" width="1.1" height="1.1" fill="#ff00ff"/>
<rect x="193.42" y="573.04" width="1.1" height="1.1" fill="#ff00ff"/>
<rect x="186.36" y="582.33" width="1.1" height="1.1" fill="#ff00ff"/>
<rect x="187.71" y="583.42" width="1.1" height="1.1" fill="#ff00ff"/>
<rect x="195.1" y="573.92" width="1.1" height="1.1" fill="#ff00ff"/>
<rect x="191.22" y="573.1" width="1.1" height="1.1" fill="#ff00ff"/>
<rect x="199.15" y="569.88" width="1.1" height="1.1" fill="#ff00ff"/>
<rect x="194.92" y="574.51" width="1.1" height="1.1" fill="#ff00ff"/>
<rect x="194.86" y="576.71" width="1.1" height="1.1" fill="#ff00ff"/>
<rect x="194.72" y="578.5" width="1.1" height="1.1" fill="#ff00ff"/>
<rect x="195.52" y="573.32" width="1.1" height="1.1" fill="#ff00ff"/>
<rect x="206.42" y="564.62" width="1.1" height="1.1" fill="#ff00ff"/>
<rect x="199.61" y="576" width="1.1" height="1.1" fill="#ff00ff"/>
<rect x="199.29" y="575.19" width="1.1" height="1.1" fill="#ff00ff"/>
<rect x="193.61" y="578.88" width="1.1" height="1.1" fill="#ff00ff"/>
<rect x="204.63" y="568.15" width="1.1" height="1.1" fill="#ff00ff"/>
<rect x="185.69" y="584.47" width="1.1" height="1.1" fill="#ff00ff"/>
<rect x="187.08" y="582.79" width="1.1" height="1.1" fill="#ff00ff"/>
<rect x="206.69" y="570.34" width="1.1" height="1.1" fill="#ff00ff"/>
<rect x="189.28" y="581.16" width="1.1" height="1.1" fill="#ff00ff"/>
<rect x="188.44" y="579.96" width="1.1" height="1.1" fill="#ff00ff"/>
<rect x="186.08" y="581.66" width="1.1" height="1.1" fill="#ff00ff"/>
<rect x="202.31" y="566.71" width="1.1" height="1.1" fill="#ff00ff"/>
<rect x="198.79" y="567.66" width="1.1" height="1.1" fill="#ff00ff"/>
<rect x="195.46" y="582.03" width="1.1" height="1.1" fill="#ff00ff"/>
<rect x="198.94" y="576.74" width="1.1" height="1.1" fill="#ff00ff"/>
<rect x="184.59" y="583.78" width="1.1" height="1.1" fill="#ff00ff"/>
<rect x="193.68" y="577.56" width="1.1" height="1.1" fill="#ff00ff"/>
<rect x="184.11" y="576.04" width="1.1" height="1.1" fill="#ff00ff"/>
<rect x="191.72" y="570.69" width="1.1" height="1.1" fill="#ff00ff"/>
<rect x="203.14" y="566.52" width="1.1" height="1.1" fill="#ff00ff"/>
<rect x="185.3" y="583.22" width="1.1" height="1.1" fill="#ff00ff"/>
<rect x="184.78" y="584.76" width="1.1" height="1.1" fill="#ff00ff"/>
<rect x="190.57" y="571.35" width="1.1" height="1.1" fill="#ff00ff"/>
<rect x="205.07" y="564.03" width="1.1" height="1.1" fill="#ff00ff"/>
<rect x="188.89" y="575.6" width="1.1" height="1.1" fill="#ff00ff"/>
<rect x="189.78" y="578.41" width="1.1" height="1.1" fill="#ff00ff"/>
<rect x="193.18" y="571.43" width="1.1" height="1.1" fill="#ff00ff"/>
<rect x="187.79" y="576.91" width="1.1" height="1.1" fill="#ff00ff"/>
<rect x="198.43" y="567.06" width="1.1" height="1.1" fill="#ff00ff"/>
<rect x="185.52" y="584.9" width="1.1" height="1.1" fill="#ff00ff"/>
<rect x="199.38" y="571.09" width="1.1" height="1.1" fill="#ff00ff"/>
<rect x="186" y="577.63" width="1.1" height="1.1" fill="#ff00ff"/>
<rect x="186.06" y="585.66" width="1.1" height="1.1" fill="#ff00ff"/>
<rect x="187.12" y="578.51" width="1.1" height="1.1" fill="#ff00ff"/>
<rect x="186" y="583.24" width="1.1" height="1.1" fill="#ff00ff"/>
<rect x="199.01" y="573.77" width="1.1" height="1.1" fill="#ff00ff"/>
<rect x="192.71" y="582.17" width="1.1" height="1.1" fill="#ff00ff"/>
<rect x="201.61" y="564.11" width="1.1" height="1.1" fill="#ff00ff"/>
<rect x="210.1" y="564.56" width="1.1" height="1.1" fill="#ff00ff"/>
<rect x="210.29" y="561.94" width="1.1" height="1.1" fill="#ff00ff"/>
<rect x="192.87" y="570.21" width="1.1" height="1.1" fill="#ff00ff"/>
<rect x="191.4" y="575.84" width="1.1" height="1.1" fill="#ff00ff"/>
<rect x="192.53" y="569.95" width="1.1" height="1.1" fill="#ff00ff"/>
<rect x="187.74" y="582.81" width="1.1" height="1.1" fill="#ff00ff"/>
<rect x="185.68" y="582.1" width="1.1" height="1.1" fill="#ff00ff"/>
<rect x="198.49" y="572.1" width="1.1" height="1.1" fill="#ff00ff"/>
<rect x="184.06" y="581.1" width="1.1" height="1.1" fill="#ff00ff"/>
<rect x="191.53" y="575.61" width="1.1" height="1.1" fill="#ff00ff"/>
<rect x="191.55" y="577.17" width="1.1" height="1.1" fill="#ff00ff"/>
<rect x="197.04" y="569.56" width="1.1" height="1.1" fill="#ff00ff"/>
<rect x="184.83" y="583.63" width="1.1" height="1.1" fill="#ff00ff"/>
<rect x="188.74" y="583.79" width="1.1" height="1.1" fill="#ff00ff"/>
<rect x="188.51" y="583.02" width="1.1" height="1.1" fill="#ff00ff"/>
<rect x="206.61" y="567.45" width="1.1" height="1.1" fill="#ff00ff"/>
<rect x="196.06" y="567.91" width="1.1" height="1.1" fill="#ff00ff"/>
<rect x="191.69" y="575.12" width="1.1" height="1.1" fill="#ff00ff"/>
<rect x="187.31" y="579.33" width="1.1" height="1.1" fill="#ff00ff"/>
<rect x="199.03" y="575.05" width="1.1" height="1.1" fill="#ff00ff"/>
<rect x="196.86" y="573.57" width="1.1" height="1.1" fill="#ff00ff"/>
<rect x="187.33" y="574.35" width="1.1" height="1.1" fill="#ff00ff"/>
<rect x="191.41" y="576.28" width="1.1" height="1.1" fill="#ff00ff"/>
<rect x="189.04" y="589.2" width="1.1" height="1.1" fill="#ff00ff"/>
<rect x="199.24" y="574.52" width="1.1" height="1.1" fill="#ff00ff"/>
<rect x="188.57" y="574.04" width="1.1" height="1.1" fill="#ff00ff"/>
<rect x="198.32" y="570.36" width="1.1" height="1.1" fill="#ff00ff"/>
<rect x="184.44" y="580.61" width="1.1" height="1.1" fill="#ff00ff"/>
<rect x="185.08" y="592.73" width="1.1" height="1.1" fill="#ff00ff"/>
<rect x="187.51" y="578.69" width="1.1" height="1.1" fill="#ff00ff"/>
<rect x="186.25" y="582.17" width="1.1" height="1.1" fill="#ff00ff"/>
<rect x="197.72" y="565.53" width="1.1" height="1.1" fill="#ff00ff"/>
<rect x="190.63" y="576.57" width="1.1" height="1.1" fill="#ff00ff"/>
<rect x="193.02" y="571.62" width="1.1" height="1.1" fill="#ff00ff"/>
<rect x="194.83" y="572.62" width="1.1" height="1.1" fill="#ff00ff"/>
<rect x="185.43" y="574.14" width="1.1" height="1.1" fill="#ff00ff"/>
<rect x="190.42" y="579.01" width="1.1" height="1.1" fill="#ff00ff"/>
<rect x="185.56" y="575.24" width="1.1" height="1.1" fill="#ff00ff"/>
<rect x="188.26" y="579.13" width="1.1" height="1.1" fill="#ff00ff"/>
<rect x="192.46" y="569.47" width="1.1" height="1.1" fill="#ff00ff"/>
<rect x="191.47" y="574.82" width="1.1" height="1.1" fill="#ff00ff"/>
<rect x="185.92" y="584.07" width="1.1" height="1.1" fill="#ff00ff"/>
<rect x="194.24" y="571.42" width="1.1" height="1.1" fill="#ff00ff"/>
<rect x="185.55" y="584.56" width="1.1" height="1.1" fill="#ff00ff"/>
<rect x="190.51" y="571.61" width="1.1" height="1.1" fill="#ff00ff"/>
<rect x="192.28" y="577.55" width="1.1" height="1.1" fill="#ff00ff"/>
<rect x="196.81" y="570.62" width="1.1" height="1.1" fill="#ff00ff"/>
<rect x="188.06" y="578.54" width="1.1" height="1.1" fill="#ff00ff"/>
<rect x="185.9" y="576.78" width="1.1" height="1.1" fill="#ff00ff"/>
<rect x="189.44" y="579.12" width="1.1" height="1.1" fill="#ff00ff"/>
<rect x="184.59" y="582.1" width="1.1" height="1.1" fill="#ff00ff"/>
<rect x="195.93" y="571.1" width="1.1" height="1.1" fill="#ff00ff"/>
<rect x="192.58" y="579.9" width="1.1" height="1.1" fill="#ff00ff"/>
<rect x="200.05" y="571.07" width="1.1" height="1.1" fill="#ff00ff"/>
<rect x="201.66" y="567.69" width="1.1" height="1.1" fill="#ff00ff"/>
<rect x="187.7" y="574" width="1.1" height="1.1" fill="#ff00ff"/>
<rect x="186.06" y="578.85" width="1.1" height="1.1" fill="#ff00ff"/>
<rect x="184.49" y="584.31" width="1.1" height="1.1" fill="#ff00ff"/>
<rect x="187.12" y="575.17" width="1.1" height="1.1" fill="#ff00ff"/>
<rect x="184.85" y="581.5" width="1.1" height="1.1" fill="#ff00ff"/>
<rect x="184.01" y="585.57" width="1.1" height="1.1" fill="#ff00ff"/>
<rect x="186.76" y="579.17" width="1.1" height="1.1" fill="#ff00ff"/>
<rect x="203.28" y="570.81" width="1.1" height="1.1" fill="#ff00ff"/>
<rect x="185.31" y="577.32" width="1.1" height="1.1" fill="#ff00ff"/>
<rect x="189.33" y="579.94" width="1.1" height="1.1" fill="#ff00ff"/>
<rect x="193.19" y="584.67" width="1.1" height="1.1" fill="#ff00ff"/>
<rect x="186.97" y="580.9" width="1.1" height="1.1" fill="#ff00ff"/>
<rect x="188.18" y="579.64" width="1.1" height="1.1" fill="#ff00ff"/>
<rect x="188.45" y="574.59" width="1.1" height="1.1" fill="#ff00ff"/>
<rect x="195.38" y="574.15" width="1.1" height="1.1" fill="#ff00ff"/>
<rect x="198.4" y="569.56" width="1.1" height="1.1" fill="#ff00ff"/>
<rect x="186.8" y="583.29" width="1.1" height="1.1" fill="#ff00ff"/>
<rect x="205.32" y="561.9" width="1.1" height="1.1" fill="#ff00ff"/>
<rect x="192.41" y="576.45" width="1.1" height="1.1" fill="#ff00ff"/>
<rect x="204.79" y="564.07" width="1.1" height="1.1" fill="#ff00ff"/>
<rect x="195.83" y="571.61" width="1.1" height="1.1" fill="#ff00ff"/>
<rect x="201.51" y="567.05" width="1.1" height="1.1" fill="#ff00ff"/>
<rect x="207.02" y="563.87" width="1.1" height="1.1" fill="#ff00ff"/>
<rect x="192.13" y="582.49" width="1.1" height="1.1" fill="#ff00ff"/>
<rect x="194.8" y="579.39" width="1.1" height="1.1" fill="#ff00ff"/>
<rect x="206.17" y="568.47" width="1.1" height="1.1" fill="#ff00ff"/>
<rect x="198.01" y="565.7" width="1.1" height="1.1" fill="#ff00ff"/>
<rect x="193.01" y="577.39" width="1.1" height="1.1" fill="#ff00ff"/>
<rect x="186.53" y="583.94" width="1.1" height="1.1" fill="#ff00ff"/>
<rect x="188.97" y="583.54" width="1.1" height="1.1" fill="#ff00ff"/>
<rect x="207.23" y="566.23" width="1.1" height="1.1" fill="#ff00ff"/>
<rect x="193.85" y="577.02" width="1.1" height="1.1" fill="#ff00ff"/>
<rect x="194.94" y="575.04" width="1.1" height="1.1" fill="#ff00ff"/>
<rect x="189.11" y="579.67" width="1.1" height="1.1" fill="#ff00ff"/>
<rect x="185.67" y="574.81" width="1.1" height="1.1" fill="#ff00ff"/>
<rect x="187.11" y="580.55" width="1.1" height="1.1" fill="#ff00ff"/>
<rect x="186.82" y="578.28" width="1.1" height="1.1" fill="#ff00ff"/>
<rect x="189.93" y="580.77" width="1.1" height="1.1" fill="#ff00ff"/>
<rect x="191.4" y="578.34" width="1.1" height="1.1" fill="#ff00ff"/>
<rect x="193.31" y="578.4" width="1.1" height="1.1" fill="#ff00ff"/>
<rect x="193.86" y="571.17" width="1.1" height="1.1" fill="#ff00ff"/>
<rect x="184.64" y="577.62" width="1.1" height="1.1" fill="#ff00ff"/>
<rect x="212.72" y="558.09" width="1.1" height="1.1" fill="#ff00ff"/>
<rect x="192.65" y="578.49" width="1.1" height="1.1" fill="#ff00ff"/>
<rect x="189.02" y="568.99" width="1.1" height="1.1" fill="#ff00ff"/>
<rect x="185.44" y="577.18" width="1.1" height="1.1" fill="#ff00ff"/>
<rect x="189.83" y="571.43" width="1.1" height="1.1" fill="#ff00ff"/>
<rect x="194.26" y="573.94" width="1.1" height="1.1" fill="#ff00ff"/>
<rect x="184.97" y="576.82" width="1.1" height="1.1" fill="#ff00ff"/>
<rect x="192.34" y="572.65" width="1.1" height="1.1" fill="#ff00ff"/>
<rect x="185.1" y="580.97" width="1.1" height="1.1" fill="#ff00ff"/>
<rect x="198.55" y="573.31" width="1.1" height="1.1" fill="#ff00ff"/>
<rect x="192.35" y="577.44" width="1.1" height="1.1" fill="#ff00ff"/>
<rect x="194.87" y="575.04" width="1.1" height="1.1" fill="#ff00ff"/>
<rect x="185.87" y="581.2" width="1.1" height="1.1" fill="#ff00ff"/>
<rect x="188.98" y="580.35" width="1.1" height="1.1" fill="#ff00ff"/>
<rect x="185.12" y="582.25" width="1.1" height="1.1" fill="#ff00ff"/>
<rect x="198.99" y="570.45" width="1.1" height="1.1" fill="#ff00ff"/>
<rect x="209.43" y="556.31" width="1.1" height="1.1" fill="#ff00ff"/>
<rect x="188.11" y="578.24" width="1.1" height="1.1" fill="#ff00ff"/>
<rect x="200.2" y="571.97" width="1.1" height="1.1" fill="#ff00ff"/>
<rect x="195.83" y="572.03" width="1.1" height="1.1" fill="#ff00ff"/>
<rect x="188.3" y="583.97" width="1.1" height="1.1" fill="#ff00ff"/>
<rect x="189.31" y="579.76" width="1.1" height="1.1" fill="#ff00ff"/>
<rect x="184.54" y="577.9" width="1.1" height="1.1" fill="#ff00ff"/>
<rect x="194.53" y="568.85" width="1.1" height="1.1" fill="#ff00ff"/>
<rect x="188.08" y="578.15" width="1.1" height="1.1" fill="#ff00ff"/>
<rect x="191.98" y="577.67" width="1.1" height="1.1" fill="#ff00ff"/>
<rect x="190.79" y="581.42" width="1.1" height="1.1" fill="#ff00ff"/>
<rect x="205.22" y="567.28" width="1.1" height="1.1" fill="#ff00ff"/>
<rect x="192.05" y="570.33" width="1.1" height="1.1" fill="#ff00ff"/>
<rect x="206.45" y="566.29" width="1.1" height="1.1" fill="#ff00ff"/>
<rect x="197.53" y="575.75" width="1.1" height="1.1" fill="#ff00ff"/>
<rect x="203.11" y="566.19" width="1.1" height="1.1" fill="#ff00ff"/>
<rect x="186.86" y="578.75" width="1.1" height="1.1" fill="#ff00ff"/>
<rect x="197.11" y="580.85" width="1.1" height="1.1" fill="#ff00ff"/>
<rect x="188.67" y="580.52" width="1.1" height="1.1" fill="#ff00ff"/>
<rect x="184.06" y="575.25" width="1.1" height="1.1" fill="#ff00ff"/>
<rect x="190.37" y="578.43" width="1.1" height="1.1" fill="#ff00ff"/>
<rect x="194.28" y="573.21" width="1.1" height="1.1" fill="#ff00ff"/>
<rect x="187.86" y="578.11" width="1.1" height="1.1" fill="#ff00ff"/>
<rect x="190.4" y="567.47" width="1.1" height="1.1" fill="#ff00ff"/>
<rect x="190.55" y="574.92" width="1.1" height="1.1" fill="#ff00ff"/>
<rect x="190.69" y="565.8" width="1.1" height="1.1" fill="#ff00ff"/>
<rect x="196.2" y="575.27" width="1.1" height="1.1" fill="#ff00ff"/>
<rect x="210.09" y="560.2" width="1.1" height="1.1" fill="#ff00ff"/>
<rect x="191.59" y="578.62" width="1.1" height="1.1" fill="#ff00ff"/>
<rect x="187.04" y="577.68" width="1.1" height="1.1" fill="#ff00ff"/>
<rect x="185.95" y="579.39" width="1.1" height="1.1" fill="#ff00ff"/>
<rect x="190.85" y="580.46" width="1.1" height="1.1" fill="#ff00ff"/>
<rect x="203.89" y="569.89" width="1.1" height="1.1" fill="#ff00ff"/>
<rect x="191.43" y="577.43" width="1.1" height="1.1" fill="#ff00ff"/>
<rect x="194.53" y="570.64" width="1.1" height="1.1" fill="#ff00ff"/>
<rect x="208.48" y="564.22" width="1.1" height="1.1" fill="#ff00ff"/>
<rect x="199.99" y="567.4" width="1.1" height="1.1" fill="#ff00ff"/>
<rect x="195.65" y="574.99" width="1.1" height="1.1" fill="#ff00ff"/>
<rect x="186.06" y="578.08" width="1.1" height="1.1" fill="#ff00ff"/>
<rect x="193.99" y="581.7" width="1.1" height="1.1" fill="#ff00ff"/>
<rect x="197.85" y="572.19" width="1.1" height="1.1" fill="#ff00ff"/>
<rect x="186.13" y="577.78" width="1.1" height="1.1" fill="#ff00ff"/>
<rect x="204.92" y="560.71" width="1.1" height="1.1" fill="#ff00ff"/>
<rect x="190.87" y="576.64" width="1.1" height="1.1" fill="#ff00ff"/>
<rect x="197.32" y="575.06" width="1.1" height="1.1" fill="#ff00ff"/>
<rect x="189.81" y="578.77" width="1.1" height="1.1" fill="#ff00ff"/>
<rect x="204.06" y="566.23" width="1.1" height="1.1" fill="#ff00ff"/>
<rect x="184.25" y="576.7" width="1.1" height="1.1" fill="#ff00ff"/>
<rect x="208.97" y="568.48" width="1.1" height="1.1" fill="#ff00ff"/>
<rect x="191.02" y="575.59" width="1.1" height="1.1" fill="#ff00ff"/>
<rect x="202.23" y="571.96" width="1.1" height="1.1" fill="#ff00ff"/>
<rect x="189.04" y="579.66" width="1.1" height="1.1" fill="#ff00ff"/>
<rect x="192.84" y="581.47" width="1.1" height="1.1" fill="#ff00ff"/>
<rect x="184.7" y="581.07" width="1.1" height="1.1" fill="#ff00ff"/>
<rect x="190.58" y="565.93" width="1.1" height="1.1" fill="#ff00ff"/>
<rect x="184.9" y="580.11" width="1.1" height="1.1" fill="#ff00ff"/>
<rect x="184.11" y="581.73" width="1.1" height="1.1" fill="#ff00ff"/>
<rect x="187.77" y="580.15" width="1.1" height="1.1" fill="#ff00ff"/>
<rect x="184.67" y="581.53" width="1.1" height="1.1" fill="#ff00ff"/>
<rect x="189.12" y="576.5" width="1.1" height="1.1" fill="#ff00ff"/>
<rect x="195.19" y="567.54" width="1.1" height="1.1" fill="#ff00ff"/>
<rect x="186.24" y="582.91" width="1.1" height="1.1" fill="#ff00ff"/>
<rect x="198.52" y="569.75" width="1.1" height="1.1" fill="#ff00ff"/>
<rect x="199.12" y="570.33" width="1.1" height="1.1" fill="#ff00ff"/>
<rect x="194.05" y="563.3" width="1.1" height="1.1" fill="#ff00ff"/>
<rect x="187.81" y="580.11" width="1.1" height="1.1" fill="#ff00ff"/>
<rect x="190.91" y="585.6" width="1.1" height="1.1" fill="#ff00ff"/>
<rect x="183.95" y="583.32" width="1.1" height="1.1" fill="#ff00ff"/>
<rect x="191.79" y="576.29" width="1.1" height="1.1" fill="#ff00ff"/>
<rect x="184.23" y="585.94" width="1.1" height="1.1" fill="#ff00ff"/>
<rect x="190.27" y="574.58" width="1.1" height="1.1" fill="#ff00ff"/>
<rect x="189.37" y="584.23" width="1.1" height="1.1" fill="#ff00ff"/>
<rect x="194.94" y="576.9" width="1.1" height="1.1" fill="#ff00ff"/>
<rect x="202.58" y="570.19" width="1.1" height="1.1" fill="#ff00ff"/>
<rect x="186.81" y="586.45" width="1.1" height="1.1" fill="#ff00ff"/>
<rect x="187.97" y="579.51" width="1.1" height="1.1" fill="#ff00ff"/>
<rect x="186.24" y="586" width="1.1" height="1.1" fill="#ff00ff"/>
<rect x="191.89" y="582.65" width="1.1" height="1.1" fill="#ff00ff"/>
<rect x="187.76" y="578.36" width="1.1" height="1.1" fill="#ff00ff"/>
<rect x="188.91" y="579.99" width="1.1" height="1.1" fill="#ff00ff"/>
<rect x="191.86" y="580.2" width="1.1" height="1.1" fill="#ff00ff"/>
<rect x="187.8" y="575.45" width="1.1" height="1.1" fill="#ff00ff"/>
<rect x="204.9" y="570.69" width="1.1" height="1.1" fill="#ff00ff"/>
<rect x="184.61" y="582.85" width="1.1" height="1.1" fill="#ff00ff"/>
<rect x="188.8" y="580.56" width="1.1" height="1.1" fill="#ff00ff"/>
<rect x="206.01" y="559.32" width="1.1" height="1.1" fill="#ff00ff"/>
<rect x="202.74" y="568.15" width="1.1" height="1.1" fill="#ff00ff"/>
<rect x="191.97" y="578.29" width="1.1" height="1.1" fill="#ff00ff"/>
<rect x="185.38" y="575.8" width="1.1" height="1.1" fill="#ff00ff"/>
<rect x="193.02" y="574.46" width="1.1" height="1.1" fill="#ff00ff"/>
<rect x="184.17" y="582.17" width="1.1" height="1.1" fill="#ff00ff"/>
<rect x="189.33" y="575.42" width="1.1" height="1.1" fill="#ff00ff"/>
<rect x="190.74" y="572.06" width="1.1" height="1.1" fill="#ff00ff"/>
<rect x="186.71" y="579.75" width="1.1" height="1.1" fill="#ff00ff"/>
<rect x="195.55" y="566.81" width="1.1" height="1.1" fill="#ff00ff"/>
<rect x="197.33" y="571.92" width="1.1" height="1.1" fill="#ff00ff"/>
<rect x="185.82" y="577.62" width="1.1" height="1.1" fill="#ff00ff"/>
<rect x="193.35" y="569.48" width="1.1" height="1.1" fill="#ff00ff"/>
<rect x="194.18" y="573.83" width="1.1" height="1.1" fill="#ff00ff"/>
<rect x="192.1" y="579.59" width="1.1" height="1.1" fill="#ff00ff"/>
<rect x="189.7" y="577.18" width="1.1" height="1.1" fill="#ff00ff"/>
<rect x="187.92" y="583.99" width="1.1" height="1.1" fill="#ff00ff"/>
<rect x="185.37" y="582.33" width="1.1" height="1.1" fill="#ff00ff"/>
<rect x="192.15" y="575.95" width="1.1" height="1.1" fill="#ff00ff"/>
<rect x="207.37" y="561.57" width="1.1" height="1.1" fill="#ff00ff"/>
<rect x="198.29" y="576.38" width="1.1" height="1.1" fill="#ff00ff"/>
<rect x="197.06" y="575.53" width="1.1" height="1.1" fill="#ff00ff"/>
<rect x="187.11" y="584.02" width="1.1" height="1.1" fill="#ff00ff"/>
<rect x="197.73" y="572.75" width="1.1" height="1.1" fill="#ff00ff"/>
<rect x="195.18" y="572.64" width="1.1" height="1.1" fill="#ff00ff"/>
<rect x="200.23" y="569.46" width="1.1" height="1.1" fill="#ff00ff"/>
<rect x="209.8" y="558.5" width="1.1" height="1.1" fill="#ff00ff"/>
<rect x="197.01" y="576.13" width="1.1" height="1.1" fill="#ff00ff"/>
<rect x="191.93" y="570.2" width="1.1" height="1.1" fill="#ff00ff"/>
<rect x="196.74" y="573.57" width="1.1" height="1.1" fill="#ff00ff"/>
<rect x="187.84" y="576.21" width="1.1" height="1.1" fill="#ff00ff"/>
<rect x="200.32" y="569.43" width="1.1" height="1.1" fill="#ff00ff"/>
<rect x="206.6" y="561.51" width="1.1" height="1.1" fill="#ff00ff"/>
<rect x="193.59" y="574.51" width="1.1" height="1.1" fill="#ff00ff"/>
<rect x="192.69" y="572.97" width="1.1" height="1.1" fill="#ff00ff"/>
<rect x="190.81" y="586.33" width="1.1" height="1.1" fill="#ff00ff"/>
<rect x="184.85" y="579.6" width="1.1" height="1.1" fill="#ff00ff"/>
<rect x="184.28" y="576.71" width="1.1" height="1.1" fill="#ff00ff"/>
<rect x="190.05" y="581.92" width="1.1" height="1.1" fill="#ff00ff"/>
<rect x="190.6" y="581.59" width="1.1" height="1.1" fill="#ff00ff"/>
<rect x="187.24" y="581.37" width="1.1" height="1.1" fill="#ff00ff"/>
<rect x="192.43" y="572.87" width="1.1" height="1.1" fill="#ff00ff"/>
<rect x="201.14" y="569.93" width="1.1" height="1.1" fill="#ff00ff"/>
<rect x="187.17" y="579.07" width="1.1" height="1.1" fill="#ff00ff"/>
<rect x="196.88" y="568.3" width="1.1" height="1.1" fill="#ff00ff"/>
<rect x="191.17" y="578.94" width="1.1" height="1.1" fill="#ff00ff"/>
<rect x="187.36" y="577.06" width="1.1" height="1.1" fill="#ff00ff"/>
<rect x="187.28" y="587.74" width="1.1" height="1.1" fill="#ff00ff"/>
<rect x="185.12" y="590.92" width="1.1" height="1.1" fill="#ff00ff"/>
<rect x="188.88" y="584.46" width="1.1" height="1.1" fill="#ff00ff"/>
<rect x="189.98" y="582.84" width="1.1" height="1.1" fill="#ff00ff"/>
<rect x="197.52" y="572.91" width="1.1" height="1.1" fill="#ff00ff"/>
<rect x="187.75" y="571.09" width="1.1" height="1.1" fill="#ff00ff"/>
<rect x="199.6" y="574.29" width="1.1" height="1.1" fill="#ff00ff"/>
<rect x="189.53" y="583.74" width="1.1" height="1.1" fill="#ff00ff"/>
<rect x="186.14" y="568.09" width="1.1" height="1.1" fill="#ff00ff"/>
<rect x="186.76" y="577.99" width="1.1" height="1.1" fill="#ff00ff"/>
<rect x="189.71" y="576.29" width="1.1" height="1.1" fill="#ff00ff"/>
<rect x="192.74" y="572" width="1.1" height="1.1" fill="#ff00ff"/>
<rect x="198.15" y="573.12" width="1.1" height="1.1" fill="#ff00ff"/>
<rect x="191.45" y="575.09" width="1.1" height="1.1" fill="#ff00ff"/>
<rect x="195.06" y="575.4" width="1.1" height="1.1" fill="#ff00ff"/>
<rect x="186.09" y="575.55" width="1.1" height="1.1" fill="#ff00ff"/>
<rect x="188.95" y="573.95" width="1.1" height="1.1" fill="#ff00ff"/>
<rect x="206.01" y="568.06" width="1.1" height="1.1" fill="#ff00ff"/>
<rect x="187.75" y="577.91" width="1.1" height="1.1" fill="#ff00ff"/>
<rect x="195.02" y="576.83" width="1.1" height="1.1" fill="#ff00ff"/>
<rect x="207.88" y="565.58" width="1.1" height="1.1" fill="#ff00ff"/>
<rect x="194.5" y="569.64" width="1.1" height="1.1" fill="#ff00ff"/>
<rect x="185.83" y="582.16" width="1.1" height="1.1" fill="#ff00ff"/>
<rect x="200.94" y="569.36" width="1.1" height="1.1" fill="#ff00ff"/>
<rect x="194.85" y="573.86" width="1.1" height="1.1" fill="#ff00ff"/>
<rect x="189" y="584.81" width="1.1" height="1.1" fill="#ff00ff"/>
<rect x="191.44" y="578.16" width="1.1" height="1.1" fill="#ff00ff"/>
<rect x="185.86" y="584.93" width="1.1" height="1.1" fill="#ff00ff"/>
<rect x="189.66" y="574.35" width="1.1" height="1.1" fill="#ff00ff"/>
<rect x="205.65" y="569.24" width="1.1" height="1.1" fill="#ff00ff"/>
<rect x="189.59" y="580.91" width="1.1" height="1.1" fill="#ff00ff"/>
<rect x="184.25" y="590.03" width="1.1" height="1.1" fill="#ff00ff"/>
<rect x="195.33" y="578.23" width="1.1" height="1.1" fill="#ff00ff"/>
<rect x="193.76" y="573.2" width="1.1" height="1.1" fill="#ff00ff"/>
<rect x="198.06" y="571.89" width="1.1" height="1.1" fill="#ff00ff"/>
<rect x="187.42" y="581.78" width="1.1" height="1.1" fill="#ff00ff"/>
<rect x="190.83" y="571.53" width="1.1" height="1.1" fill="#ff00ff"/>
<rect x="190.21" y="583.03" width="1.1" height="1.1" fill="#ff00ff"/>
<rect x="192.14" y="575.97" width="1.1" height="1.1" fill="#ff00ff"/>
<rect x="188.32" y="571.92" width="1.1" height="1.1" fill="#ff00ff"/>
<rect x="187.99" y="584.43" width="1.1" height="1.1" fill="#ff00ff"/>
<rect x="188.94" y="575.08" width="1.1" height="1.1" fill="#ff00ff"/>
<rect x="193.49" y="574.61" width="1.1" height="1.1" fill="#ff00ff"/>
<rect x="192.04" y="570.63" width="1.1" height="1.1" fill="#ff00ff"/>
<rect x="190.23" y="579.02" width="1.1" height="1.1" fill="#ff00ff"/>
<rect x="187.11" y="582.53" width="1.1" height="1.1" fill="#ff00ff"/>
<rect x="184.29" y="581.42" width="1.1" height="1.1" fill="#ff00ff"/>
<rect x="189.05" y="582.24" width="1.1" height="1.1" fill="#ff00ff"/>
<rect x="201.58" y="567.72" width="1.1" height="1.1" fill="#ff00ff"/>
<rect x="186.5" y="581.29" width="1.1" height="1.1" fill="#ff00ff"/>
<rect x="195.27" y="568.74" width="1.1" height="1.1" fill="#ff00ff"/>
<rect x="189.76" y="570.84" width="1.1" height="1.1" fill="#ff00ff"/>
<rect x="192.81" y="573.6" width="1.1" height="1.1" fill="#ff00ff"/>
<rect x="187.26" y="577.35" width="1.1" height="1.1" fill="#ff00ff"/>
<rect x="190.05" y="576.41" width="1.1" height="1.1" fill="#ff00ff"/>
<rect x="187.26" y="572" width="1.1" height="1.1" fill="#ff00ff"/>
<rect x="200.22" y="568.37" width="1.1" height="1.1" fill="#ff00ff"/>
<rect x="189.7" y="582.27" width="1.1" height="1.1" fill="#ff00ff"/>
<rect x="184.89" y="578.31" width="1.1" height="1.1" fill="#ff00ff"/>
<rect x="185.7" y="584.27" width="1.1" height="1.1" fill="#ff00ff"/>
<rect x="185.25" y="576.83" width="1.1" height="1.1" fill="#ff00ff"/>
<rect x="185.3" y="581.37" width="1.1" height="1.1" fill="#ff00ff"/>
<rect x="200.27" y="565.75" width="1.1" height="1.1" fill="#ff00ff"/>
<rect x="197.4" y="564.09" width="1.1" height="1.1" fill="#ff00ff"/>
<rect x="185.6" y="580.16" width="1.1" height="1.1" fill="#ff00ff"/>
<rect x="199.54" y="572.47" width="1.1" height="1.1" fill="#ff00ff"/>
<rect x="194.02" y="579.54" width="1.1" height="1.1" fill="#ff00ff"/>
<rect x="190.55" y="585.57" width="1.1" height="1.1" fill="#ff00ff"/>
<rect x="202.62" y="567.72" width="1.1" height="1.1" fill="#ff00ff"/>
<rect x="192.53" y="576.62" width="1.1" height="1.1" fill="#ff00ff"/>
<rect x="194.43" y="578.44" width="1.1" height="1.1" fill="#ff00ff"/>
<rect x="188.57" y="582.6" width="1.1" height="1.1" fill="#ff00ff"/>
<rect x="195.95" y="578.43" width="1.1" height="1.1" fill="#ff00ff"/>
<rect x="195.59" y="573.19" width="1.1" height="1.1" fill="#ff00ff"/>
<rect x="184.77" y="583.87" width="1.1" height="1.1" fill="#ff00ff"/>
<rect x="185.39" y="580.48" width="1.1" height="1.1" fill="#ff00ff"/>
<rect x="205.05" y="567.6" width="1.1" height="1.1" fill="#ff00ff"/>
<rect x="205.45" y="563.46" width="1.1" height="1.1" fill="#ff00ff"/>
<rect x="184.44" y="580.32" width="1.1" height="1.1" fill="#ff00ff"/>
<rect x="188.41" y="577.95" width="1.1" height="1.1" fill="#ff00ff"/>
<rect x="185.36" y="579.64" width="1.1" height="1.1" fill="#ff00ff"/>
<rect x="204.4" y="568.72" width="1.1" height="1.1" fill="#ff00ff"/>
<rect x="192.43" y="573.89" width="1.1" height="1.1" fill="#ff00ff"/>
<rect x="192.35" y="578.24" width="1.1" height="1.1" fill="#ff00ff"/>
<rect x="190.88" y="580.99" width="1.1" height="1.1" fill="#ff00ff"/>
<rect x="200.24" y="568.31" width="1.1" height="1.1" fill="#ff00ff"/>
<rect x="203.54" y="559.1" width="1.1" height="1.1" fill="#ff00ff"/>
<rect x="186.24" y="585.23" width="1.1" height="1.1" fill="#ff00ff"/>
<rect x="185.57" y="577.96" width="1.1" height="1.1" fill="#ff00ff"/>
<rect x="194.05" y="566.84" width="1.1" height="1.1" fill="#ff00ff"/>
<rect x="199.02" y="571.09" width="1.1" height="1.1" fill="#ff00ff"/>
<rect x="190.4" y="577.58" width="1.1" height="1.1" fill="#ff00ff"/>
<rect x="185.62" y="582.65" width="1.1" height="1.1" fill="#ff00ff"/>
<rect x="202.82" y="566.89" width="1.1" height="1.1" fill="#ff00ff"/>
<rect x="187.77" y="578.36" width="1.1" height="1.1" fill="#ff00ff"/>
<rect x="194.03" y="566.43" width="1.1" height="1.1" fill="#ff00ff"/>
<rect x="191.07" y="580.39" width="1.1" height="1.1" fill="#ff00ff"/>
<rect x="210.87" y="563.52" width="1.1" height="1.1" fill="#ff00ff"/>
<rect x="202.58" y="569.97" width="1.1" height="1.1" fill="#ff00ff"/>
<rect x="188.24" y="581.43" width="1.1" height="1.1" fill="#ff00ff"/>
<rect x="197.2" y="573.16" width="1.1" height="1.1" fill="#ff00ff"/>
<rect x="185.16" y="577.04" width="1.1" height="1.1" fill="#ff00ff"/>
<rect x="197.8" y="575.77" width="1.1" height="1.1" fill="#ff00ff"/>
<rect x="189.15" y="582.02" width="1.1" height="1.1" fill="#ff00ff"/>
<rect x="202.65" y="567.59" width="1.1" height="1.1" fill="#ff00ff"/>
<rect x="199.29" y="567.4" width="1.1" height="1.1" fill="#ff00ff"/>
<rect x="191.86" y="577.41" width="1.1" height="1.1" fill="#ff00ff"/>
<rect x="200.81" y="573.86" width="1.1" height="1.1" fill="#ff00ff"/>
<rect x="186.38" y="587.88" width="1.1" height="1.1" fill="#ff00ff"/>
<rect x="196.81" y="571.05" width="1.1" height="1.1" fill="#ff00ff"/>
<rect x="185.05" y="578.58" width="1.1" height="1.1" fill="#ff00ff"/>
<rect x="193.4" y="574.16" width="1.1" height="1.1" fill="#ff00ff"/>
<rect x="189.7" y="583.89" width="1.1" height="1.1" fill="#ff00ff"/>
<rect x="193.95" y="577.57" width="1.1" height="1.1" fill="#ff00ff"/>
<rect x="184.48" y="581.35" width="1.1" height="1.1" fill="#ff00ff"/>
<rect x="196.93" y="571.29" width="1.1" height="1.1" fill="#ff00ff"/>
<rect x="199.81" y="569.18" width="1.1" height="1.1" fill="#ff00ff"/>
<rect x="194.19" y="577.66" width="1.1" height="1.1" fill="#ff00ff"/>
<rect x="200.28" y="565.98" width="1.1" height="1.1" fill="#ff00ff"/>
<rect x="185.75" y="581.41" width="1.1" height="1.1" fill="#ff00ff"/>
<rect x="186.67" y="572.05" width="1.1" height="1.1" fill="#ff00ff"/>
<rect x="198.85" y="572.87" width="1.1" height="1.1" fill="#ff00ff"/>
<rect x="190.38" y="573.64" width="1.1" height="1.1" fill="#ff00ff"/>
<rect x="187.28" y="581.11" width="1.1" height="1.1" fill="#ff00ff"/>
<rect x="195.86" y="570.76" width="1.1" height="1.1" fill="#ff00ff"/>
<rect x="200.92" y="568.48" width="1.1" height="1.1" fill="#ff00ff"/>
<rect x="200.77" y="572.68" width="1.1" height="1.1" fill="#ff00ff"/>
<rect x="195.08" y="572.93" width="1.1" height="1.1" fill="#ff00ff"/>
<rect x="187.56" y="584.4" width="1.1" height="1.1" fill="#ff00ff"/>
<rect x="199.34" y="569.02" width="1.1" height="1.1" fill="#ff00ff"/>
<rect x="191.42" y="578.9" width="1.1" height="1.1" fill="#ff00ff"/>
<rect x="195.53" y="570.4" width="1.1" height="1.1" fill="#ff00ff"/>
<rect x="189.21" y="574.43" width="1.1" height="1.1" fill="#ff00ff"/>
<rect x="186.95" y="584.49" width="1.1" height="1.1" fill="#ff00ff"/>
<rect x="184.47" y="570.27" width="1.1" height="1.1" fill="#ff00ff"/>
<rect x="197.72" y="576.1" width="1.1" height="1.1" fill="#ff00ff"/>
<rect x="200.51" y="572.69" width="1.1" height="1.1" fill="#ff00ff"/>
<rect x="202.78" y="572.57" width="1.1" height="1.1" fill="#ff00ff"/>
<rect x="188.24" y="583.49" width="1.1" height="1.1" fill="#ff00ff"/>
<rect x="185.32" y="580.69" width="1.1" height="1.1" fill="#ff00ff"/>
<rect x="186.21" y="588.13" width="1.1" height="1.1" fill="#ff00ff"/>
<rect x="187.44" y="579.24" width="1.1" height="1.1" fill="#ff00ff"/>
<rect x="198.17" y="573.31" width="1.1" height="1.1" fill="#ff00ff"/>
<rect x="184.43" y="583.19" width="1.1" height="1.1" fill="#ff00ff"/>
<rect x="195.61" y="576.36" width="1.1" height="1.1" fill="#ff00ff"/>
<rect x="184.35" y="583.54" width="1.1" height="1.1" fill="#ff00ff"/>
<rect x="185.34" y="584.99" width="1.1" height="1.1" fill="#ff00ff"/>
<rect x="192.22" y="576.9" width="1.1" height="1.1" fill="#ff00ff"/>
<rect x="193.3" y="578.78" width="1.1" height="1.1" fill="#ff00ff"/>
<rect x="194.63" y="570.4" width="1.1" height="1.1" fill="#ff00ff"/>
<rect x="188.74" y="577.45" width="1.1" height="1.1" fill="#ff00ff"/>
<rect x="208.57" y="563.33" width="1.1" height="1.1" fill="#ff00ff"/>
<rect x="195.15" y="571.28" width="1.1" height="1.1" fill="#ff00ff"/>
<rect x="191.64" y="580.87" width="1.1" height="1.1" fill="#ff00ff"/>
<rect x="196.2" y="569.72" width="1.1" height="1.1" fill="#ff00ff"/>
<rect x="187.25" y="582.93" width="1.1" height="1.1" fill="#ff00ff"/>
<rect x="191.39" y="574.83" width="1.1" height="1.1" fill="#ff00ff"/>
<rect x="187.16" y="580.68" width="1.1" height="1.1" fill="#ff00ff"/>
<rect x="188.08" y="575.86" width="1.1" height="1.1" fill="#ff00ff"/>
<rect x="196.16" y="575.81" width="1.1" height="1.1" fill="#ff00ff"/>
<rect x="186.15" y="593.74" width="1.1" height="1.1" fill="#ff00ff"/>
<rect x="191.31" y="573.98" width="1.1" height="1.1" fill="#ff00ff"/>
<rect x="184.18" y="584.19" width="1.1" height="1.1" fill="#ff00ff"/>
<rect x="188.72" y="580.94" width="1.1" height="1.1" fill="#ff00ff"/>
<rect x="189.35" y="577.98" width="1.1" height="1.1" fill="#ff00ff"/>
<rect x="191.61" y="585.56" width="1.1" height="1.1" fill="#ff00ff"/>
<rect x="188.7" y="577.45" width="1.1" height="1.1" fill="#ff00ff"/>
<rect x="192.28" y="581.19" width="1.1" height="1.1" fill="#ff00ff"/>
<rect x="193.52" y="579.98" width="1.1" height="1.1" fill="#ff00ff"/>
<rect x="184.21" y="581.54" width="1.1" height="1.1" fill="#ff00ff"/>
<rect x="191.65" y="579.45" width="1.1" height="1.1" fill="#ff00ff"/>
<rect x="203.31" y="572.52" width="1.1" height="1.1" fill="#ff00ff"/>
<rect x="204.57" y="568.99" width="1.1" height="1.1" fill="#ff00ff"/>
<rect x="191.33" y="568.48" width="1.1" height="1.1" fill="#ff00ff"/>
<rect x="188.62" y="578.4" width="1.1" height="1.1" fill="#ff00ff"/>
<rect x="187.68" y="574.32" width="1.1" height="1.1" fill="#ff00ff"/>
<rect x="195.34" y="573.02" width="1.1" height="1.1" fill="#ff00ff"/>
<rect x="200.86" y="569.11" width="1.1" height="1.1" fill="#ff00ff"/>
<rect x="185.35" y="580.97" width="1.1" height="1.1" fill="#ff00ff"/>
<rect x="187.47" y="579.7" width="1.1" height="1.1" fill="#ff00ff"/>
<rect x="197.09" y="568.69" width="1.1" height="1.1" fill="#ff00ff"/>
<rect x="185.55" y="585.8" width="1.1" height="1.1" fill="#ff00ff"/>
<rect x="185.72" y="579.11" width="1.1" height="1.1" fill="#ff00ff"/>
<rect x="185.89" y="573.17" width="1.1" height="1.1" fill="#ff00ff"/>
<rect x="195.23" y="572.45" width="1.1" height="1.1" fill="#ff00ff"/>
<rect x="184.57" y="580.76" width="1.1" height="1.1" fill="#ff00ff"/>
<rect x="186.96" y="575.17" width="1.1" height="1.1" fill="#ff00ff"/>
<rect x="190.44" y="578.63" width="1.1" height="1.1" fill="#ff00ff"/>
<rect x="204.99" y="562.48" width="1.1" height="1.1" fill="#ff00ff"/>
<rect x="187.88" y="585.98" width="1.1" height="1.1" fill="#ff00ff"/>
<rect x="191.65" y="582.93" width="1.1" height="1.1" fill="#ff00ff"/>
<rect x="199.28" y="569.11" width="1.1" height="1.1" fill="#ff00ff"/>
<rect x="184.7" y="576.79" width="1.1" height="1.1" fill="#ff00ff"/>
<rect x="197.37" y="574.78" width="1.1" height="1.1" fill="#ff00ff"/>
<rect x="190.68" y="580.12" width="1.1" height="1.1" fill="#ff00ff"/>
<rect x="189.18" y="579.47" width="1.1" height="1.1" fill="#ff00ff"/>
<rect x="187.07" y="585.53" width="1.1" height="1.1" fill="#ff00ff"/>
<rect x="192.92" y="571.56" width="1.1" height="1.1" fill="#ff00ff"/>
<rect x="183.95" y="588.03" width="1.1" height="1.1" fill="#ff00ff"/>
<rect x="186.67" y="579.68" width="1.1" height="1.1" fill="#ff00ff"/>
<rect x="193.48" y="575.66" width="1.1" height="1.1" fill="#ff00ff"/>
<rect x="205.65" y="562.61" width="1.1" height="1.1" fill="#ff00ff"/>
<rect x="207.84" y="563.31" width="1.1" height="1.1" fill="#ff00ff"/>
<rect x="188.99" y="580.61" width="1.1" height="1.1" fill="#ff00ff"/>
<rect x="208.14" y="561.99" width="1.1" height="1.1" fill="#ff00ff"/>
<rect x="184.03" y="580.91" width="1.1" height="1.1" fill="#ff00ff"/>
<rect x="192.57" y="573.11" width="1.1" height="1.1" fill="#ff00ff"/>
<rect x="187.1" y="576.6" width="1.1" height="1.1" fill="#ff00ff"/>
<rect x="198.63" y="573.25" width="1.1" height="1.1" fill="#ff00ff"/>
<rect x="184.59" y="578.17" width="1.1" height="1.1" fill="#ff00ff"/>
<rect x="192.51" y="574.81" width="1.1" height="1.1" fill="#ff00ff"/>
<rect x="193.35" y="580.87" width="1.1" height="1.1" fill="#ff00ff"/>
<rect x="198.8" y="575.11" width="1.1" height="1.1" fill="#ff00ff"/>
<rect x="184.6" y="583.86" width="1.1" height="1.1" fill="#ff00ff"/>
<rect x="195.11" y="570.35" width="1.1" height="1.1" fill="#ff00ff"/>
<rect x="193.82" y="569.95" width="1.1" height="1.1" fill="#ff00ff"/>
<rect x="189.16" y="575.08" width="1.1" height="1.1" fill="#ff00ff"/>
<rect x="203.3" y="572.74" width="1.1" height="1.1" fill="#ff00ff"/>
<rect x="192.68" y="577.91" width="1.1" height="1.1" fill="#ff00ff"/>
<rect x="189.87" y="585.3" width="1.1" height="1.1" fill="#ff00ff"/>
<rect x="200.02" y="573.17" width="1.1" height="1.1" fill="#ff00ff"/>
<rect x="185.04" y="580.34" width="1.1" height="1.1" fill="#ff00ff"/>
<rect x="184.71" y="588.19" width="1.1" height="1.1" fill="#ff00ff"/>
<rect x="194.53" y="574.9" width="1.1" height="1.1" fill="#ff00ff"/>
<rect x="202.8" y="570.8" width="1.1" height="1.1" fill="#ff00ff"/>
<rect x="204.06" y="568.28" width="1.1" height="1.1" fill="#ff00ff"/>
<rect x="189.08" y="584.58" width="1.1" height="1.1" fill="#ff00ff"/>
<rect x="191.67" y="578.13" width="1.1" height="1.1" fill="#ff00ff"/>
<rect x="189.38" y="572.39" width="1.1" height="1.1" fill="#ff00ff"/>
<rect x="201.29" y="567.82" width="1.1" height="1.1" fill="#ff00ff"/>
<rect x="192" y="579.97" width="1.1" height="1.1" fill="#ff00ff"/>
<rect x="193.59" y="570.08" width="1.1" height="1.1" fill="#ff00ff"/>
<rect x="189.94" y="577.91" width="1.1" height="1.1" fill="#ff00ff"/>
<rect x="187.49" y="582.31" width="1.1" height="1.1" fill="#ff00ff"/>
<rect x="195.46" y="573.4" width="1.1" height="1.1" fill="#ff00ff"/>
<rect x="188.58" y="578.79" width="1.1" height="1.1" fill="#ff00ff"/>
<rect x="190.66" y="579.26" width="1.1" height="1.1" fill="#ff00ff"/>
<rect x="188.47" y="587.18" width="1.1" height="1.1" fill="#ff00ff"/>
<rect x="191.27" y="574.35" width="1.1" height="1.1" fill="#ff00ff"/>
<rect x="191.25" y="576.16" width="1.1" height="1.1" fill="#ff00ff"/>
<rect x="202.42" y="562.87" width="1.1" height="1.1" fill="#ff00ff"/>
<rect x="190.87" y="574.81" width="1.1" height="1.1" fill="#ff00ff"/>
<rect x="185.84" y="580.87" width="1.1" height="1.1" fill="#ff00ff"/>
<rect x="201.4" y="563.06" width="1.1" height="1.1" fill="#ff00ff"/>
<rect x="186.55" y="587.27" width="1.1" height="1.1" fill="#ff00ff"/>
<rect x="201" y="568.16" width="1.1" height="1.1" fill="#ff00ff"/>
<rect x="189.71" y="574.82" width="1.1" height="1.1" fill="#ff00ff"/>
<rect x="199.73" y="574.63" width="1.1" height="1.1" fill="#ff00ff"/>
<rect x="192.18" y="575.13" width="1.1" height="1.1" fill="#ff00ff"/>
<rect x="187.53" y="584.04" width="1.1" height="1.1" fill="#ff00ff"/>
<rect x="188.16" y="578.2" width="1.1" height="1.1" fill="#ff00ff"/>
<rect x="187.72" y="579.93" width="1.1" height="1.1" fill="#ff00ff"/>
<rect x="187.9" y="576.79" width="1.1" height="1.1" fill="#ff00ff"/>
<rect x="195.03" y="572.45" width="1.1" height="1.1" fill="#ff00ff"/>
<rect x="196.64" y="579.45" width="1.1" height="1.1" fill="#ff00ff"/>
<rect x="198.69" y="573.13" width="1.1" height="1.1" fill="#ff00ff"/>
<rect x="183.99" y="583.82" width="1.1" height="1.1" fill="#ff00ff"/>
<rect x="199.69" y="570.47" width="1.1" height="1.1" fill="#ff00ff"/>
<rect x="187.64" y="579.19" width="1.1" height="1.1" fill="#ff00ff"/>
<rect x="189.45" y="575.44" width="1.1" height="1.1" fill="#ff00ff"/>
<rect x="186.55" y="574.07" width="1.1" height="1.1" fill="#ff00ff"/>
<rect x="184.17" y="579.98" width="1.1" height="1.1" fill="#ff00ff"/>
<rect x="198.39" y="570.15" width="1.1" height="1.1" fill="#ff00ff"/>
<rect x="184.64" y="579.69" width="1.1" height="1.1" fill="#ff00ff"/>
<rect x="194.87" y="571.69" width="1.1" height="1.1" fill="#ff00ff"/>
<rect x="194.95" y="576.92" width="1.1" height="1.1" fill="#ff00ff"/>
<rect x="190.28" y="583.7" width="1.1" height="1.1" fill="#ff00ff"/>
<rect x="198.84" y="572.96" width="1.1" height="1.1" fill="#ff00ff"/>
<rect x="185.06" y="585.38" width="1.1" height="1.1" fill="#ff00ff"/>
<rect x="201.19" y="565.39" width="1.1" height="1.1" fill="#ff00ff"/>
<rect x="192.92" y="575.85" width="1.1" height="1.1" fill="#ff00ff"/>
<rect x="185.16" y="581.94" width="1.1" height="1.1" fill="#ff00ff"/>
<rect x="186.56" y="577.7" width="1.1" height="1.1" fill="#ff00ff"/>
<rect x="199.11" y="569.41" width="1.1" height="1.1" fill="#ff00ff"/>
<rect x="190.07" y="582.09" width="1.1" height="1.1" fill="#ff00ff"/>
<rect x="189.42" y="582.88" width="1.1" height="1.1" fill="#ff00ff"/>
<rect x="198.99" y="573.59" width="1.1" height="1.1" fill="#ff00ff"/>
<rect x="195.99" y="574.18" width="1.1" height="1.1" fill="#ff00ff"/>
<rect x="194.52" y="570.82" width="1.1" height="1.1" fill="#ff00ff"/>
<rect x="189.9" y="583.86" width="1.1" height="1.1" fill="#ff00ff"/>
<rect x="191.27" y="579.47" width="1.1" height="1.1" fill="#ff00ff"/>
<rect x="185.78" y="582.64" width="1.1" height="1.1" fill="#ff00ff"/>
<rect x="187.55" y="582.59" width="1.1" height="1.1" fill="#ff00ff"/>
<rect x="197.28" y="572.43" width="1.1" height="1.1" fill="#ff00ff"/>
<rect x="187.96" y="577.15" width="1.1" height="1.1" fill="#ff00ff"/>
<rect x="188.05" y="575.25" width="1.1" height="1.1" fill="#ff00ff"/>
<rect x="192.2" y="573.54" width="1.1" height="1.1" fill="#ff00ff"/>
<rect x="186.9" y="583.83" width="1.1" height="1.1" fill="#ff00ff"/>
<rect x="196.19" y="571.09" width="1.1" height="1.1" fill="#ff00ff"/>
<rect x="190.93" y="581.22" width="1.1" height="1.1" fill="#ff00ff"/>
<rect x="199.1" y="575.23" width="1.1" height="1.1" fill="#ff00ff"/>
<rect x="195.75" y="577.81" width="1.1" height="1.1" fill="#ff00ff"/>
<rect x="188.11" y="581.41" width="1.1" height="1.1" fill="#ff00ff"/>
<rect x="209.82" y="561.07" width="1.1" height="1.1" fill="#ff00ff"/>
<rect x="185.94" y="579.4" width="1.1" height="1.1" fill="#ff00ff"/>
<rect x="188.14" y="578.25" width="1.1" height="1.1" fill="#ff00ff"/>
<rect x="186.04" y="578.09" width="1.1" height="1.1" fill="#ff00ff"/>
<rect x="184.79" y="579.87" width="1.1" height="1.1" fill="#ff00ff"/>
<rect x="183.96" y="584.01" width="1.1" height="1.1" fill="#ff00ff"/>
<rect x="203.96" y="564.47" width="1.1" height="1.1" fill="#ff00ff"/>
<rect x="202.98" y="567.01" width="1.1" height="1.1" fill="#ff00ff"/>
<rect x="193.89" y="569.45" width="1.1" height="1.1" fill="#ff00ff"/>
<rect x="193.69" y="569.33" width="1.1" height="1.1" fill="#ff00ff"/>
<rect x="194.22" y="575.96" width="1.1" height="1.1" fill="#ff00ff"/>
<rect x="190.25" y="575.08" width="1.1" height="1.1" fill="#ff00ff"/>
<rect x="189.41" y="579.07" width="1.1" height="1.1" fill="#ff00ff"/>
<rect x="192.29" y="576.16" width="1.1" height="1.1" fill="#ff00ff"/>
<rect x="189.64" y="580.44" width="1.1" height="1.1" fill="#ff00ff"/>
<rect x="197.35" y="575.16" width="1.1" height="1.1" fill="#ff00ff"/>
<rect x="184.53" y="577.26" width="1.1" height="1.1" fill="#ff00ff"/>
<rect x="195.34" y="572.57" width="1.1" height="1.1" fill="#ff00ff"/>
<rect x="204.38" y="570.93" width="1.1" height="1.1" fill="#ff00ff"/>
<rect x="194.82" y="570.11" width="1.1" height="1.1" fill="#ff00ff"/>
<rect x="185.17" y="589.26" width="1.1" height="1.1" fill="#ff00ff"/>
<rect x="188.46" y="574.92" width="1.1" height="1.1" fill="#ff00ff"/>
<rect x="208.24" y="558.98" width="1.1" height="1.1" fill="#ff00ff"/>
<rect x="197.37" y="573.28" width="1.1" height="1.1" fill="#ff00ff"/>
<rect x="198.7" y="573.55" width="1.1" height="1.1" fill="#ff00ff"/>
<rect x="188.01" y="576.69" width="1.1" height="1.1" fill="#ff00ff"/>
<rect x="189.81" y="576.2" width="1.1" height="1.1" fill="#ff00ff"/>
<rect x="202.84" y="564.86" width="1.1" height="1.1" fill="#ff00ff"/>
<rect x="188.46" y="584.77" width="1.1" height="1.1" fill="#ff00ff"/>
<rect x="200.98" y="566.1" width="1.1" height="1.1" fill="#ff00ff"/>
<rect x="207.36" y="567.51" width="1.1" height="1.1" fill="#ff00ff"/>
<rect x="200.76" y="575.49" width="1.1" height="1.1" fill="#ff00ff"/>
<rect x="200.69" y="571.81" width="1.1" height="1.1" fill="#ff00ff"/>
<rect x="196.98" y="566.08" width="1.1" height="1.1" fill="#ff00ff"/>
<rect x="193.6" y="576.75" width="1.1" height="1.1" fill="#ff00ff"/>
<rect x="184.83" y="582.88" width="1.1" height="1.1" fill="#ff00ff"/>
<rect x="185.05" y="580.69" width="1.1" height="1.1" fill="#ff00ff"/>
<rect x="196.06" y="575.33" width="1.1" height="1.1" fill="#ff00ff"/>
<rect x="184.17" y="581.43" width="1.1" height="1.1" fill="#ff00ff"/>
<rect x="190.36" y="576.53" width="1.1" height="1.1" fill="#ff00ff"/>
<rect x="201.18" y="568.15" width="1.1" height="1.1" fill="#ff00ff"/>
<rect x="195.11" y="578.74" width="1.1" height="1.1" fill="#ff00ff"/>
<rect x="194.74" y="572.54" width="1.1" height="1.1" fill="#ff00ff"/>
<rect x="184.09" y="586.22" width="1.1" height="1.1" fill="#ff00ff"/>
<rect x="189.17" y="578.67" width="1.1" height="1.1" fill="#ff00ff"/>
<rect x="208.55" y="563.34" width="1.1" height="1.1" fill="#ff00ff"/>
<rect x="187.6" y="591.58" width="1.1" height="1.1" fill="#ff00ff"/>
<rect x="194.04" y="578.46" width="1.1" height="1.1" fill="#ff00ff"/>
<rect x="188.98" y="573.24" width="1.1" height="1.1" fill="#ff00ff"/>
<rect x="190.99" y="580.55" width="1.1" height="1.1" fill="#ff00ff"/>
<rect x="200.43" y="569.14" width="1.1" height="1.1" fill="#ff00ff"/>
<rect x="194.56" y="573.48" width="1.1" height="1.1" fill="#ff00ff"/>
<rect x="186.96" y="577.44" width="1.1" height="1.1" fill="#ff00ff"/>
<rect x="191.01" y="574.67" width="1.1" height="1.1" fill="#ff00ff"/>
<rect x="187.9" y="582.3" width="1.1" height="1.1" fill="#ff00ff"/>
<rect x="184.78" y="590.94" width="1.1" height="1.1" fill="#ff00ff"/>
<rect x="190.19" y="578.94" width="1.1" height="1.1" fill="#ff00ff"/>
<rect x="209.55" y="562.29" width="1.1" height="1.1" fill="#ff00ff"/>
<rect x="193.11" y="576.11" width="1.1" height="1.1" fill="#ff00ff"/>
<rect x="196.33" y="574.86" width="1.1" height="1.1" fill="#ff00ff"/>
<rect x="199.48" y="572.68" width="1.1" height="1.1" fill="#ff00ff"/>
<rect x="188.56" y="578.47" width="1.1" height="1.1" fill="#ff00ff"/>
<rect x="189.42" y="583.32" width="1.1" height="1.1" fill="#ff00ff"/>
<rect x="188.46" y="577.4" width="1.1" height="1.1" fill="#ff00ff"/>
<rect x="196.31" y="573.79" width="1.1" height="1.1" fill="#ff00ff"/>
<rect x="187.85" y="581.72" width="1.1" height="1.1" fill="#ff00ff"/>
<rect x="192.71" y="575.25" width="1.1" height="1.1" fill="#ff00ff"/>
<rect x="196.05" y="572.63" width="1.1" height="1.1" fill="#ff00ff"/>
<rect x="186.13" y="582.32" width="1.1" height="1.1" fill="#ff00ff"/>
<rect x="188.38" y="590.01" width="1.1" height="1.1" fill="#ff00ff"/>
<rect x="193.09" y="576.08" width="1.1" height="1.1" fill="#ff00ff"/>
<rect x="206.97" y="564.73" width="1.1" height="1.1" fill="#ff00ff"/>
<rect x="188.29" y="573.14" width="1.1" height="1.1" fill="#ff00ff"/>
<rect x="195.08" y="577.24" width="1.1" height="1.1" fill="#ff00ff"/>
<rect x="193.34" y="574.65" width="1.1" height="1.1" fill="#ff00ff"/>
<rect x="188.2" y="579.11" width="1.1" height="1.1" fill="#ff00ff"/>
<rect x="193.69" y="575.03" width="1.1" height="1.1" fill="#ff00ff"/>
<rect x="192.96" y="570.44" width="1.1" height="1.1" fill="#ff00ff"/>
<rect x="187.57" y="567.64" width="1.1" height="1.1" fill="#ff00ff"/>
<rect x="185.51" y="584.95" width="1.1" height="1.1" fill="#ff00ff"/>
<rect x="186.76" y="590.78" width="1.1" height="1.1" fill="#ff00ff"/>
<rect x="195.15" y="572.67" width="1.1" height="1.1" fill="#ff00ff"/>
<rect x="194.38" y="572.63" width="1.1" height="1.1" fill="#ff00ff"/>
<rect x="189.18" y="572.46" width="1.1" height="1.1" fill="#ff00ff"/>
<rect x="195" y="581.66" width="1.1" height="1.1" fill="#ff00ff"/>
<rect x="186.82" y="584.45" width="1.1" height="1.1" fill="#ff00ff"/>
<rect x="198.34" y="571.01" width="1.1" height="1.1" fill="#ff00ff"/>
<rect x="190.1" y="577.19" width="1.1" height="1.1" fill="#ff00ff"/>
<rect x="189.69" y="577.44" width="1.1" height="1.1" fill="#ff00ff"/>
<rect x="184.29" y="586.25" width="1.1" height="1.1" fill="#ff00ff"/>
<rect x="197.73" y="567.22" width="1.1" height="1.1" fill="#ff00ff"/>
<rect x="207.35" y="563.77" width="1.1" height="1.1" fill="#ff00ff"/>
<rect x="183.99" y="585.97" width="1.1" height="1.1" fill="#ff00ff"/>
<rect x="196.13" y="570.71" width="1.1" height="1.1" fill="#ff00ff"/>
<rect x="207.49" y="564.97" width="1.1" height="1.1" fill="#ff00ff"/>
<rect x="204.06" y="569.91" width="1.1" height="1.1" fill="#ff00ff"/>
<rect x="187.11" y="581.48" width="1.1" height="1.1" fill="#ff00ff"/>
<rect x="202.06" y="567.5" width="1.1" height="1.1" fill="#ff00ff"/>
<rect x="185.75" y="580.62" width="1.1" height="1.1" fill="#ff00ff"/>
<rect x="191.79" y="581.58" width="1.1" height="1.1" fill="#ff00ff"/>
<rect x="201.36" y="573.16" width="1.1" height="1.1" fill="#ff00ff"/>
<rect x="185.55" y="589.12" width="1.1" height="1.1" fill="#ff00ff"/>
<rect x="186.93" y="584.1" width="1.1" height="1.1" fill="#ff00ff"/>
<rect x="186.64" y="574.5" width="1.1" height="1.1" fill="#ff00ff"/>
<rect x="209.79" y="562.93" width="1.1" height="1.1" fill="#ff00ff"/>
<rect x="191.6" y="576.68" width="1.1" height="1.1" fill="#ff00ff"/>
<rect x="194.16" y="568.87" width="1.1" height="1.1" fill="#ff00ff"/>
<rect x="204.01" y="567.77" width="1.1" height="1.1" fill="#ff00ff"/>
<rect x="188.12" y="578.28" width="1.1" height="1.1" fill="#ff00ff"/>
<rect x="189.86" y="571.49" width="1.1" height="1.1" fill="#ff00ff"/>
<rect x="184.84" y="578.67" width="1.1" height="1.1" fill="#ff00ff"/>
<rect x="188.87" y="582.84" width="1.1" height="1.1" fill="#ff00ff"/>
<rect x="190.22" y="579.5" width="1.1" height="1.1" fill="#ff00ff"/>
<rect x="186.05" y="584.16" width="1.1" height="1.1" fill="#ff00ff"/>
<rect x="201.46" y="571.13" width="1.1" height="1.1" fill="#ff00ff"/>
<rect x="192.06" y="579.5" width="1.1" height="1.1" fill="#ff00ff"/>
<rect x="188.73" y="578.93" width="1.1" height="1.1" fill="#ff00ff"/>
<rect x="187.88" y="584.93" width="1.1" height="1.1" fill="#ff00ff"/>
<rect x="198.73" y="579" width="1.1" height="1.1" fill="#ff00ff"/>
<rect x="196.35" y="572.83" width="1.1" height="1.1" fill="#ff00ff"/>
<rect x="203.61" y="565.58" width="1.1" height="1.1" fill="#ff00ff"/>
<rect x="202.66" y="571.77" width="1.1" height="1.1" fill="#ff00ff"/>
<rect x="192.57" y="571.72" width="1.1" height="1.1" fill="#ff00ff"/>
<rect x="187.77" y="582.88" width="1.1" height="1.1" fill="#ff00ff"/>
<rect x="203.82" y="569.72" width="1.1" height="1.1" fill="#ff00ff"/>
<rect x="185.38" y="581.18" width="1.1" height="1.1" fill="#ff00ff"/>
<rect x="191.09" y="578.34" width="1.1" height="1.1" fill="#ff00ff"/>
<rect x="189.33" y="573.4" width="1.1" height="1.1" fill="#ff00ff"/>
<rect x="196" y="570.6" width="1.1" height="1.1" fill="#ff00ff"/>
<rect x="186.95" y="583.84" width="1.1" height="1.1" fill="#ff00ff"/>
<rect x="184.5" y="587.43" width="1.1" height="1.1" fill="#ff00ff"/>
<rect x="196.69" y="575.47" width="1.1" height="1.1" fill="#ff00ff"/>
<rect x="199.06" y="565.67" width="1.1" height="1.1" fill="#ff00ff"/>
<rect x="195.79" y="573.85" width="1.1" height="1.1" fill="#ff00ff"/>
<rect x="191.59" y="571.19" width="1.1" height="1.1" fill="#ff00ff"/>
<rect x="197.67" y="568.52" width="1.1" height="1.1" fill="#ff00ff"/>
<rect x="185.16" y="582.91" width="1.1" height="1.1" fill="#ff00ff"/>
<rect x="189.3" y="580.03" width="1.1" height="1.1" fill="#ff00ff"/>
<rect x="191.01" y="576.76" width="1.1" height="1.1" fill="#ff00ff"/>
<rect x="195.83" y="571.2" width="1.1" height="1.1" fill="#ff00ff"/>
<rect x="195.98" y="574.01" width="1.1" height="1.1" fill="#ff00ff"/>
<rect x="194.94" y="575.5" width="1.1" height="1.1" fill="#ff00ff"/>
<rect x="185.03" y="579.76" width="1.1" height="1.1" fill="#ff00ff"/>
<rect x="190.55" y="579.72" width="1.1" height="1.1" fill="#ff00ff"/>
<rect x="187.53" y="580.5" width="1.1" height="1.1" fill="#ff00ff"/>
<rect x="189.52" y="576.07" width="1.1" height="1.1" fill="#ff00ff"/>
<rect x="197.02" y="572.89" width="1.1" height="1.1" fill="#ff00ff"/>
<rect x="191.71" y="568.38" width="1.1" height="1.1" fill="#ff00ff"/>
<rect x="201.08" y="567.3" width="1.1" height="1.1" fill="#ff00ff"/>
<rect x="213.52" y="557.96" width="1.1" height="1.1" fill="#ff00ff"/>
<rect x="193.32" y="571.22" width="1.1" height="1.1" fill="#ff00ff"/>
<rect x="185.49" y="577.53" width="1.1" height="1.1" fill="#ff00ff"/>
<rect x="188.74" y="581.69" width="1.1" height="1.1" fill="#ff00ff"/>
<rect x="198.83" y="571.28" width="1.1" height="1.1" fill="#ff00ff"/>
<rect x="195.94" y="574.76" width="1.1" height="1.1" fill="#ff00ff"/>
<rect x="189.33" y="584.64" width="1.1" height="1.1" fill="#ff00ff"/>
<rect x="190.77" y="578.04" width="1.1" height="1.1" fill="#ff00ff"/>
<rect x="211.94" y="563.02" width="1.1" height="1.1" fill="#ff00ff"/>
<rect x="193.34" y="576.47" width="1.1" height="1.1" fill="#ff00ff"/>
<rect x="190.25" y="577.15" width="1.1" height="1.1" fill="#ff00ff"/>
<rect x="201.17" y="569.9" width="1.1" height="1.1" fill="#ff00ff"/>
<rect x="201.71" y="569.96" width="1.1" height="1.1" fill="#ff00ff"/>
<rect x="188.17" y="583" width="1.1" height="1.1" fill="#ff00ff"/>
<rect x="209.43" y="558.05" width="1.1" height="1.1" fill="#ff00ff"/>
<rect x="197.62" y="568.4" width="1.1" height="1.1" fill="#ff00ff"/>
<rect x="190.43" y="581.22" width="1.1" height="1.1" fill="#ff00ff"/>
<rect x="187.78" y="577.16" width="1.1" height="1.1" fill="#ff00ff"/>
<rect x="196.88" y="570.26" width="1.1" height="1.1" fill="#ff00ff"/>
<rect x="188.96" y="578.32" width="1.1" height="1.1" fill="#ff00ff"/>
<rect x="200.36" y="569.54" width="1.1" height="1.1" fill="#ff00ff"/>
<rect x="190.36" y="579.08" width="1.1" height="1.1" fill="#ff00ff"/>
<rect x="198.24" y="574.36" width="1.1" height="1.1" fill="#ff00ff"/>
<rect x="193.09" y="576.68" width="1.1" height="1.1" fill="#ff00ff"/>
<rect x="198.02" y="566.43" width="1.1" height="1.1" fill="#ff00ff"/>
<rect x="184.32" y="577.7" width="1.1" height="1.1" fill="#ff00ff"/>
<rect x="199.28" y="573.73" width="1.1" height="1.1" fill="#ff00ff"/>
<rect x="194.34" y="576.99" width="1.1" height="1.1" fill="#ff00ff"/>
<rect x="198.91" y="574.08" width="1.1" height="1.1" fill="#ff00ff"/>
<rect x="197.22" y="576.4" width="1.1" height="1.1" fill="#ff00ff"/>
<rect x="185.25" y="583.66" width="1.1" height="1.1" fill="#ff00ff"/>
<rect x="201.88" y="570.06" width="1.1" height="1.1" fill="#ff00ff"/>
<rect x="201.96" y="568.74" width="1.1" height="1.1" fill="#ff00ff"/>
<rect x="188.3" y="576.26" width="1.1" height="1.1" fill="#ff00ff"/>
<rect x="185.47" y="573.96" width="1.1" height="1.1" fill="#ff00ff"/>
<rect x="184.63" y="581.61" width="1.1" height="1.1" fill="#ff00ff"/>
<rect x="190.06" y="568.66" width="1.1" height="1.1" fill="#ff00ff"/>
<rect x="208.6" y="565.35" width="1.1" height="1.1" fill="#ff00ff"/>
<rect x="194.93" y="579.26" width="1.1" height="1.1" fill="#ff00ff"/>
<rect x="192.13" y="577.71" width="1.1" height="1.1" fill="#ff00ff"/>
<rect x="200.53" y="567.53" width="1.1" height="1.1" fill="#ff00ff"/>
<rect x="186.45" y="583.3" width="1.1" height="1.1" fill="#ff00ff"/>
<rect x="203.23" y="570.64" width="1.1" height="1.1" fill="#ff00ff"/>
<rect x="200.59" y="569.65" width="1.1" height="1.1" fill="#ff00ff"/>
<rect x="185.84" y="578.38" width="1.1" height="1.1" fill="#ff00ff"/>
<rect x="190.66" y="583.91" width="1.1" height="1.1" fill="#ff00ff"/>
<rect x="189.15" y="583.33" width="1.1" height="1.1" fill="#ff00ff"/>
<rect x="199.95" y="566.52" width="1.1" height="1.1" fill="#ff00ff"/>
<rect x="204.3" y="572" width="1.1" height="1.1" fill="#ff00ff"/>
<rect x="187.31" y="587.51" width="1.1" height="1.1" fill="#ff00ff"/>
<rect x="186.79" y="585.53" width="1.1" height="1.1" fill="#ff00ff"/>
<rect x="191.4" y="573.37" width="1.1" height="1.1" fill="#ff00ff"/>
<rect x="186.92" y="579.64" width="1.1" height="1.1" fill="#ff00ff"/>
<rect x="189.58" y="573.46" width="1.1" height="1.1" fill="#ff00ff"/>
<rect x="192.87" y="570.84" width="1.1" height="1.1" fill="#ff00ff"/>
<rect x="196.99" y="565.35" width="1.1" height="1.1" fill="#ff00ff"/>
<rect x="184.79" y="579.27" width="1.1" height="1.1" fill="#ff00ff"/>
<rect x="198.27" y="574.02" width="1.1" height="1.1" fill="#ff00ff"/>
<rect x="193.07" y="580.27" width="1.1" height="1.1" fill="#ff00ff"/>
<rect x="185.95" y="582.62" width="1.1" height="1.1" fill="#ff00ff"/>
<rect x="185.39" y="584.5" width="1.1" height="1.1" fill="#ff00ff"/>
<rect x="194.71" y="572.54" width="1.1" height="1.1" fill="#ff00ff"/>
<rect x="184" y="590.76" width="1.1" height="1.1" fill="#ff00ff"/>
<rect x="190.5" y="585.01" width="1.1" height="1.1" fill="#ff00ff"/>
<rect x="188.42" y="576.81" width="1.1" height="1.1" fill="#ff00ff"/>
<rect x="203.31" y="564.79" width="1.1" height="1.1" fill="#ff00ff"/>
<rect x="203.94" y="565.2" width="1.1" height="1.1" fill="#ff00ff"/>
<rect x="191.86" y="576.25" width="1.1" height="1.1" fill="#ff00ff"/>
<rect x="190.84" y="573.1" width="1.1" height="1.1" fill="#ff00ff"/>
<rect x="191.81" y="570.69" width="1.1" height="1.1" fill="#ff00ff"/>
<rect x="198.51" y="578.11" width="1.1" height="1.1" fill="#ff00ff"/>
<rect x="186.66" y="576.54" width="1.1" height="1.1" fill="#ff00ff"/>
<rect x="191.62" y="582.72" width="1.1" height="1.1" fill="#ff00ff"/>
<rect x="191.24" y="576.54" width="1.1" height="1.1" fill="#ff00ff"/>
<rect x="198.35" y="565.77" width="1.1" height="1.1" fill="#ff00ff"/>
<rect x="199.76" y="581.99" width="1.1" height="1.1" fill="#ff00ff"/>
<rect x="192.41" y="569.6" width="1.1" height="1.1" fill="#ff00ff"/>
<rect x="200.22" y="573.5" width="1.1" height="1.1" fill="#ff00ff"/>
<rect x="189.37" y="584.63" width="1.1" height="1.1" fill="#ff00ff"/>
<rect x="187.8" y="580.87" width="1.1" height="1.1" fill="#ff00ff"/>
<rect x="192.99" y="574.37" width="1.1" height="1.1" fill="#ff00ff"/>
<rect x="189.38" y="577.44" width="1.1" height="1.1" fill="#ff00ff"/>
<rect x="189.12" y="579.32" width="1.1" height="1.1" fill="#ff00ff"/>
<rect x="206.68" y="565.11" width="1.1" height="1.1" fill="#ff00ff"/>
<rect x="200.37" y="566.92" width="1.1" height="1.1" fill="#ff00ff"/>
<rect x="203.07" y="570.3" width="1.1" height="1.1" fill="#ff00ff"/>
<rect x="187.7" y="578.07" width="1.1" height="1.1" fill="#ff00ff"/>
<rect x="198.21" y="574.01" width="1.1" height="1.1" fill="#ff00ff"/>
<rect x="186.4" y="571.57" width="1.1" height="1.1" fill="#ff00ff"/>
<rect x="191.45" y="575.73" width="1.1" height="1.1" fill="#ff00ff"/>
<rect x="188.13" y="582.56" width="1.1" height="1.1" fill="#ff00ff"/>
<rect x="191.19" y="576.66" width="1.1" height="1.1" fill="#ff00ff"/>
<rect x="194.07" y="576.94" width="1.1" height="1.1" fill="#ff00ff"/>
<rect x="191" y="583.07" width="1.1" height="1.1" fill="#ff00ff"/>
<rect x="197.07" y="579.22" width="1.1" height="1.1" fill="#ff00ff"/>
<rect x="184.55" y="583.2" width="1.1" height="1.1" fill="#ff00ff"/>
<rect x="195.99" y="574.87" width="1.1" height="1.1" fill="#ff00ff"/>
<rect x="185.49" y="581.04" width="1.1" height="1.1" fill="#ff00ff"/>
<rect x="187.38" y="577.18" width="1.1" height="1.1" fill="#ff00ff"/>
<rect x="191.31" y="578.57" width="1.1" height="1.1" fill="#ff00ff"/>
<rect x="187.4" y="573.87" width="1.1" height="1.1" fill="#ff00ff"/>
<rect x="184.52" y="589.82" width="1.1" height="1.1" fill="#ff00ff"/>
<rect x="199.55" y="563.56" width="1.1" height="1.1" fill="#ff00ff"/>
<rect x="193.61" y="578.14" width="1.1" height="1.1" fill="#ff00ff"/>
<rect x="184.84" y="582.34" width="1.1" height="1.1" fill="#ff00ff"/>
<rect x="185.36" y="581.87" width="1.1" height="1.1" fill="#ff00ff"/>
<rect x="195.55" y="578.02" width="1.1" height="1.1" fill="#ff00ff"/>
<rect x="195.83" y="572.85" width="1.1" height="1.1" fill="#ff00ff"/>
<rect x="201.57" y="572.46" width="1.1" height="1.1" fill="#ff00ff"/>
<rect x="183.93" y="582.71" width="1.1" height="1.1" fill="#ff00ff"/>
<rect x="190.7" y="575.38" width="1.1" height="1.1" fill="#ff00ff"/>
<rect x="186.55" y="586.57" width="1.1" height="1.1" fill="#ff00ff"/>
<rect x="188.79" y="581.33" width="1.1" height="1.1" fill="#ff00ff"/>
<rect x="188.92" y="580.54" width="1.1" height="1.1" fill="#ff00ff"/>
<rect x="187" y="583.56" width="1.1" height="1.1" fill="#ff00ff"/>
<rect x="185.88" y="581.68" width="1.1" height="1.1" fill="#ff00ff"/>
<rect x="189.16" y="569.65" width="1.1" height="1.1" fill="#ff00ff"/>
<rect x="192.44" y="579.09" width="1.1" height="1.1" fill="#ff00ff"/>
<rect x="189.46" y="577.71" width="1.1" height="1.1" fill="#ff00ff"/>
<rect x="187.4" y="575.87" width="1.1" height="1.1" fill="#ff00ff"/>
<rect x="192.24" y="579.1" width="1.1" height="1.1" fill="#ff00ff"/>
<rect x="193.91" y="578.51" width="1.1" height="1.1" fill="#ff00ff"/>
<rect x="205.36" y="567.55" width="1.1" height="1.1" fill="#ff00ff"/>
<rect x="188.64" y="583.83" width="1.1" height="1.1" fill="#ff00ff"/>
<rect x="196.3" y="576.08" width="1.1" height="1.1" fill="#ff00ff"/>
<rect x="184.54" y="595.05" width="1.1" height="1.1" fill="#ff00ff"/>
<rect x="184.18" y="577.89" width="1.1" height="1.1" fill="#ff00ff"/>
<rect x="195.33" y="568.48" width="1.1" height="1.1" fill="#ff00ff"/>
<rect x="206.23" y="568.34" width="1.1" height="1.1" fill="#ff00ff"/>
<rect x="199.45" y="574.22" width="1.1" height="1.1" fill="#ff00ff"/>
<rect x="188.94" y="573.41" width="1.1" height="1.1" fill="#ff00ff"/>
<rect x="190.29" y="580.2" width="1.1" height="1.1" fill="#ff00ff"/>
<rect x="185.73" y="583.14" width="1.1" height="1.1" fill="#ff00ff"/>
<rect x="191.21" y="574.01" width="1.1" height="1.1" fill="#ff00ff"/>
<rect x="187.79" y="583.04" width="1.1" height="1.1" fill="#ff00ff"/>
<rect x="184.44" y="578.09" width="1.1" height="1.1" fill="#ff00ff"/>
<rect x="202.38" y="574.88" width="1.1" height="1.1" fill="#ff00ff"/>
<rect x="196.44" y="569.87" width="1.1" height="1.1" fill="#ff00ff"/>
<rect x="191.76" y="580.28" width="1.1" height="1.1" fill="#ff00ff"/>
<rect x="192.12" y="578.59" width="1.1" height="1.1" fill="#ff00ff"/>
<rect x="187.66" y="575.03" width="1.1" height="1.1" fill="#ff00ff"/>
<rect x="186.07" y="575.79" width="1.1" height="1.1" fill="#ff00ff"/>
<rect x="185.41" y="584.98" width="1.1" height="1.1" fill="#ff00ff"/>
<rect x="186.29" y="576.98" width="1.1" height="1.1" fill="#ff00ff"/>
<rect x="188.4" y="578.52" width="1.1" height="1.1" fill="#ff00ff"/>
<rect x="187.95" y="569.86" width="1.1" height="1.1" fill="#ff00ff"/>
<rect x="204.73" y="567.93" width="1.1" height="1.1" fill="#ff00ff"/>
<rect x="185.11" y="581.88" width="1.1" height="1.1" fill="#ff00ff"/>
<rect x="186.41" y="580.08" width="1.1" height="1.1" fill="#ff00ff"/>
<rect x="189.02" y="579.19" width="1.1" height="1.1" fill="#ff00ff"/>
<rect x="191.49" y="578.14" width="1.1" height="1.1" fill="#ff00ff"/>
<rect x="184.1" y="577.83" width="1.1" height="1.1" fill="#ff00ff"/>
<rect x="186.54" y="575.6" width="1.1" height="1.1" fill="#ff00ff"/>
<rect x="191.61" y="577.26" width="1.1" height="1.1" fill="#ff00ff"/>
<rect x="185.17" y="586.6" width="1.1" height="1.1" fill="#ff00ff"/>
<rect x="193.86" y="576.76" width="1.1" height="1.1" fill="#ff00ff"/>
<rect x="187.64" y="579.72" width="1.1" height="1.1" fill="#ff00ff"/>
<rect x="186.72" y="588.04" width="1.1" height="1.1" fill="#ff00ff"/>
<rect x="189.07" y="575.95" width="1.1" height="1.1" fill="#ff00ff"/>
<rect x="193.55" y="579.91" width="1.1" height="1.1" fill="#ff00ff"/>
<rect x="193.83" y="576.33" width="1.1" height="1.1" fill="#ff00ff"/>
<rect x="185.89" y="585.86" width="1.1" height="1.1" fill="#ff00ff"/>
<rect x="193.87" y="576.67" width="1.1" height="1.1" fill="#ff00ff"/>
<rect x="186.19" y="584.44" width="1.1" height="1.1" fill="#ff00ff"/>
<rect x="199.35" y="570.96" width="1.1" height="1.1" fill="#ff00ff"/>
<rect x="186.43" y="584.59" width="1.1" height="1.1" fill="#ff00ff"/>
<rect x="199.88" y="570.83" width="1.1" height="1.1" fill="#ff00ff"/>
<rect x="195.02" y="569.52" width="1.1" height="1.1" fill="#ff00ff"/>
<rect x="201.8" y="563.32" width="1.1" height="1.1" fill="#ff00ff"/>
<rect x="193.37" y="578.68" width="1.1" height="1.1" fill="#ff00ff"/>
<rect x="185.14" y="586.41" width="1.1" height="1.1" fill="#ff00ff"/>
<rect x="184.32" y="580.21" width="1.1" height="1.1" fill="#ff00ff"/>
<rect x="196.08" y="576" width="1.1" height="1.1" fill="#ff00ff"/>
<rect x="193.25" y="580.3" width="1.1" height="1.1" fill="#ff00ff"/>
<rect x="192.87" y="574.64" width="1.1" height="1.1" fill="#ff00ff"/>
<rect x="199.1" y="574.76" width="1.1" height="1.1" fill="#ff00ff"/>
<rect x="192.08" y="578.39" width="1.1" height="1.1" fill="#ff00ff"/>
<rect x="183.93" y="582.12" width="1.1" height="1.1" fill="#ff00ff"/>
<rect x="187.87" y="584.34" width="1.1" height="1.1" fill="#ff00ff"/>
<rect x="190.89" y="580.9" width="1.1" height="1.1" fill="#ff00ff"/>
<rect x="187.36" y="575.78" width="1.1" height="1.1" fill="#ff00ff"/>
<rect x="200.13" y="567.44" width="1.1" height="1.1" fill="#ff00ff"/>
<rect x="184.12" y="576.8" width="1.1" height="1.1" fill="#ff00ff"/>
<rect x="191.23" y="581.62" width="1.1" height="1.1" fill="#ff00ff"/>
<rect x="190.29" y="570.9" width="1.1" height="1.1" fill="#ff00ff"/>
<rect x="210.38" y="564.36" width="1.1" height="1.1" fill="#ff00ff"/>
<rect x="201.06" y="568.01" width="1.1" height="1.1" fill="#ff00ff"/>
<rect x="190.06" y="576.88" width="1.1" height="1.1" fill="#ff00ff"/>
<rect x="190.93" y="581.31" width="1.1" height="1.1" fill="#ff00ff"/>
<rect x="189.94" y="581.58" width="1.1" height="1.1" fill="#ff00ff"/>
<rect x="203.72" y="566.86" width="1.1" height="1.1" fill="#ff00ff"/>
<rect x="205.44" y="561.9" width="1.1" height="1.1" fill="#ff00ff"/>
<rect x="194.59" y="574.46" width="1.1" height="1.1" fill="#ff00ff"/>
<rect x="213.37" y="559.75" width="1.1" height="1.1" fill="#ff00ff"/>
<rect x="192.73" y="582.24" width="1.1" height="1.1" fill="#ff00ff"/>
<rect x="201.13" y="570.73" width="1.1" height="1.1" fill="#ff00ff"/>
<rect x="192.38" y="581.6" width="1.1" height="1.1" fill="#ff00ff"/>
<rect x="184.85" y="585.95" width="1.1" height="1.1" fill="#ff00ff"/>
<rect x="184.12" y="577.64" width="1.1" height="1.1" fill="#ff00ff"/>
<rect x="208.29" y="568.76" width="1.1" height="1.1" fill="#ff00ff"/>
<rect x="186.78" y="575.53" width="1.1" height="1.1" fill="#ff00ff"/>
<rect x="187.27" y="584.45" width="1.1" height="1.1" fill="#ff00ff"/>
<rect x="200.74" y="577.14" width="1.1" height="1.1" fill="#ff00ff"/>
<rect x="186.56" y="579.12" width="1.1" height="1.1" fill="#ff00ff"/>
<rect x="198.79" y="571.83" width="1.1" height="1.1" fill="#ff00ff"/>
<rect x="195.19" y="577.36" width="1.1" height="1.1" fill="#ff00ff"/>
<rect x="189.22" y="583.34" width="1.1" height="1.1" fill="#ff00ff"/>
<rect x="194.3" y="570.33" width="1.1" height="1.1" fill="#ff00ff"/>
<rect x="191.21" y="575.29" width="1.1" height="1.1" fill="#ff00ff"/>
<rect x="208.46" y="561.8" width="1.1" height="1.1" fill="#ff00ff"/>
<rect x="191.19" y="574.11" width="1.1" height="1.1" fill="#ff00ff"/>
<rect x="198.64" y="569.43" width="1.1" height="1.1" fill="#ff00ff"/>
<rect x="184.94" y="574.62" width="1.1" height="1.1" fill="#ff00ff"/>
<rect x="193.02" y="574.86" width="1.1" height="1.1" fill="#ff00ff"/>
<rect x="190.56" y="578.29" width="1.1" height="1.1" fill="#ff00ff"/>
<rect x="196.1" y="565.15" width="1.1" height="1.1" fill="#ff00ff"/>
<rect x="184.19" y="581.85" width="1.1" height="1.1" fill="#ff00ff"/>
<rect x="195.88" y="573.18" width="1.1" height="1.1" fill="#ff00ff"/>
<rect x="192.45" y="577.72" width="1.1" height="1.1" fill="#ff00ff"/>
<rect x="187.87" y="581.8" width="1.1" height="1.1" fill="#ff00ff"/>
<rect x="194.35" y="579.38" width="1.1" height="1.1" fill="#ff00ff"/>
<rect x="188.47" y="586.75" width="1.1" height="1.1" fill="#ff00ff"/>
<rect x="185.45" y="579.28" width="1.1" height="1.1" fill="#ff00ff"/>
<rect x="185.46" y="579.42" width="1.1" height="1.1" fill="#ff00ff"/>
<rect x="195.85" y="573.41" width="1.1" height="1.1" fill="#ff00ff"/>
<rect x="184.65" y="579.19" width="1.1" height="1.1" fill="#ff00ff"/>
<rect x="188.32" y="575.11" width="1.1" height="1.1" fill="#ff00ff"/>
<rect x="185.56" y="575.41" width="1.1" height="1.1" fill="#ff00ff"/>
<rect x="203.41" y="567.51" width="1.1" height="1.1" fill="#ff00ff"/>
<rect x="194.76" y="569.65" width="1.1" height="1.1" fill="#ff00ff"/>
<rect x="187.87" y="579.05" width="1.1" height="1.1" fill="#ff00ff"/>
<rect x="195.21" y="577.14" width="1.1" height="1.1" fill="#ff00ff"/>
<rect x="202.76" y="571.64" width="1.1" height="1.1" fill="#ff00ff"/>
<rect x="201.09" y="573.71" width="1.1" height="1.1" fill="#ff00ff"/>
<rect x="184.51" y="576.8" width="1.1" height="1.1" fill="#ff00ff"/>
<rect x="192.04" y="576.51" width="1.1" height="1.1" fill="#ff00ff"/>
<rect x="195.32" y="570.99" width="1.1" height="1.1" fill="#ff00ff"/>
<rect x="189.41" y="572.65" width="1.1" height="1.1" fill="#ff00ff"/>
<rect x="193.83" y="582.12" width="1.1" height="1.1" fill="#ff00ff"/>
<rect x="192.75" y="577.25" width="1.1" height="1.1" fill="#ff00ff"/>
<rect x="189.06" y="582.76" width="1.1" height="1.1" fill="#ff00ff"/>
<rect x="194.05" y="565.03" width="1.1" height="1.1" fill="#ff00ff"/>
<rect x="189.49" y="583.33" width="1.1" height="1.1" fill="#ff00ff"/>
<rect x="193.02" y="582.76" width="1.1" height="1.1" fill="#ff00ff"/>
<rect x="186.79" y="575.1" width="1.1" height="1.1" fill="#ff00ff"/>
<rect x="190.45" y="585.65" width="1.1" height="1.1" fill="#ff00ff"/>
<rect x="191.63" y="578.94" width="1.1" height="1.1" fill="#ff00ff"/>
<rect x="194.09" y="572.49" width="1.1" height="1.1" fill="#ff00ff"/>
<rect x="185.25" y="584.02" width="1.1" height="1.1" fill="#ff00ff"/>
<rect x="188.01" y="580.44" width="1.1" height="1.1" fill="#ff00ff"/>
<rect x="211.78" y="557.95" width="1.1" height="1.1" fill="#ff00ff"/>
<rect x="205.38" y="567.61" width="1.1" height="1.1" fill="#ff00ff"/>
<rect x="186.12" y="574.6" width="1.1" height="1.1" fill="#ff00ff"/>
<rect x="203.9" y="564.82" width="1.1" height="1.1" fill="#ff00ff"/>
<rect x="200.17" y="571.42" width="1.1" height="1.1" fill="#ff00ff"/>
<rect x="191.38" y="586.48" width="1.1" height="1.1" fill="#ff00ff"/>
<rect x="201.62" y="564.61" width="1.1" height="1.1" fill="#ff00ff"/>
<rect x="187.02" y="578.39" width="1.1" height="1.1" fill="#ff00ff"/>
<rect x="184.69" y="578.89" width="1.1" height="1.1" fill="#ff00ff"/>
<rect x="201.89" y="567.15" width="1.1" height="1.1" fill="#ff00ff"/>
<rect x="192.18" y="579.44" width="1.1" height="1.1" fill="#ff00ff"/>
<rect x="191.45" y="579.03" width="1.1" height="1.1" fill="#ff00ff"/>
<rect x="188.77" y="576.84" width="1.1" height="1.1" fill="#ff00ff"/>
<rect x="187.89" y="579.83" width="1.1" height="1.1" fill="#ff00ff"/>
<rect x="185.89" y="577.21" width="1.1" height="1.1" fill="#ff00ff"/>
<rect x="185.67" y="578.87" width="1.1" height="1.1" fill="#ff00ff"/>
<rect x="197.21" y="564.45" width="1.1" height="1.1" fill="#ff00ff"/>
<rect x="196.51" y="575.93" width="1.1" height="1.1" fill="#ff00ff"/>
<rect x="188.85" y="579.01" width="1.1" height="1.1" fill="#ff00ff"/>
<rect x="192.36" y="570.8" width="1.1" height="1.1" fill="#ff00ff"/>
<rect x="188.24" y="574.44" width="1.1" height="1.1" fill="#ff00ff"/>
<rect x="198.7" y="572.91" width="1.1" height="1.1" fill="#ff00ff"/>
<rect x="193.06" y="574.17" width="1.1" height="1.1" fill="#ff00ff"/>
<rect x="191.28" y="572.7" width="1.1" height="1.1" fill="#ff00ff"/>
<rect x="191.11" y="586.36" width="1.1" height="1.1" fill="#ff00ff"/>
<rect x="186.08" y="585.39" width="1.1" height="1.1" fill="#ff00ff"/>
<rect x="193.01" y="570.61" width="1.1" height="1.1" fill="#ff00ff"/>
<path d="M183.7 572.14 L184.03 575.59 L184.37 569.96 L184.7 575.39 L185.04 575.77 L185.37 576.13 L185.71 575.91 L186.04 577.86 L186.38 573.71 L186.71 577.49 L187.05 575.4 L187.38 575.21 L187.72 573.5 L188.05 575.79 L188.38 571.87 L188.72 574.9 L189.05 575.53 L189.39 571.61 L189.72 570.87 L190.06 571.12 L190.39 572.39 L190.73 573.02 L191.06 573.85 L191.4 575.67 L191.73 574.93 L192.07 572.1 L192.4 570.64 L192.73 568.89 L193.07 572.57 L193.4 571.79 L193.74 570.1 L194.07 570.13 L194.41 570.02 L194.74 565.32 L195.08 569.75 L195.41 570.24 L195.75 569.23 L196.08 567.36 L196.42 569.13 L196.75 569.69 L197.08 571.78 L197.42 570.27 L197.75 569.25 L198.09 567.94 L198.42 565.57 L198.76 566.83 L199.09 565.14 L199.43 567.03 L199.76 568.72 L200.1 568.47 L200.43 568.01 L200.77 566.38 L201.1 567.69 L201.43 565.49 L201.77 562.66 L202.1 565.69 L202.44 565.31 L202.77 562.41 L203.11 564.02 L203.44 560.96 L203.78 563.66 L204.11 565.9 L204.45 562.98 L204.78 565.56 L205.12 563.78 L205.45 562.18 L205.78 560.5 L206.12 563.82 L206.45 563.46 L206.79 560.24 L207.12 561.49 L207.46 563.36 L207.79 560.58 L208.13 561.91 L208.46 558.49 L208.8 559.66 L209.13 561.64 L209.47 558.85 L209.8 558.27 L210.13 558.11 L210.47 559.22 L210.8 557.41 L211.14 559.1 L211.47 559.74 L211.81 560.77 L212.14 558.02 L212.48 560.38 L212.81 558.79 L213.15 557.55 L213.48 558.25 L213.82 559.28 L214.15 559 L214.48 557.83 L214.82 556.53 L215.15 557.44 L215.49 556.44 L215.82 556.14 L216.16 556.01 L216.49 557.66 L216.83 553.77 L217.16 554.88 L217.5 553.43 L217.83 555.52 L218.17 555.57 L218.5 555.61 L218.83 553.35 L219.17 553.59 L219.5 554.18 L219.84 553.25 L220.17 553.14 L220.51 552.78 L220.84 552.62 L221.18 551.94 L221.51 552.32 L221.85 549.94 L222.18 550.87 L222.52 549.62 L222.85 550.75 L223.18 549.8 L223.52 550.94 L223.85 551.47 L224.19 548.53 L224.52 548.78 L224.86 549.72 L225.19 550.66 L225.53 549.7 L225.86 549.1 L226.2 548.32 L226.53 547.67 L226.87 548.3 L227.2 548.18 L227.53 547.57 L227.87 546.54 L228.2 545.21 L228.54 545.76 L228.87 546.01 L229.21 544.94 L229.54 546.26 L229.88 544.17 L230.21 545.1 L230.55 545.54 L230.88 545.78 L231.22 544.93 L231.55 545.7 L231.88 543.56 L232.22 543.12 L232.55 544.83 L232.89 542.52 L233.22 543.03 L233.56 541.13 L233.89 543.86 L234.23 543.19 L234.56 541.41 L234.9 540.13 L235.23 541.96 L235.57 541.73 L235.9 542.41 L236.23 542.87 L236.57 540.94 L236.9 540.22 L237.24 539.95 L237.57 539.63 L237.91 538.28 L238.24 538.52 L238.58 539.1 L238.91 537.24 L239.25 537.34 L239.58 539.7 L239.92 537.5 L240.25 538.76 L240.58 538.82 L240.92 537.44 L241.25 538.04 L241.59 536.75 L241.92 535.79 L242.26 536.32 L242.59 536.25 L242.93 536.05 L243.26 535.75 L243.6 535.02 L243.93 536.26 L244.27 534.72 L244.6 534.25 L244.93 535.36 L245.27 533.15 L245.6 533.91 L245.94 535.16 L246.27 533.48 L246.61 534.6 L246.94 532.65 L247.28 532.15 L247.61 532.25 L247.95 531.59 L248.28 531.54 L248.62 531.21 L248.95 532.21 L249.28 531.55 L249.62 530.69 L249.95 529.89 L250.29 533.62 L250.62 529.94 L250.96 531.3 L251.29 528.46 L251.63 528.64 L251.96 530.36 L252.3 527.78 L252.63 527.55 L252.97 528.31 L253.3 527.39 L253.63 527.57 L253.97 527.76 L254.3 528.22 L254.64 527.28 L254.97 527.14 L255.31 527.91 L255.64 527.74 L255.98 525.73 L256.31 523.99 L256.65 524.57 L256.98 526.38 L257.32 524.59 L257.65 524.11 L257.98 524.11 L258.32 525.87 L258.65 524.1 L258.99 523.42 L259.32 522.85 L259.66 522.2 L259.99 525.8 L260.33 522.73 L260.66 522.66 L261 521.95 L261.33 523.06 L261.67 520.76 L262 519.61 L262.4 520.63 L262.91 521.13 L263.42 522.63 L263.92 519.95 L264.43 518.8 L264.94 519.03 L265.45 518.1 L265.96 517.71 L266.46 518.17 L266.97 517.97 L267.48 516.65 L267.99 517.95 L268.5 516.42 L269.01 516.21 L269.51 515.21 L270.02 515.67 L270.53 515.32 L271.04 515.18 L271.55 513.37 L272.05 514.39 L272.56 512.86 L273.07 513.13 L273.58 513.39 L274.09 513.76 L274.59 511.52 L275.1 510.52 L275.61 511.35 L276.12 512.03 L276.63 510.19 L277.14 512.49 L277.64 508.01 L278.15 510.95 L278.66 510.31 L279.17 509.96 L279.68 507.81 L280.18 509.66 L280.69 509.23 L281.2 509.06 L281.71 507.4 L282.22 507.16 L282.72 508.43 L283.23 507.29 L283.74 506.39 L284.25 505.71 L284.76 506.56 L285.26 504.76 L285.77 506.39 L286.28 505.81 L286.79 504.01 L287.3 505.72 L287.81 506.17 L288.31 505.07 L288.82 503.4 L289.33 503.87 L289.84 504.73 L290.35 502.97 L290.85 503.31 L291.36 504.15 L291.87 502.85 L292.38 502.27 L292.89 503.38 L293.39 503.72 L293.9 502.71 L294.41 501.66 L294.92 500.72 L295.43 501.66 L295.94 500.82 L296.44 502.14 L296.95 502.52 L297.46 499.94 L297.97 501.64 L298.48 502.01 L298.98 502.04 L299.49 502.77 L300 501.9 L300.8 502.17 L301.8 502.2 L302.81 499.98 L303.81 499.59 L304.81 499.84 L305.81 497.68 L306.82 499.1 L307.82 497.96 L308.82 498.87 L309.83 498.24 L310.83 497.89 L311.83 498.28 L312.84 497.02 L313.84 498.04 L314.84 495.99 L315.84 494.92 L316.85 493.72 L317.85 494.23 L318.85 493.78 L319.86 494.06 L320.86 494.25 L321.86 493.89 L322.86 493.73 L323.87 493.45 L324.87 492.11 L325.87 490.64 L326.88 489.45 L327.88 490.11 L328.88 489.21 L329.89 488.18 L330.89 487.57 L331.89 487.6 L332.89 487.85 L333.9 487.43 L334.9 486.39 L335.9 487.01 L336.91 484.86 L337.91 485.17 L338.91 486.36 L339.91 486.24 L340.92 486.83 L341.92 486.12 L342.92 486.02 L343.93 485.4 L344.93 484.55 L345.93 484.65 L346.94 485.1 L347.94 482.74 L348.94 482.31 L349.94 480.87 L350.95 480.93 L351.95 480.55 L352.95 480.9 L353.96 481.12 L354.96 482.18 L355.96 482.88 L356.96 481.42 L357.97 480.77 L358.97 481.24 L359.97 480.33 L360.98 479.92 L361.98 478.37 L362.98 479.6 L363.99 479.79 L364.99 478.77 L365.99 477.81 L366.99 477.41 L368 478.36 L369 478.02 L370 477.13 L371.01 477.3 L372.01 478.3 L373.01 479.1 L374.01 479.53 L375.02 478.68 L376.02 478.25 L377.02 477.97 L378.03 478.04 L379.03 477.93 L380.03 476.47 L381.04 475.74 L382.04 475.52 L383.04 476.2 L384.04 475.42 L385.05 474.66 L386.05 475.6 L387.05 476.35 L388.06 474.65 L389.06 474.23 L390.06 474.94 L391.06 473.9 L392.07 474.29 L393.07 472.41 L394.07 472.23 L395.08 472.7 L396.08 473.54 L397.08 473.36 L398.09 470.97 L399.09 469.57 L400.09 469.21 L401.09 470.28 L402.1 470.66 L403.1 471.03 L404.1 470.79 L405.11 469.5 L406.11 468.83 L407.11 467.93 L408.11 468.76 L409.12 467.37 L410.12 467.59 L411.12 467.76 L412.13 468.57 L413.13 467.25 L414.13 467.38 L415.14 466.18 L416.14 467.08 L417.14 466.32 L418.14 465.83 L419.15 464.93 L420.15 464.6 L421.15 464.28 L422.16 464.02 L423.16 465.23 L424.16 464.01 L425.16 464.25 L426.17 464.75 L427.17 463.29 L428.17 461.54 L429.18 462.62 L430.18 461.36 L431.18 461.28 L432.19 461.67 L433.19 462.09 L434.19 461.75 L435.19 461.09 L436.2 462 L437.2 461.74 L438.2 462.87 L439.21 461.04 L440.21 460.55 L441.21 460.18 L442.21 460.31 L443.22 459.98 L444.22 459.48 L445.22 460.64 L446.23 459.39 L447.23 459.06 L448.23 458.53 L449.24 457.45 L450.24 457.83 L451.24 455.79 L452.24 457 L453.25 455.35 L454.25 455.33 L455.25 455.54 L456.26 455.06 L457.26 454.65 L458.26 455.71 L459.26 457.16 L460.27 456.73 L461.27 455.67 L462.27 454.32 L463.28 453.35 L464.28 454.31 L465.28 454.46 L466.29 454.77 L467.29 454.57 L468.29 454.61 L469.29 452.95 L470.3 451.77 L471.3 450.83 L472.3 451 L473.31 450.85 L474.31 450.9 L475.31 449.76 L476.31 450.13 L477.32 450.74 L478.32 450.38 L479.32 447.83 L480.33 448.49 L481.33 448.48 L482.33 449.4 L483.34 448.94 L484.34 449.23 L485.34 448.48 L486.34 448.56 L487.35 449.04 L488.35 448.23 L489.35 448.18 L490.36 447.96 L491.36 448.13 L492.36 447.56 L493.36 447.65 L494.37 445.76 L495.37 445.93 L496.37 446.77 L497.38 447.02 L498.38 445.73 L499.38 445.05 L500.39 445.52 L501.39 445.62 L502.39 445.64 L503.39 445.21 L504.4 444.88 L505.4 445.31" fill="none" stroke="#000" stroke-width="1.9" stroke-linejoin="round" stroke-linecap="round" />
<path d="M183.7 557.36 L184.03 556.11 L184.37 561.56 L184.7 557.23 L185.04 560.33 L185.37 557.07 L185.71 555.96 L186.04 561.46 L186.38 557.8 L186.71 554.83 L187.05 557.08 L187.38 556.97 L187.72 556.7 L188.05 557.21 L188.38 554.49 L188.72 555.93 L189.05 557.12 L189.39 557.23 L189.72 556.01 L190.06 554.12 L190.39 551.71 L190.73 557.97 L191.06 552.91 L191.4 553.95 L191.73 554.61 L192.07 555.2 L192.4 554.11 L192.73 552.42 L193.07 553.65 L193.4 557.35 L193.74 557.93 L194.07 552.66 L194.41 554.04 L194.74 549.41 L195.08 552.8 L195.41 553.5 L195.75 551.42 L196.08 555.08 L196.42 553.13 L196.75 552.43 L197.08 546.32 L197.42 549.75 L197.75 551.93 L198.09 549.52 L198.42 547.01 L198.76 548.92 L199.09 552.48 L199.43 550.74 L199.76 550.85 L200.1 549.42 L200.43 551.74 L200.77 543.62 L201.1 546.27 L201.43 551.59 L201.77 549.82 L202.1 548.15 L202.44 546.89 L202.77 544.06 L203.11 546.29 L203.44 546.56 L203.78 544.96 L204.11 548.77 L204.45 547.94 L204.78 545.41 L205.12 547.25 L205.45 545.37 L205.78 545.69 L206.12 544.15 L206.45 549.06 L206.79 541.93 L207.12 544.05 L207.46 545.86 L207.79 545.61 L208.13 540.82 L208.46 541.76 L208.8 542.98 L209.13 541.55 L209.47 541.55 L209.8 542.03 L210.13 541.96 L210.47 543.87 L210.8 538.88 L211.14 543.33 L211.47 540.92 L211.81 542.06 L212.14 540.26 L212.48 544.56 L212.81 537.36 L213.15 542.14 L213.48 539.18 L213.82 539.31 L214.15 541.83 L214.48 538.9 L214.82 540.5 L215.15 541.18 L215.49 537.56 L215.82 541.66 L216.16 540.16 L216.49 537.49 L216.83 537.99 L217.16 536.22 L217.5 537.65 L217.83 538.36 L218.17 538.35 L218.5 536.84 L218.83 535.39 L219.17 534.95 L219.5 534.21 L219.84 535.08 L220.17 536.28 L220.51 534.12 L220.84 533.73 L221.18 532.89 L221.51 535.3 L221.85 533.72 L222.18 531.29 L222.52 535.46 L222.85 535.14 L223.18 533.23 L223.52 532.4 L223.85 532.68 L224.19 531.02 L224.52 533.87 L224.86 534.25 L225.19 533.44 L225.53 531.94 L225.86 531.7 L226.2 531.94 L226.53 533.57 L226.87 529.36 L227.2 530.36 L227.53 529.07 L227.87 528.01 L228.2 530.22 L228.54 531.24 L228.87 527.56 L229.21 530.54 L229.54 529.81 L229.88 529.25 L230.21 530.42 L230.55 527.02 L230.88 530.34 L231.22 527.02 L231.55 528.2 L231.88 524.71 L232.22 528.39 L232.55 526.69 L232.89 525.54 L233.22 524.58 L233.56 526.25 L233.89 527.76 L234.23 526.29 L234.56 524.71 L234.9 523.82 L235.23 523.16 L235.57 524.03 L235.9 521.84 L236.23 523.48 L236.57 525.5 L236.9 523.5 L237.24 523.12 L237.57 522.2 L237.91 523.97 L238.24 523.61 L238.58 524.57 L238.91 521.12 L239.25 520.25 L239.58 520.78 L239.92 519.61 L240.25 521.15 L240.58 520.34 L240.92 519.46 L241.25 520.44 L241.59 521.79 L241.92 521.12 L242.26 518.87 L242.59 519.63 L242.93 519.81 L243.26 520.09 L243.6 518.36 L243.93 516.72 L244.27 518.91 L244.6 516.72 L244.93 517.38 L245.27 517.29 L245.6 518.82 L245.94 516.53 L246.27 517.22 L246.61 516.43 L246.94 515.71 L247.28 517.57 L247.61 515.37 L247.95 516.51 L248.28 515.99 L248.62 512.64 L248.95 512.7 L249.28 510.28 L249.62 515.06 L249.95 514.77 L250.29 513.4 L250.62 513.17 L250.96 513.23 L251.29 512.55 L251.63 513.16 L251.96 512.93 L252.3 511.47 L252.63 514.55 L252.97 513.72 L253.3 511.46 L253.63 514.89 L253.97 515.04 L254.3 513.09 L254.64 512.79 L254.97 510.05 L255.31 510.19 L255.64 508.18 L255.98 509.58 L256.31 511.29 L256.65 509.12 L256.98 507.12 L257.32 511.45 L257.65 511.72 L257.98 510.85 L258.32 506.4 L258.65 509.42 L258.99 506.9 L259.32 507.62 L259.66 508.53 L259.99 509.43 L260.33 506.25 L260.66 506.39 L261 504.91 L261.33 506.4 L261.67 504.83 L262 505.25 L262.4 506.67 L262.91 505.26 L263.42 505.08 L263.92 504.94 L264.43 505.28 L264.94 505.69 L265.45 501.94 L265.96 501 L266.46 503.45 L266.97 503.33 L267.48 503.88 L267.99 502.72 L268.5 503.6 L269.01 501.65 L269.51 499.8 L270.02 501.56 L270.53 498.76 L271.04 498.66 L271.55 499.71 L272.05 498.5 L272.56 499.66 L273.07 497.64 L273.58 500.07 L274.09 496.11 L274.59 497.92 L275.1 496.08 L275.61 498.06 L276.12 495.21 L276.63 496.5 L277.14 491.25 L277.64 493.89 L278.15 496.47 L278.66 494.29 L279.17 493.79 L279.68 494.4 L280.18 495.89 L280.69 491.24 L281.2 492.12 L281.71 491.3 L282.22 492.36 L282.72 490.3 L283.23 488.92 L283.74 488.64 L284.25 490.93 L284.76 490.07 L285.26 490.52 L285.77 487.31 L286.28 487.88 L286.79 488.05 L287.3 489.32 L287.81 488.55 L288.31 487.55 L288.82 486.44 L289.33 487.42 L289.84 486.3 L290.35 487.34 L290.85 487.74 L291.36 486.32 L291.87 484.66 L292.38 487.31 L292.89 485.51 L293.39 485.42 L293.9 484.68 L294.41 485.2 L294.92 485.02 L295.43 483.96 L295.94 482.79 L296.44 483.39 L296.95 483.14 L297.46 483.26 L297.97 483.25 L298.48 482.97 L298.98 481.52 L299.49 482.1 L300 481.83 L300.8 482.01 L301.8 480.88 L302.81 482.08 L303.81 480.28 L304.81 480.83 L305.81 481.09 L306.82 482.18 L307.82 480.04 L308.82 479.52 L309.83 478.47 L310.83 478.44 L311.83 477.07 L312.84 476.09 L313.84 475.97 L314.84 475.14 L315.84 476.35 L316.85 476.36 L317.85 475.82 L318.85 474.89 L319.86 474.17 L320.86 474.63 L321.86 473.88 L322.86 473.23 L323.87 474.4 L324.87 473.29 L325.87 472.15 L326.88 471.39 L327.88 472.18 L328.88 470.84 L329.89 469.96 L330.89 470.75 L331.89 471.1 L332.89 471.36 L333.9 469.3 L334.9 469.21 L335.9 468.1 L336.91 468.26 L337.91 466.41 L338.91 466.53 L339.91 467.64 L340.92 467.34 L341.92 464.7 L342.92 466.22 L343.93 466.38 L344.93 465.79 L345.93 465.61 L346.94 465.12 L347.94 466.09 L348.94 465.46 L349.94 463.6 L350.95 463.17 L351.95 465.09 L352.95 465.61 L353.96 465.53 L354.96 463.97 L355.96 464.24 L356.96 464.75 L357.97 464.11 L358.97 464.25 L359.97 464.59 L360.98 464.6 L361.98 463.98 L362.98 463.54 L363.99 461.64 L364.99 461.31 L365.99 462.01 L366.99 463.05 L368 462.13 L369 462.31 L370 461.32 L371.01 459.8 L372.01 460.12 L373.01 460.23 L374.01 459.02 L375.02 458.33 L376.02 458.71 L377.02 458.36 L378.03 459.01 L379.03 457.63 L380.03 458.7 L381.04 457.88 L382.04 458.14 L383.04 456.42 L384.04 457.51 L385.05 457.27 L386.05 458.65 L387.05 455.87 L388.06 454.01 L389.06 455.06 L390.06 455.62 L391.06 453.4 L392.07 454.09 L393.07 454.67 L394.07 455.25 L395.08 454.29 L396.08 452.13 L397.08 450.44 L398.09 452.92 L399.09 452.65 L400.09 452.87 L401.09 451.69 L402.1 450.99 L403.1 450.49 L404.1 449.44 L405.11 449.31 L406.11 448.38 L407.11 448.36 L408.11 449.57 L409.12 449.16 L410.12 448.2 L411.12 449.66 L412.13 449.98 L413.13 448.93 L414.13 446.67 L415.14 447.97 L416.14 448.59 L417.14 447.15 L418.14 448.02 L419.15 446.4 L420.15 445.9 L421.15 445.35 L422.16 445.5 L423.16 445.19 L424.16 446.29 L425.16 445.22 L426.17 445.22 L427.17 444.75 L428.17 444.56 L429.18 443.41 L430.18 443.36 L431.18 444.45 L432.19 444.46 L433.19 442.61 L434.19 442.15 L435.19 441.26 L436.2 440.9 L437.2 440.66 L438.2 439.91 L439.21 440.85 L440.21 441.64 L441.21 441.3 L442.21 440.46 L443.22 440.43 L444.22 439.5 L445.22 440.43 L446.23 441.95 L447.23 438.34 L448.23 438.88 L449.24 438.78 L450.24 438.73 L451.24 438.19 L452.24 436.72 L453.25 437.04 L454.25 436.83 L455.25 436.82 L456.26 436.79 L457.26 436.28 L458.26 438.28 L459.26 436.23 L460.27 435.72 L461.27 434.56 L462.27 434.75 L463.28 436.18 L464.28 435.46 L465.28 434.23 L466.29 432.98 L467.29 433.75 L468.29 432.94 L469.29 433.5 L470.3 432.54 L471.3 432.02 L472.3 432.01 L473.31 430.55 L474.31 432.07 L475.31 430.81 L476.31 431.13 L477.32 431.47 L478.32 433.18 L479.32 432.44 L480.33 432.26 L481.33 430.94 L482.33 430.44 L483.34 430.2 L484.34 430.9 L485.34 429.46 L486.34 429.78 L487.35 431.96 L488.35 429.86 L489.35 427.9 L490.36 427.88 L491.36 428.13 L492.36 429.72 L493.36 429.53 L494.37 429.9 L495.37 428.46 L496.37 428.15 L497.38 428.16 L498.38 427.1 L499.38 427.35 L500.39 426.88 L501.39 426.92 L502.39 425.44 L503.39 423.94 L504.4 425.83 L505.4 425.61" fill="none" stroke="#ff0000" stroke-width="1.9" stroke-linejoin="round" stroke-linecap="round" />
<path d="M183.7 534.85 L184.03 541.01 L184.37 537.09 L184.7 535.58 L185.04 532.89 L185.37 535.03 L185.71 534.54 L186.04 533.31 L186.38 536.67 L186.71 535.05 L187.05 534.47 L187.38 531.53 L187.72 531.63 L188.05 534.91 L188.38 533.06 L188.72 531.39 L189.05 532.87 L189.39 532.15 L189.72 531.11 L190.06 531.41 L190.39 533 L190.73 532.02 L191.06 529.6 L191.4 529.65 L191.73 531.39 L192.07 528.71 L192.4 530.71 L192.73 530.06 L193.07 527.69 L193.4 525.46 L193.74 528.16 L194.07 529.49 L194.41 529.31 L194.74 531.43 L195.08 528.94 L195.41 528.6 L195.75 529.22 L196.08 527.55 L196.42 531.29 L196.75 526.9 L197.08 526.2 L197.42 526.65 L197.75 529.55 L198.09 526.14 L198.42 525.6 L198.76 527.83 L199.09 528.69 L199.43 525.63 L199.76 527.43 L200.1 524.81 L200.43 528.28 L200.77 523.68 L201.1 524.9 L201.43 524.43 L201.77 523.35 L202.1 524.65 L202.44 525.78 L202.77 522.94 L203.11 527.55 L203.44 524.43 L203.78 524.39 L204.11 522.25 L204.45 523.28 L204.78 524.75 L205.12 521.25 L205.45 521.6 L205.78 521.16 L206.12 520.13 L206.45 523.28 L206.79 520.61 L207.12 524.63 L207.46 519.44 L207.79 520.8 L208.13 521.27 L208.46 519.29 L208.8 517.14 L209.13 519.48 L209.47 520.35 L209.8 518.57 L210.13 520.44 L210.47 516.64 L210.8 520.08 L211.14 522.91 L211.47 520.8 L211.81 520.65 L212.14 518.18 L212.48 517.87 L212.81 520.26 L213.15 517.62 L213.48 519.05 L213.82 516.15 L214.15 518.21 L214.48 517.66 L214.82 513.5 L215.15 516.78 L215.49 517.7 L215.82 517.46 L216.16 516.97 L216.49 518.27 L216.83 515.85 L217.16 514.51 L217.5 517.05 L217.83 518.83 L218.17 514.6 L218.5 517.43 L218.83 514.46 L219.17 512.13 L219.5 512.89 L219.84 512.74 L220.17 515.83 L220.51 513.91 L220.84 512.64 L221.18 513.54 L221.51 515.39 L221.85 512.8 L222.18 511.56 L222.52 513.1 L222.85 510.97 L223.18 512.92 L223.52 513.5 L223.85 512 L224.19 510.81 L224.52 511.49 L224.86 508.83 L225.19 513.4 L225.53 514.45 L225.86 510.51 L226.2 507 L226.53 509 L226.87 507.58 L227.2 506.7 L227.53 509.24 L227.87 509 L228.2 508.06 L228.54 510.6 L228.87 508.71 L229.21 506.91 L229.54 508.9 L229.88 506.06 L230.21 507.28 L230.55 506.33 L230.88 507.89 L231.22 506.8 L231.55 506.12 L231.88 507.23 L232.22 507.35 L232.55 506.79 L232.89 507.94 L233.22 504.38 L233.56 506.42 L233.89 508.19 L234.23 505.41 L234.56 501.78 L234.9 506.48 L235.23 504.47 L235.57 505.57 L235.9 504.8 L236.23 505.12 L236.57 505.84 L236.9 503.96 L237.24 504.76 L237.57 501.37 L237.91 501.79 L238.24 502.76 L238.58 505.14 L238.91 501.28 L239.25 501.8 L239.58 503.13 L239.92 501.13 L240.25 499.76 L240.58 498.55 L240.92 502.49 L241.25 499.4 L241.59 501.42 L241.92 501.46 L242.26 498.99 L242.59 500.95 L242.93 496.88 L243.26 499.71 L243.6 498.11 L243.93 499.8 L244.27 499.55 L244.6 499.32 L244.93 499.77 L245.27 497.69 L245.6 496.3 L245.94 496.4 L246.27 499.5 L246.61 496.29 L246.94 497.1 L247.28 497.93 L247.61 496.97 L247.95 495.55 L248.28 493.71 L248.62 497.97 L248.95 495.54 L249.28 493.81 L249.62 495.04 L249.95 495.84 L250.29 492.71 L250.62 495.56 L250.96 495.17 L251.29 495.6 L251.63 494.76 L251.96 493.11 L252.3 491.99 L252.63 493.84 L252.97 493.17 L253.3 495.9 L253.63 493.09 L253.97 493.88 L254.3 493.17 L254.64 490.4 L254.97 493.75 L255.31 491.82 L255.64 490.23 L255.98 492.64 L256.31 493.59 L256.65 491.48 L256.98 491.05 L257.32 490.34 L257.65 490.43 L257.98 492.36 L258.32 490.73 L258.65 490.99 L258.99 491 L259.32 485.96 L259.66 490.02 L259.99 490.36 L260.33 489.68 L260.66 487.14 L261 487.89 L261.33 489.68 L261.67 489.12 L262 488.95 L262.4 486.55 L262.91 488.15 L263.42 489.41 L263.92 487.22 L264.43 488.65 L264.94 487.69 L265.45 487.32 L265.96 485.02 L266.46 484.74 L266.97 484.4 L267.48 486.48 L267.99 486.29 L268.5 483 L269.01 482.37 L269.51 483.89 L270.02 485.1 L270.53 483.45 L271.04 483.6 L271.55 483.09 L272.05 482.9 L272.56 481.68 L273.07 482.15 L273.58 482.09 L274.09 480.78 L274.59 482.7 L275.1 478.97 L275.61 479.5 L276.12 478.62 L276.63 480.67 L277.14 480.38 L277.64 477.81 L278.15 478.51 L278.66 477.56 L279.17 476.14 L279.68 476.52 L280.18 477.6 L280.69 477.58 L281.2 475.71 L281.71 476.28 L282.22 476.97 L282.72 477.33 L283.23 475.79 L283.74 474.1 L284.25 472.89 L284.76 474.53 L285.26 473.78 L285.77 473.13 L286.28 472.67 L286.79 472.52 L287.3 473 L287.81 473.28 L288.31 471.31 L288.82 473.57 L289.33 472.82 L289.84 471.01 L290.35 471.29 L290.85 471.78 L291.36 469.12 L291.87 469.16 L292.38 468.67 L292.89 467.67 L293.39 468.94 L293.9 467.78 L294.41 467.82 L294.92 467.7 L295.43 466.84 L295.94 467.29 L296.44 465.63 L296.95 465.31 L297.46 464.66 L297.97 465.07 L298.48 464.97 L298.98 464.92 L299.49 464.29 L300 463.29 L300.8 463.35 L301.8 462.7 L302.81 461.25 L303.81 461.44 L304.81 461.45 L305.81 459.96 L306.82 458.68 L307.82 458.66 L308.82 459.55 L309.83 459.77 L310.83 457.88 L311.83 457.55 L312.84 458.19 L313.84 458.25 L314.84 459 L315.84 458.41 L316.85 454.61 L317.85 455.5 L318.85 454.62 L319.86 453.87 L320.86 452.61 L321.86 452.19 L322.86 452.68 L323.87 454.17 L324.87 454.9 L325.87 454.73 L326.88 455.02 L327.88 453.53 L328.88 452.16 L329.89 453.78 L330.89 453.2 L331.89 451.97 L332.89 452.15 L333.9 450.71 L334.9 451.9 L335.9 449.73 L336.91 449.08 L337.91 448.87 L338.91 448.57 L339.91 447.25 L340.92 448.27 L341.92 448.42 L342.92 447.79 L343.93 447.72 L344.93 446.53 L345.93 446.98 L346.94 445.62 L347.94 444.22 L348.94 444.07 L349.94 443.77 L350.95 443.91 L351.95 444.07 L352.95 444.86 L353.96 442.33 L354.96 440.48 L355.96 440.97 L356.96 441.97 L357.97 442.07 L358.97 440.91 L359.97 439.99 L360.98 439.28 L361.98 440.62 L362.98 439.43 L363.99 439.13 L364.99 437.45 L365.99 438.34 L366.99 437.76 L368 437.22 L369 436.77 L370 436.57 L371.01 438.91 L372.01 438.19 L373.01 437.72 L374.01 436.08 L375.02 434.48 L376.02 432.83 L377.02 433.23 L378.03 434.01 L379.03 434.38 L380.03 432.95 L381.04 433.92 L382.04 433.24 L383.04 434.23 L384.04 433.4 L385.05 433.07 L386.05 432.06 L387.05 431.4 L388.06 431.56 L389.06 432 L390.06 432.24 L391.06 431 L392.07 429.74 L393.07 430.43 L394.07 431.49 L395.08 430.41 L396.08 429.78 L397.08 429.34 L398.09 429.7 L399.09 430.36 L400.09 428.96 L401.09 429.29 L402.1 430.26 L403.1 429.93 L404.1 428.43 L405.11 426.87 L406.11 427.18 L407.11 428.36 L408.11 428.38 L409.12 428.8 L410.12 427.3 L411.12 426.69 L412.13 425.44 L413.13 425.8 L414.13 425.19 L415.14 424.2 L416.14 423.86 L417.14 424.36 L418.14 424.76 L419.15 424.74 L420.15 425.94 L421.15 425.07 L422.16 422.99 L423.16 423.44 L424.16 421.85 L425.16 420.62 L426.17 421.37 L427.17 420.5 L428.17 420.39 L429.18 419.72 L430.18 419.47 L431.18 417.84 L432.19 419.07 L433.19 419.87 L434.19 418.89 L435.19 419.5 L436.2 419.35 L437.2 419.43 L438.2 419.59 L439.21 417.22 L440.21 417.55 L441.21 416.79 L442.21 417.03 L443.22 416.17 L444.22 417.58 L445.22 417.91 L446.23 416.54 L447.23 416.07 L448.23 415.53 L449.24 415.15 L450.24 415.42 L451.24 413.84 L452.24 412.48 L453.25 413.82 L454.25 413.8 L455.25 413.01 L456.26 412.29 L457.26 411.12 L458.26 411.42 L459.26 410.25 L460.27 411.12 L461.27 411.64 L462.27 411.02 L463.28 412.04 L464.28 412.3 L465.28 411.9 L466.29 410.8 L467.29 410.21 L468.29 409.56 L469.29 408.26 L470.3 409.14 L471.3 410.16 L472.3 408.71 L473.31 409.42 L474.31 409.18 L475.31 409.24 L476.31 409.65 L477.32 409.91 L478.32 408.56 L479.32 408.88 L480.33 407.93 L481.33 405.45 L482.33 407.85 L483.34 407.36 L484.34 406.67 L485.34 407.61 L486.34 407.29 L487.35 406.17 L488.35 406.13 L489.35 406.14 L490.36 405.62 L491.36 403.43 L492.36 404.29 L493.36 403.76 L494.37 403.31 L495.37 403.89 L496.37 405.9 L497.38 404.08 L498.38 404.24 L499.38 402.71 L500.39 401.65 L501.39 401.99 L502.39 403.14 L503.39 403.11 L504.4 402.96 L505.4 403.54" fill="none" stroke="#00f200" stroke-width="1.9" stroke-linejoin="round" stroke-linecap="round" />
<path d="M183.7 516.69 L184.03 513.98 L184.37 513 L184.7 514.38 L185.04 515.74 L185.37 514.08 L185.71 514.14 L186.04 513.32 L186.38 512.69 L186.71 511.76 L187.05 512.48 L187.38 517.48 L187.72 515.91 L188.05 516.32 L188.38 513.76 L188.72 513.16 L189.05 514.8 L189.39 512.4 L189.72 515.14 L190.06 513.09 L190.39 514.19 L190.73 511.09 L191.06 515.83 L191.4 512.66 L191.73 513.37 L192.07 510.58 L192.4 510.54 L192.73 512.99 L193.07 508.47 L193.4 513.7 L193.74 510.13 L194.07 512.87 L194.41 509.71 L194.74 510.69 L195.08 510.78 L195.41 512.15 L195.75 508.74 L196.08 511.17 L196.42 510.54 L196.75 511.26 L197.08 508.16 L197.42 509.54 L197.75 508.04 L198.09 508.53 L198.42 511.01 L198.76 511.05 L199.09 507.07 L199.43 508.3 L199.76 508.3 L200.1 506.57 L200.43 507.41 L200.77 506.04 L201.1 508.79 L201.43 505.94 L201.77 510 L202.1 503.83 L202.44 508.17 L202.77 508.07 L203.11 505.68 L203.44 503.68 L203.78 506.82 L204.11 504.2 L204.45 508.1 L204.78 506.22 L205.12 505.83 L205.45 505.89 L205.78 506.85 L206.12 505.34 L206.45 506.16 L206.79 505.68 L207.12 503.99 L207.46 506.62 L207.79 507.31 L208.13 506.3 L208.46 504.44 L208.8 505.23 L209.13 502.09 L209.47 502.34 L209.8 502.08 L210.13 502.42 L210.47 504.66 L210.8 501.69 L211.14 501.84 L211.47 500.21 L211.81 501.43 L212.14 499.63 L212.48 503.75 L212.81 501.83 L213.15 503.47 L213.48 504.03 L213.82 502.38 L214.15 501.99 L214.48 501.49 L214.82 500.41 L215.15 497.38 L215.49 501.08 L215.82 499.48 L216.16 498.83 L216.49 499.34 L216.83 500.09 L217.16 501.09 L217.5 498.18 L217.83 497.58 L218.17 501.22 L218.5 500.2 L218.83 500.43 L219.17 498.53 L219.5 496.56 L219.84 500.78 L220.17 500.48 L220.51 497.35 L220.84 498.82 L221.18 499.74 L221.51 501.81 L221.85 499.59 L222.18 498.39 L222.52 496.99 L222.85 496.45 L223.18 496.92 L223.52 495.8 L223.85 497.7 L224.19 496.75 L224.52 495.99 L224.86 494.6 L225.19 496.22 L225.53 495.34 L225.86 496.33 L226.2 494.06 L226.53 496.45 L226.87 495.04 L227.2 498.06 L227.53 493.69 L227.87 497.81 L228.2 499.12 L228.54 494.37 L228.87 497.45 L229.21 495.88 L229.54 492.05 L229.88 492.92 L230.21 495.21 L230.55 493.95 L230.88 494.67 L231.22 493.82 L231.55 495.25 L231.88 492.46 L232.22 491.03 L232.55 491.47 L232.89 492.29 L233.22 490.77 L233.56 491.95 L233.89 491.5 L234.23 491.18 L234.56 491.43 L234.9 490.73 L235.23 492.66 L235.57 491.14 L235.9 491.99 L236.23 488.47 L236.57 490.53 L236.9 489.6 L237.24 487.2 L237.57 493.07 L237.91 487.83 L238.24 490.89 L238.58 490.62 L238.91 491.06 L239.25 488.49 L239.58 485.15 L239.92 489.76 L240.25 488.5 L240.58 489.47 L240.92 488.09 L241.25 490.09 L241.59 488.77 L241.92 487.31 L242.26 491.24 L242.59 486.62 L242.93 484.09 L243.26 487.34 L243.6 487.71 L243.93 487.68 L244.27 485.88 L244.6 486.48 L244.93 485.1 L245.27 485.56 L245.6 486.98 L245.94 485.07 L246.27 486.72 L246.61 485.14 L246.94 485.46 L247.28 484.69 L247.61 486.66 L247.95 484.99 L248.28 483.52 L248.62 484.67 L248.95 486.03 L249.28 484.53 L249.62 482.46 L249.95 482.72 L250.29 482.15 L250.62 485.42 L250.96 483.56 L251.29 484.38 L251.63 484.13 L251.96 482.32 L252.3 484.18 L252.63 482.28 L252.97 482.73 L253.3 479.24 L253.63 481.78 L253.97 481.16 L254.3 480.49 L254.64 481.68 L254.97 479.44 L255.31 480.67 L255.64 477.3 L255.98 480.38 L256.31 479.55 L256.65 482.76 L256.98 480.44 L257.32 480.83 L257.65 475.79 L257.98 479.06 L258.32 477.88 L258.65 481.13 L258.99 480.48 L259.32 479.15 L259.66 479.04 L259.99 478.78 L260.33 478.39 L260.66 479.18 L261 478.93 L261.33 477.76 L261.67 476.81 L262 479.8 L262.4 476.85 L262.91 476.2 L263.42 480.02 L263.92 476.81 L264.43 476.22 L264.94 474.37 L265.45 474.54 L265.96 477.47 L266.46 474.99 L266.97 476.67 L267.48 473.51 L267.99 475.74 L268.5 474.62 L269.01 473.64 L269.51 471.64 L270.02 475.41 L270.53 473.61 L271.04 473.16 L271.55 474.06 L272.05 471.41 L272.56 474.23 L273.07 473.21 L273.58 472.64 L274.09 472.44 L274.59 470.6 L275.1 470.97 L275.61 471.48 L276.12 470.04 L276.63 472.1 L277.14 471.18 L277.64 471.63 L278.15 467.81 L278.66 471.29 L279.17 468.55 L279.68 467.96 L280.18 468.28 L280.69 470.09 L281.2 468.68 L281.71 468.35 L282.22 468.86 L282.72 468.65 L283.23 468.48 L283.74 467.97 L284.25 466.95 L284.76 466.94 L285.26 464.49 L285.77 465.7 L286.28 463.09 L286.79 465.11 L287.3 465.03 L287.81 464.04 L288.31 463.99 L288.82 465.23 L289.33 463.47 L289.84 463.72 L290.35 465.25 L290.85 463.73 L291.36 463.85 L291.87 463.33 L292.38 462.86 L292.89 463.23 L293.39 462.62 L293.9 462.71 L294.41 461.26 L294.92 461.27 L295.43 461.27 L295.94 460 L296.44 458.26 L296.95 459.88 L297.46 460.11 L297.97 459.21 L298.48 459.89 L298.98 459.06 L299.49 458 L300 458.4 L300.8 455.86 L301.8 458.22 L302.81 456.46 L303.81 456.92 L304.81 456.03 L305.81 454.84 L306.82 455.06 L307.82 456.01 L308.82 454.73 L309.83 453.25 L310.83 453.13 L311.83 450.63 L312.84 450.21 L313.84 449.89 L314.84 450.07 L315.84 449.2 L316.85 450.63 L317.85 450.22 L318.85 450.24 L319.86 449.95 L320.86 449.28 L321.86 448.4 L322.86 449.47 L323.87 449.43 L324.87 449.8 L325.87 448.3 L326.88 447.69 L327.88 447.23 L328.88 446.16 L329.89 445.64 L330.89 443.73 L331.89 442.87 L332.89 442.45 L333.9 441.83 L334.9 442.72 L335.9 442.96 L336.91 442.94 L337.91 442.13 L338.91 442.65 L339.91 442.66 L340.92 442.16 L341.92 440.88 L342.92 441.69 L343.93 439.47 L344.93 437.67 L345.93 436.79 L346.94 438.39 L347.94 438.09 L348.94 437.14 L349.94 434.88 L350.95 435.36 L351.95 434.77 L352.95 433.3 L353.96 435.18 L354.96 435.11 L355.96 436.13 L356.96 435.27 L357.97 435.16 L358.97 433.82 L359.97 434.12 L360.98 433.2 L361.98 433.45 L362.98 433.08 L363.99 431.56 L364.99 431.57 L365.99 431.56 L366.99 430.62 L368 430.49 L369 431.2 L370 431.73 L371.01 430.83 L372.01 428.12 L373.01 429.19 L374.01 430.62 L375.02 429.44 L376.02 428.13 L377.02 428.32 L378.03 428.22 L379.03 428.63 L380.03 427.37 L381.04 428.62 L382.04 428.4 L383.04 426.39 L384.04 426.93 L385.05 426.01 L386.05 426.06 L387.05 425.61 L388.06 424.91 L389.06 424.58 L390.06 423.57 L391.06 422.58 L392.07 422.33 L393.07 421.98 L394.07 422.23 L395.08 422.02 L396.08 420.16 L397.08 421.14 L398.09 420.75 L399.09 421.18 L400.09 421.11 L401.09 420.57 L402.1 420.4 L403.1 418.42 L404.1 419.82 L405.11 420.82 L406.11 420.12 L407.11 418.61 L408.11 418.74 L409.12 417.8 L410.12 418.9 L411.12 417.58 L412.13 416.12 L413.13 415.49 L414.13 415.09 L415.14 416.01 L416.14 415.71 L417.14 415.68 L418.14 414.99 L419.15 415.9 L420.15 415.12 L421.15 414.71 L422.16 415.51 L423.16 414.68 L424.16 413.36 L425.16 412.71 L426.17 413.39 L427.17 412.95 L428.17 411.53 L429.18 412.25 L430.18 410.18 L431.18 408.25 L432.19 408.01 L433.19 406.9 L434.19 407.58 L435.19 407.98 L436.2 407.78 L437.2 407.25 L438.2 406.42 L439.21 407.55 L440.21 405.58 L441.21 406.7 L442.21 406.81 L443.22 406.5 L444.22 406.67 L445.22 404.95 L446.23 406.09 L447.23 406.2 L448.23 406.68 L449.24 404.11 L450.24 404.55 L451.24 404.34 L452.24 402.23 L453.25 402.63 L454.25 403.04 L455.25 402.41 L456.26 402.92 L457.26 403.22 L458.26 402.37 L459.26 401.85 L460.27 402.38 L461.27 401.04 L462.27 401.42 L463.28 402.2 L464.28 401.32 L465.28 401.04 L466.29 400.44 L467.29 400.64 L468.29 398.63 L469.29 397.21 L470.3 397.01 L471.3 396.96 L472.3 398.15 L473.31 399.01 L474.31 398.69 L475.31 398.95 L476.31 397.56 L477.32 396.56 L478.32 395.04 L479.32 396.37 L480.33 396.45 L481.33 395.89 L482.33 394.36 L483.34 393.69 L484.34 394.49 L485.34 394.41 L486.34 395.2 L487.35 394.79 L488.35 393.73 L489.35 392.68 L490.36 393.01 L491.36 394.49 L492.36 395.52 L493.36 393.72 L494.37 393.68 L495.37 392.53 L496.37 392.61 L497.38 389.95 L498.38 390.18 L499.38 389.18 L500.39 391.19 L501.39 390.59 L502.39 390.78 L503.39 390.35 L504.4 388.78 L505.4 389.35" fill="none" stroke="#0000ff" stroke-width="1.9" stroke-linejoin="round" stroke-linecap="round" />
<path d="M183.7 493.31 L184.03 491.13 L184.37 491.77 L184.7 492.91 L185.04 491.55 L185.37 489.89 L185.71 486.5 L186.04 488.12 L186.38 488.21 L186.71 491.24 L187.05 492.27 L187.38 489.52 L187.72 491.28 L188.05 484.7 L188.38 489.66 L188.72 486.79 L189.05 490.69 L189.39 491.18 L189.72 490.82 L190.06 490.09 L190.39 490.63 L190.73 491.74 L191.06 487.3 L191.4 491.09 L191.73 487.45 L192.07 485.38 L192.4 488.93 L192.73 489.12 L193.07 488.18 L193.4 486.28 L193.74 488.48 L194.07 486.81 L194.41 491.62 L194.74 487.64 L195.08 487.61 L195.41 485.8 L195.75 487.71 L196.08 489.53 L196.42 485.06 L196.75 485.57 L197.08 482.64 L197.42 485.82 L197.75 488.73 L198.09 483.53 L198.42 484.84 L198.76 484.06 L199.09 484.77 L199.43 483.74 L199.76 484.36 L200.1 482.87 L200.43 485.1 L200.77 486.32 L201.1 485.82 L201.43 481.02 L201.77 486.53 L202.1 485.33 L202.44 485.93 L202.77 482.25 L203.11 482.62 L203.44 484.72 L203.78 486.46 L204.11 481.61 L204.45 483.62 L204.78 483.76 L205.12 482.25 L205.45 483.33 L205.78 481.71 L206.12 484.67 L206.45 479.54 L206.79 482.72 L207.12 481.17 L207.46 481.8 L207.79 480.23 L208.13 476.52 L208.46 484.09 L208.8 482.61 L209.13 481.95 L209.47 481.06 L209.8 481.5 L210.13 480.32 L210.47 480.91 L210.8 482.92 L211.14 479.39 L211.47 478.86 L211.81 483.3 L212.14 479.23 L212.48 480.28 L212.81 479.48 L213.15 480.62 L213.48 480.56 L213.82 479.56 L214.15 477.62 L214.48 477.53 L214.82 479.07 L215.15 481.8 L215.49 475.75 L215.82 478.36 L216.16 479.16 L216.49 477.32 L216.83 478.49 L217.16 477.81 L217.5 479.13 L217.83 480.39 L218.17 477.05 L218.5 477.9 L218.83 478 L219.17 477.4 L219.5 477.02 L219.84 473.41 L220.17 476.87 L220.51 474.86 L220.84 475.74 L221.18 476.99 L221.51 477.06 L221.85 475.29 L222.18 475.12 L222.52 475.27 L222.85 473.91 L223.18 477.91 L223.52 478.07 L223.85 474.86 L224.19 477.57 L224.52 476.11 L224.86 473.04 L225.19 476.05 L225.53 475.52 L225.86 474.57 L226.2 471.89 L226.53 473.1 L226.87 470.28 L227.2 473.71 L227.53 473.16 L227.87 471.73 L228.2 471.38 L228.54 475.27 L228.87 470.69 L229.21 474.05 L229.54 472.94 L229.88 474.56 L230.21 469.98 L230.55 472.52 L230.88 474.14 L231.22 471.82 L231.55 469.76 L231.88 468.79 L232.22 470.58 L232.55 473.08 L232.89 473.73 L233.22 471.33 L233.56 472.46 L233.89 472.5 L234.23 471.75 L234.56 469.41 L234.9 471.66 L235.23 468.87 L235.57 470.44 L235.9 471.34 L236.23 471.63 L236.57 469.68 L236.9 471.44 L237.24 471.89 L237.57 470.91 L237.91 469.24 L238.24 469.64 L238.58 469.07 L238.91 468.98 L239.25 469.85 L239.58 470.26 L239.92 468.51 L240.25 469.46 L240.58 468.59 L240.92 468.3 L241.25 466.48 L241.59 468.36 L241.92 467.48 L242.26 467.94 L242.59 468.86 L242.93 468.34 L243.26 468.14 L243.6 466.2 L243.93 464.44 L244.27 466.09 L244.6 466.49 L244.93 466.66 L245.27 468.21 L245.6 466.53 L245.94 468.04 L246.27 465.22 L246.61 464.1 L246.94 466.79 L247.28 463.76 L247.61 462.98 L247.95 464.3 L248.28 465.45 L248.62 466.41 L248.95 464.7 L249.28 465.84 L249.62 464.37 L249.95 461.93 L250.29 462.54 L250.62 461.59 L250.96 463.55 L251.29 460.72 L251.63 461.52 L251.96 462.22 L252.3 464.52 L252.63 463.87 L252.97 462.43 L253.3 463.11 L253.63 462.34 L253.97 466.36 L254.3 460.07 L254.64 459.42 L254.97 459.43 L255.31 459.98 L255.64 461.33 L255.98 462.96 L256.31 461.19 L256.65 461 L256.98 461.02 L257.32 461.34 L257.65 459.68 L257.98 461.64 L258.32 460.57 L258.65 460.82 L258.99 461.1 L259.32 460.98 L259.66 461.13 L259.99 458.75 L260.33 460.41 L260.66 457.55 L261 456.68 L261.33 458.84 L261.67 459.75 L262 459.7 L262.4 459.36 L262.91 459.79 L263.42 456.13 L263.92 457.52 L264.43 457.72 L264.94 456.75 L265.45 458.01 L265.96 458.13 L266.46 457.56 L266.97 457.1 L267.48 459.7 L267.99 456.62 L268.5 456.34 L269.01 457.64 L269.51 458.19 L270.02 454.52 L270.53 454.21 L271.04 456.94 L271.55 456.44 L272.05 455.88 L272.56 454.29 L273.07 455.21 L273.58 452.44 L274.09 452.56 L274.59 455.66 L275.1 452 L275.61 453.13 L276.12 453.87 L276.63 453.27 L277.14 451.36 L277.64 451.75 L278.15 452.95 L278.66 451.51 L279.17 453.79 L279.68 451.44 L280.18 453.55 L280.69 451.15 L281.2 452.41 L281.71 451.25 L282.22 450.6 L282.72 448.72 L283.23 450.77 L283.74 449.96 L284.25 450.07 L284.76 448.81 L285.26 448.15 L285.77 447.95 L286.28 448.62 L286.79 449.53 L287.3 447.99 L287.81 447.01 L288.31 446.94 L288.82 446.64 L289.33 445.86 L289.84 446.95 L290.35 446.39 L290.85 446.44 L291.36 448.17 L291.87 446.81 L292.38 447.04 L292.89 446.1 L293.39 445.76 L293.9 444.84 L294.41 443.46 L294.92 443.98 L295.43 444.23 L295.94 444.42 L296.44 445.61 L296.95 444.2 L297.46 442.59 L297.97 443.3 L298.48 443.98 L298.98 442.79 L299.49 442.64 L300 443.3 L300.8 443.27 L301.8 443.92 L302.81 443.39 L303.81 441.35 L304.81 442.22 L305.81 441.93 L306.82 441.04 L307.82 440.8 L308.82 440.63 L309.83 439.46 L310.83 437.93 L311.83 437.53 L312.84 438.07 L313.84 436.88 L314.84 436.03 L315.84 434.83 L316.85 435.58 L317.85 434.38 L318.85 434.29 L319.86 433.59 L320.86 434.81 L321.86 435.03 L322.86 436.1 L323.87 433.85 L324.87 432.18 L325.87 432.17 L326.88 430.52 L327.88 430.2 L328.88 430.87 L329.89 430.5 L330.89 430.81 L331.89 429.38 L332.89 428.65 L333.9 428.35 L334.9 428.85 L335.9 429.17 L336.91 429.24 L337.91 428.13 L338.91 426.59 L339.91 425.83 L340.92 425.59 L341.92 423.91 L342.92 423.33 L343.93 422.11 L344.93 423.03 L345.93 423.28 L346.94 422.23 L347.94 423.1 L348.94 422.64 L349.94 421.99 L350.95 422.12 L351.95 421.69 L352.95 420.02 L353.96 419.23 L354.96 417.92 L355.96 418.78 L356.96 418.44 L357.97 418.96 L358.97 417.68 L359.97 416.42 L360.98 417.6 L361.98 417.91 L362.98 416 L363.99 417.04 L364.99 416 L365.99 417.28 L366.99 417.03 L368 415.86 L369 415.45 L370 415.2 L371.01 412.56 L372.01 414.12 L373.01 414 L374.01 414.7 L375.02 411.83 L376.02 413.1 L377.02 413.01 L378.03 411.78 L379.03 413.57 L380.03 413.4 L381.04 411.62 L382.04 410.57 L383.04 411 L384.04 412.09 L385.05 411.41 L386.05 410.04 L387.05 411.02 L388.06 409.32 L389.06 409.85 L390.06 409.41 L391.06 408.31 L392.07 407.12 L393.07 406.32 L394.07 406.16 L395.08 407.08 L396.08 406.18 L397.08 404.81 L398.09 405.77 L399.09 405.87 L400.09 404.96 L401.09 405.3 L402.1 404.46 L403.1 405.26 L404.1 403.95 L405.11 402.59 L406.11 402 L407.11 402.07 L408.11 402.04 L409.12 401.33 L410.12 400.89 L411.12 399.89 L412.13 399.89 L413.13 401.62 L414.13 400.92 L415.14 399.74 L416.14 399.22 L417.14 398.7 L418.14 398.81 L419.15 398.1 L420.15 399.25 L421.15 398.04 L422.16 397.69 L423.16 398.8 L424.16 398 L425.16 398.51 L426.17 397.43 L427.17 397.54 L428.17 398.64 L429.18 396.53 L430.18 396.47 L431.18 394.95 L432.19 394.9 L433.19 394.23 L434.19 394.41 L435.19 393.28 L436.2 391.77 L437.2 393.07 L438.2 393.26 L439.21 394.23 L440.21 393.7 L441.21 393.19 L442.21 391.95 L443.22 390.68 L444.22 391.11 L445.22 390.11 L446.23 391.55 L447.23 392.23 L448.23 391.72 L449.24 391.88 L450.24 390.74 L451.24 389.61 L452.24 391.34 L453.25 389.93 L454.25 390.31 L455.25 388.65 L456.26 388.63 L457.26 388.88 L458.26 386.78 L459.26 385.64 L460.27 385.56 L461.27 385.69 L462.27 385.99 L463.28 385.35 L464.28 384.9 L465.28 384.29 L466.29 383.85 L467.29 384.66 L468.29 384.25 L469.29 383.43 L470.3 382.79 L471.3 382.63 L472.3 381.74 L473.31 382.62 L474.31 383.14 L475.31 381.82 L476.31 381.59 L477.32 381.44 L478.32 382.16 L479.32 381.1 L480.33 380.69 L481.33 379.74 L482.33 379.11 L483.34 378.88 L484.34 381.92 L485.34 381.69 L486.34 380.83 L487.35 380.22 L488.35 378.31 L489.35 377.64 L490.36 378.64 L491.36 378.52 L492.36 379.27 L493.36 378.71 L494.37 378.76 L495.37 378.35 L496.37 378.36 L497.38 378.13 L498.38 378.47 L499.38 377.18 L500.39 376.58 L501.39 375.71 L502.39 375.64 L503.39 375.82 L504.4 375.43 L505.4 373.39" fill="none" stroke="#00ffff" stroke-width="1.9" stroke-linejoin="round" stroke-linecap="round" />
<line x1="181.7" y1="584.77" x2="308" y2="485.57" stroke="#ff8000" stroke-width="1.25" stroke-dasharray="3.6 2.4"/>
<line x1="181.7" y1="562.61" x2="326.6" y2="460.37" stroke="#ff8000" stroke-width="1.25" stroke-dasharray="3.6 2.4"/>
<line x1="181.7" y1="537.73" x2="318" y2="453.96" stroke="#ff8000" stroke-width="1.25" stroke-dasharray="3.6 2.4"/>
<line x1="181.7" y1="518.01" x2="355" y2="430.89" stroke="#ff8000" stroke-width="1.25" stroke-dasharray="3.6 2.4"/>
<line x1="181.7" y1="493.05" x2="424.5" y2="390.45" stroke="#ff8000" stroke-width="1.25" stroke-dasharray="3.6 2.4"/>
</g>
<path d="M273.2 512.9 L285.6 489.3 L289.3 471.6 L313 452 L361.2 417.2" fill="none" stroke="#ff8000" stroke-width="1.5" stroke-linejoin="round" stroke-linecap="round" />
<circle cx="273.2" cy="512.9" r="5.3" fill="url(#gk)" stroke="#000" stroke-width="0.6"/>
<path d="M285.6 483.7 L286.98 487.4 L290.93 487.57 L287.84 490.03 L288.89 493.83 L285.6 491.65 L282.31 493.83 L283.36 490.03 L280.27 487.57 L284.22 487.4Z" fill="#ff8000" />
<path d="M289.3 466 L290.68 469.7 L294.63 469.87 L291.54 472.33 L292.59 476.13 L289.3 473.95 L286.01 476.13 L287.06 472.33 L283.97 469.87 L287.92 469.7Z" fill="#ff8000" />
<path d="M313 446.4 L314.38 450.1 L318.33 450.27 L315.24 452.73 L316.29 456.53 L313 454.35 L309.71 456.53 L310.76 452.73 L307.67 450.27 L311.62 450.1Z" fill="#ff8000" />
<path d="M361.2 411.6 L362.58 415.3 L366.53 415.47 L363.44 417.93 L364.49 421.73 L361.2 419.55 L357.91 421.73 L358.96 417.93 L355.87 415.47 L359.82 415.3Z" fill="#ff8000" />
<rect x="184.0" y="371.2" width="321.4" height="235.2" fill="none" stroke="#000" stroke-width="1.7"/>
<text transform="translate(116.6,369) scale(0.985,1.07)" font-size="18" text-anchor="start" fill="#000" font-weight="bold" font-style="normal" >c</text>
<text transform="translate(177.5,612.6) scale(0.985,1.07)" font-size="19" text-anchor="end" fill="#000" font-weight="normal" font-style="normal" >2</text>
<text transform="translate(177.5,562.9) scale(0.985,1.07)" font-size="19" text-anchor="end" fill="#000" font-weight="normal" font-style="normal" >3</text>
<text transform="translate(177.5,513.2) scale(0.985,1.07)" font-size="19" text-anchor="end" fill="#000" font-weight="normal" font-style="normal" >4</text>
<text transform="translate(177.5,463.5) scale(0.985,1.07)" font-size="19" text-anchor="end" fill="#000" font-weight="normal" font-style="normal" >5</text>
<text transform="translate(177.5,413.8) scale(0.985,1.07)" font-size="19" text-anchor="end" fill="#000" font-weight="normal" font-style="normal" >6</text>
<text transform="translate(183.3,628.6) scale(0.985,1.07)" font-size="19" text-anchor="middle" fill="#000" font-weight="normal" font-style="normal" >0.00</text>
<text transform="translate(344.55,628.6) scale(0.985,1.07)" font-size="19" text-anchor="middle" fill="#000" font-weight="normal" font-style="normal" >0.05</text>
<text transform="translate(505.4,628.6) scale(0.985,1.07)" font-size="19" text-anchor="middle" fill="#000" font-weight="normal" font-style="normal" >0.10</text>
<text transform="translate(345,657.9) scale(0.985,1.07)" font-size="19" text-anchor="middle" fill="#000" font-weight="normal" font-style="normal" ><tspan font-style="italic">T</tspan><tspan font-size="12" dy="-8">&#8201;2</tspan><tspan dy="8">&#160;&#160;&#160;(K</tspan><tspan font-size="12" dy="-8">2</tspan><tspan dy="8">)</tspan></text>
<text transform="translate(157.4,476.5) rotate(-90) scale(0.985,1.07)" font-size="19" text-anchor="middle" fill="#000" ><tspan font-style="italic" font-size="19">&#961;</tspan>&#160;&#160;(&#181;&#937;cm)</text>
<text transform="translate(309.3,413.7) scale(0.985,1.07)" font-size="18.2" text-anchor="start" fill="#ff8000" font-weight="bold" font-style="italic" >T</text>
<text transform="translate(318,421.3) scale(0.985,1.07)" font-size="11.5" text-anchor="start" fill="#ff8000" font-weight="bold" font-style="normal" >Cr</text>
<text transform="translate(268.3,548.6) scale(0.985,1.07)" font-size="18.5" text-anchor="start" fill="#000" font-weight="bold" font-style="italic" >T</text>
<text transform="translate(278,556.1) scale(0.985,1.07)" font-size="13.5" text-anchor="start" fill="#000" font-weight="bold" font-style="normal" >c</text>
<text transform="translate(413.3,390.1) scale(0.985,1.07)" font-size="14.4" text-anchor="start" fill="#00e8e8" font-weight="normal" font-style="normal" >150</text>
<text transform="translate(406.6,414.6) scale(0.985,1.07)" font-size="14.4" text-anchor="start" fill="#0000ff" font-weight="normal" font-style="normal" >100</text>
<text transform="translate(409.1,440) scale(0.985,1.07)" font-size="14.6" text-anchor="start" fill="#00dd00" font-weight="normal" font-style="normal" >30</text>
<text transform="translate(404.6,463) scale(0.985,1.07)" font-size="14.6" text-anchor="start" fill="#ff0000" font-weight="normal" font-style="normal" >10</text>
<text transform="translate(444.2,476) scale(0.985,1.07)" font-size="14.6" text-anchor="start" fill="#000" font-weight="normal" font-style="normal" ><tspan font-style="italic">B</tspan> = 0 mT</text>
<line x1="372.3" y1="584.9" x2="372.3" y2="500.5" stroke="#000" stroke-width="1.35" />
<path d="M370.2 503.6 L372.3 497.0 L374.4 503.6Z" fill="#000"/>
<line x1="371.7" y1="584.3" x2="486" y2="584.3" stroke="#000" stroke-width="1.35" />
<path d="M482.8 582.2 L489.4 584.3 L482.8 586.4Z" fill="#000"/>
<line x1="372.3" y1="514.7" x2="376.5" y2="514.7" stroke="#000" stroke-width="1.2" />
<line x1="372.3" y1="539.5" x2="376.5" y2="539.5" stroke="#000" stroke-width="1.2" />
<line x1="372.3" y1="563" x2="376.5" y2="563" stroke="#000" stroke-width="1.2" />
<line x1="425.3" y1="584.3" x2="425.3" y2="580.1" stroke="#000" stroke-width="1.2" />
<line x1="478.4" y1="584.3" x2="478.4" y2="580.1" stroke="#000" stroke-width="1.2" />
<line x1="366.8" y1="573.2" x2="377.8" y2="567.8" stroke="#000" stroke-width="1.35" />
<line x1="366.8" y1="580.2" x2="377.8" y2="574.8" stroke="#000" stroke-width="1.35" />
<line x1="372.3" y1="571.4" x2="372.3" y2="576.6" stroke="#fff" stroke-width="2.4" />
<line x1="372.3" y1="553.9" x2="486.6" y2="510.9" stroke="#808000" stroke-width="1.1" stroke-dasharray="2 1.6"/>
<path d="M378 544.9 L378.94 547.41 L381.61 547.53 L379.52 549.19 L380.23 551.77 L378 550.3 L375.77 551.77 L376.48 549.19 L374.39 547.53 L377.06 547.41Z" fill="#ff8000" />
<path d="M388.5 543.7 L389.44 546.21 L392.11 546.33 L390.02 547.99 L390.73 550.57 L388.5 549.1 L386.27 550.57 L386.98 547.99 L384.89 546.33 L387.56 546.21Z" fill="#ff8000" />
<path d="M425.3 535.2 L426.24 537.71 L428.91 537.83 L426.82 539.49 L427.53 542.07 L425.3 540.6 L423.07 542.07 L423.78 539.49 L421.69 537.83 L424.36 537.71Z" fill="#ff8000" />
<path d="M451.9 518.3 L452.84 520.81 L455.51 520.93 L453.42 522.59 L454.13 525.17 L451.9 523.7 L449.67 525.17 L450.38 522.59 L448.29 520.93 L450.96 520.81Z" fill="#ff8000" />
<rect x="375.2" y="549.9" width="5.6" height="5.6" fill="#0000a0"/>
<rect x="396.4" y="543.2" width="5.6" height="5.6" fill="#0000a0"/>
<rect x="422.5" y="533.7" width="5.6" height="5.6" fill="#0000a0"/>
<rect x="475.9" y="507.6" width="5.6" height="5.6" fill="#0000a0"/>
<circle cx="372.3" cy="553.9" r="2.9" fill="#505008" stroke="#000" stroke-width="1.6"/>
<text transform="translate(372.3,599.6) scale(0.985,1.07)" font-size="13.5" text-anchor="middle" fill="#000" font-weight="normal" font-style="normal" >0</text>
<text transform="translate(478.4,599.6) scale(0.985,1.07)" font-size="13.5" text-anchor="middle" fill="#000" font-weight="normal" font-style="normal" >200</text>
<text transform="translate(368,543.2) scale(0.985,1.07)" font-size="13.5" text-anchor="end" fill="#000" font-weight="normal" font-style="normal" >0.2</text>
<text transform="translate(378.3,509.4) scale(0.985,1.07)" font-size="13" text-anchor="start" fill="#000" font-weight="normal" font-style="normal" ><tspan font-style="italic">T</tspan> (K)</text>
<text transform="translate(430.7,579.7) scale(0.985,1.07)" font-size="13.2" text-anchor="start" fill="#000" font-weight="normal" font-style="normal" ><tspan font-style="italic">B</tspan> (mT)</text>
<text transform="translate(353.8,561) scale(0.985,1.07)" font-size="13.5" text-anchor="start" fill="#000" font-weight="normal" font-style="normal" ><tspan font-style="italic">T</tspan><tspan font-size="10.5" dy="4.6">C</tspan></text>
<text transform="translate(464.3,535) scale(0.985,1.07)" font-size="15" text-anchor="start" fill="#808000" font-weight="bold" font-style="italic" >T</text>
<text transform="translate(472.2,539.6) scale(0.985,1.07)" font-size="9" text-anchor="start" fill="#808000" font-weight="bold" font-style="normal" >Cr</text>
</g>
</svg></body></html>
